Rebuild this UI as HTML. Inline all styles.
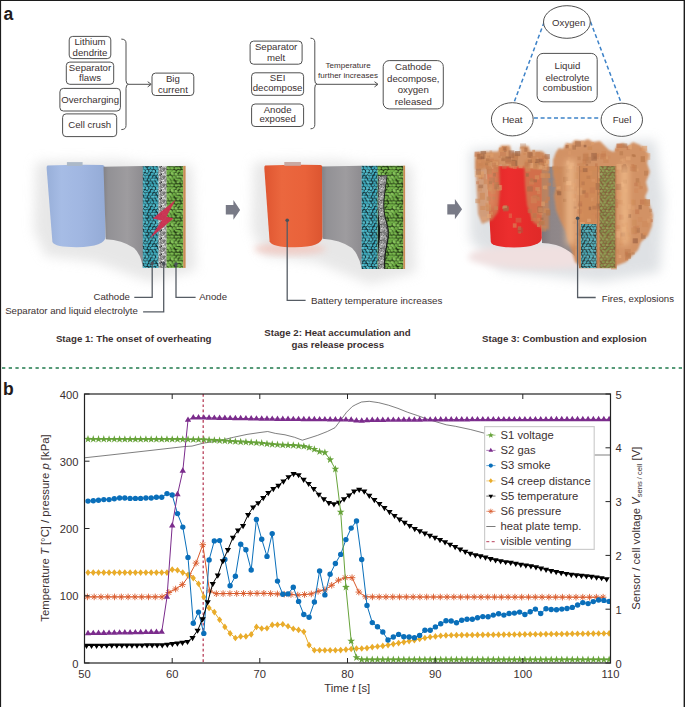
<!DOCTYPE html>
<html><head><meta charset="utf-8"><style>
html,body{margin:0;padding:0;background:#fff;}
body{width:685px;height:707px;overflow:hidden;position:relative;}
svg{position:absolute;left:0;top:0;}
text{font-family:"Liberation Sans",sans-serif;fill:#3b3030;}
.t{font-size:9.65px;}
.ts{font-size:8.05px;}
.st{font-size:9.7px;font-weight:bold;}
.pl{font-size:17.5px;font-weight:bold;fill:#231a1a;}
.ax{font-size:11.2px;}
.at{font-size:11.3px;}
.lg{font-size:11.25px;}
</style></head><body>
<svg width="685" height="707" viewBox="0 0 685 707">
<defs>
<clipPath id="plotclip"><rect x="84.5" y="394" width="526" height="269"/></clipPath>

<filter id="blur6" x="-30%" y="-30%" width="160%" height="160%"><feGaussianBlur stdDeviation="6"/></filter>
<filter id="blur4" x="-30%" y="-30%" width="160%" height="160%"><feGaussianBlur stdDeviation="4"/></filter>
<filter id="blur3" x="-30%" y="-30%" width="160%" height="160%"><feGaussianBlur stdDeviation="3"/></filter>
<filter id="blur2" x="-30%" y="-30%" width="160%" height="160%"><feGaussianBlur stdDeviation="2"/></filter>
<filter id="blur1" x="-20%" y="-20%" width="140%" height="140%"><feGaussianBlur stdDeviation="1"/></filter>
<filter id="blur07" x="-20%" y="-20%" width="140%" height="140%"><feGaussianBlur stdDeviation="0.7"/></filter>
<filter id="blur05"><feGaussianBlur stdDeviation="0.45"/></filter>
<linearGradient id="cylBlue" x1="0" x2="1" y1="0" y2="0">
 <stop offset="0" stop-color="#98afd9"/><stop offset="0.25" stop-color="#a6bce5"/>
 <stop offset="0.6" stop-color="#a0b6e1"/><stop offset="1" stop-color="#94abd6"/></linearGradient>
<linearGradient id="cylOr" x1="0" x2="1" y1="0" y2="0">
 <stop offset="0" stop-color="#df5530"/><stop offset="0.3" stop-color="#eb673e"/>
 <stop offset="0.7" stop-color="#e9623a"/><stop offset="1" stop-color="#dc5530"/></linearGradient>
<linearGradient id="cylRed" x1="0" x2="1" y1="0" y2="0">
 <stop offset="0" stop-color="#e02626"/><stop offset="0.4" stop-color="#ec2e2e"/>
 <stop offset="1" stop-color="#e02a28"/></linearGradient>
<linearGradient id="sheet" x1="0" x2="1" y1="0" y2="0">
 <stop offset="0" stop-color="#838286"/><stop offset="0.12" stop-color="#929195"/>
 <stop offset="0.6" stop-color="#9e9c9f"/><stop offset="1" stop-color="#8e8c90"/></linearGradient>
<linearGradient id="sheet2" x1="0" x2="1" y1="0" y2="0">
 <stop offset="0" stop-color="#7c7478"/><stop offset="0.3" stop-color="#8e8688"/>
 <stop offset="1" stop-color="#948c8e"/></linearGradient>

<pattern id="patC" patternUnits="userSpaceOnUse" width="14.0" height="17.1"><rect width="14.0" height="17.1" fill="#10282e"/><ellipse cx="-14.29" cy="-16.82" rx="1.51" ry="1.39" transform="rotate(26 -14.29 -16.82)" fill="#52bccc"/><ellipse cx="-14.29" cy="0.28" rx="1.51" ry="1.39" transform="rotate(26 -14.29 0.28)" fill="#52bccc"/><ellipse cx="-14.29" cy="17.38" rx="1.51" ry="1.39" transform="rotate(26 -14.29 17.38)" fill="#52bccc"/><ellipse cx="-0.29" cy="-16.82" rx="1.51" ry="1.39" transform="rotate(26 -0.29 -16.82)" fill="#52bccc"/><ellipse cx="-0.29" cy="0.28" rx="1.51" ry="1.39" transform="rotate(26 -0.29 0.28)" fill="#52bccc"/><ellipse cx="-0.29" cy="17.38" rx="1.51" ry="1.39" transform="rotate(26 -0.29 17.38)" fill="#52bccc"/><ellipse cx="13.71" cy="-16.82" rx="1.51" ry="1.39" transform="rotate(26 13.71 -16.82)" fill="#52bccc"/><ellipse cx="13.71" cy="0.28" rx="1.51" ry="1.39" transform="rotate(26 13.71 0.28)" fill="#52bccc"/><ellipse cx="13.71" cy="17.38" rx="1.51" ry="1.39" transform="rotate(26 13.71 17.38)" fill="#52bccc"/><ellipse cx="-10.52" cy="-17.20" rx="1.46" ry="1.42" transform="rotate(-29 -10.52 -17.20)" fill="#52bccc"/><ellipse cx="-10.52" cy="-0.10" rx="1.46" ry="1.42" transform="rotate(-29 -10.52 -0.10)" fill="#52bccc"/><ellipse cx="-10.52" cy="17.00" rx="1.46" ry="1.42" transform="rotate(-29 -10.52 17.00)" fill="#52bccc"/><ellipse cx="3.48" cy="-17.20" rx="1.46" ry="1.42" transform="rotate(-29 3.48 -17.20)" fill="#52bccc"/><ellipse cx="3.48" cy="-0.10" rx="1.46" ry="1.42" transform="rotate(-29 3.48 -0.10)" fill="#52bccc"/><ellipse cx="3.48" cy="17.00" rx="1.46" ry="1.42" transform="rotate(-29 3.48 17.00)" fill="#52bccc"/><ellipse cx="17.48" cy="-17.20" rx="1.46" ry="1.42" transform="rotate(-29 17.48 -17.20)" fill="#52bccc"/><ellipse cx="17.48" cy="-0.10" rx="1.46" ry="1.42" transform="rotate(-29 17.48 -0.10)" fill="#52bccc"/><ellipse cx="17.48" cy="17.00" rx="1.46" ry="1.42" transform="rotate(-29 17.48 17.00)" fill="#52bccc"/><ellipse cx="-7.05" cy="-16.89" rx="1.61" ry="1.40" transform="rotate(-50 -7.05 -16.89)" fill="#52bccc"/><ellipse cx="-7.05" cy="0.21" rx="1.61" ry="1.40" transform="rotate(-50 -7.05 0.21)" fill="#52bccc"/><ellipse cx="-7.05" cy="17.31" rx="1.61" ry="1.40" transform="rotate(-50 -7.05 17.31)" fill="#52bccc"/><ellipse cx="6.95" cy="-16.89" rx="1.61" ry="1.40" transform="rotate(-50 6.95 -16.89)" fill="#52bccc"/><ellipse cx="6.95" cy="0.21" rx="1.61" ry="1.40" transform="rotate(-50 6.95 0.21)" fill="#52bccc"/><ellipse cx="6.95" cy="17.31" rx="1.61" ry="1.40" transform="rotate(-50 6.95 17.31)" fill="#52bccc"/><ellipse cx="20.95" cy="-16.89" rx="1.61" ry="1.40" transform="rotate(-50 20.95 -16.89)" fill="#52bccc"/><ellipse cx="20.95" cy="0.21" rx="1.61" ry="1.40" transform="rotate(-50 20.95 0.21)" fill="#52bccc"/><ellipse cx="20.95" cy="17.31" rx="1.61" ry="1.40" transform="rotate(-50 20.95 17.31)" fill="#52bccc"/><ellipse cx="-3.43" cy="-17.42" rx="1.46" ry="1.29" transform="rotate(-18 -3.43 -17.42)" fill="#46b0c2"/><ellipse cx="-3.43" cy="-0.32" rx="1.46" ry="1.29" transform="rotate(-18 -3.43 -0.32)" fill="#46b0c2"/><ellipse cx="-3.43" cy="16.78" rx="1.46" ry="1.29" transform="rotate(-18 -3.43 16.78)" fill="#46b0c2"/><ellipse cx="10.57" cy="-17.42" rx="1.46" ry="1.29" transform="rotate(-18 10.57 -17.42)" fill="#46b0c2"/><ellipse cx="10.57" cy="-0.32" rx="1.46" ry="1.29" transform="rotate(-18 10.57 -0.32)" fill="#46b0c2"/><ellipse cx="10.57" cy="16.78" rx="1.46" ry="1.29" transform="rotate(-18 10.57 16.78)" fill="#46b0c2"/><ellipse cx="24.57" cy="-17.42" rx="1.46" ry="1.29" transform="rotate(-18 24.57 -17.42)" fill="#46b0c2"/><ellipse cx="24.57" cy="-0.32" rx="1.46" ry="1.29" transform="rotate(-18 24.57 -0.32)" fill="#46b0c2"/><ellipse cx="24.57" cy="16.78" rx="1.46" ry="1.29" transform="rotate(-18 24.57 16.78)" fill="#46b0c2"/><ellipse cx="-11.90" cy="-14.35" rx="1.90" ry="1.28" transform="rotate(-28 -11.90 -14.35)" fill="#52bccc"/><ellipse cx="-11.90" cy="2.75" rx="1.90" ry="1.28" transform="rotate(-28 -11.90 2.75)" fill="#52bccc"/><ellipse cx="-11.90" cy="19.85" rx="1.90" ry="1.28" transform="rotate(-28 -11.90 19.85)" fill="#52bccc"/><ellipse cx="2.10" cy="-14.35" rx="1.90" ry="1.28" transform="rotate(-28 2.10 -14.35)" fill="#52bccc"/><ellipse cx="2.10" cy="2.75" rx="1.90" ry="1.28" transform="rotate(-28 2.10 2.75)" fill="#52bccc"/><ellipse cx="2.10" cy="19.85" rx="1.90" ry="1.28" transform="rotate(-28 2.10 19.85)" fill="#52bccc"/><ellipse cx="16.10" cy="-14.35" rx="1.90" ry="1.28" transform="rotate(-28 16.10 -14.35)" fill="#52bccc"/><ellipse cx="16.10" cy="2.75" rx="1.90" ry="1.28" transform="rotate(-28 16.10 2.75)" fill="#52bccc"/><ellipse cx="16.10" cy="19.85" rx="1.90" ry="1.28" transform="rotate(-28 16.10 19.85)" fill="#52bccc"/><ellipse cx="-8.54" cy="-13.90" rx="1.59" ry="1.14" transform="rotate(5 -8.54 -13.90)" fill="#52bccc"/><ellipse cx="-8.54" cy="3.20" rx="1.59" ry="1.14" transform="rotate(5 -8.54 3.20)" fill="#52bccc"/><ellipse cx="-8.54" cy="20.30" rx="1.59" ry="1.14" transform="rotate(5 -8.54 20.30)" fill="#52bccc"/><ellipse cx="5.46" cy="-13.90" rx="1.59" ry="1.14" transform="rotate(5 5.46 -13.90)" fill="#52bccc"/><ellipse cx="5.46" cy="3.20" rx="1.59" ry="1.14" transform="rotate(5 5.46 3.20)" fill="#52bccc"/><ellipse cx="5.46" cy="20.30" rx="1.59" ry="1.14" transform="rotate(5 5.46 20.30)" fill="#52bccc"/><ellipse cx="19.46" cy="-13.90" rx="1.59" ry="1.14" transform="rotate(5 19.46 -13.90)" fill="#52bccc"/><ellipse cx="19.46" cy="3.20" rx="1.59" ry="1.14" transform="rotate(5 19.46 3.20)" fill="#52bccc"/><ellipse cx="19.46" cy="20.30" rx="1.59" ry="1.14" transform="rotate(5 19.46 20.30)" fill="#52bccc"/><ellipse cx="-5.28" cy="-14.42" rx="2.02" ry="1.09" transform="rotate(-48 -5.28 -14.42)" fill="#3eaabc"/><ellipse cx="-5.28" cy="2.68" rx="2.02" ry="1.09" transform="rotate(-48 -5.28 2.68)" fill="#3eaabc"/><ellipse cx="-5.28" cy="19.78" rx="2.02" ry="1.09" transform="rotate(-48 -5.28 19.78)" fill="#3eaabc"/><ellipse cx="8.72" cy="-14.42" rx="2.02" ry="1.09" transform="rotate(-48 8.72 -14.42)" fill="#3eaabc"/><ellipse cx="8.72" cy="2.68" rx="2.02" ry="1.09" transform="rotate(-48 8.72 2.68)" fill="#3eaabc"/><ellipse cx="8.72" cy="19.78" rx="2.02" ry="1.09" transform="rotate(-48 8.72 19.78)" fill="#3eaabc"/><ellipse cx="22.72" cy="-14.42" rx="2.02" ry="1.09" transform="rotate(-48 22.72 -14.42)" fill="#3eaabc"/><ellipse cx="22.72" cy="2.68" rx="2.02" ry="1.09" transform="rotate(-48 22.72 2.68)" fill="#3eaabc"/><ellipse cx="22.72" cy="19.78" rx="2.02" ry="1.09" transform="rotate(-48 22.72 19.78)" fill="#3eaabc"/><ellipse cx="-1.65" cy="-14.07" rx="1.65" ry="1.37" transform="rotate(-20 -1.65 -14.07)" fill="#3eaabc"/><ellipse cx="-1.65" cy="3.03" rx="1.65" ry="1.37" transform="rotate(-20 -1.65 3.03)" fill="#3eaabc"/><ellipse cx="-1.65" cy="20.13" rx="1.65" ry="1.37" transform="rotate(-20 -1.65 20.13)" fill="#3eaabc"/><ellipse cx="12.35" cy="-14.07" rx="1.65" ry="1.37" transform="rotate(-20 12.35 -14.07)" fill="#3eaabc"/><ellipse cx="12.35" cy="3.03" rx="1.65" ry="1.37" transform="rotate(-20 12.35 3.03)" fill="#3eaabc"/><ellipse cx="12.35" cy="20.13" rx="1.65" ry="1.37" transform="rotate(-20 12.35 20.13)" fill="#3eaabc"/><ellipse cx="26.35" cy="-14.07" rx="1.65" ry="1.37" transform="rotate(-20 26.35 -14.07)" fill="#3eaabc"/><ellipse cx="26.35" cy="3.03" rx="1.65" ry="1.37" transform="rotate(-20 26.35 3.03)" fill="#3eaabc"/><ellipse cx="26.35" cy="20.13" rx="1.65" ry="1.37" transform="rotate(-20 26.35 20.13)" fill="#3eaabc"/><ellipse cx="-13.83" cy="-11.05" rx="1.56" ry="1.17" transform="rotate(-8 -13.83 -11.05)" fill="#3eaabc"/><ellipse cx="-13.83" cy="6.05" rx="1.56" ry="1.17" transform="rotate(-8 -13.83 6.05)" fill="#3eaabc"/><ellipse cx="-13.83" cy="23.15" rx="1.56" ry="1.17" transform="rotate(-8 -13.83 23.15)" fill="#3eaabc"/><ellipse cx="0.17" cy="-11.05" rx="1.56" ry="1.17" transform="rotate(-8 0.17 -11.05)" fill="#3eaabc"/><ellipse cx="0.17" cy="6.05" rx="1.56" ry="1.17" transform="rotate(-8 0.17 6.05)" fill="#3eaabc"/><ellipse cx="0.17" cy="23.15" rx="1.56" ry="1.17" transform="rotate(-8 0.17 23.15)" fill="#3eaabc"/><ellipse cx="14.17" cy="-11.05" rx="1.56" ry="1.17" transform="rotate(-8 14.17 -11.05)" fill="#3eaabc"/><ellipse cx="14.17" cy="6.05" rx="1.56" ry="1.17" transform="rotate(-8 14.17 6.05)" fill="#3eaabc"/><ellipse cx="14.17" cy="23.15" rx="1.56" ry="1.17" transform="rotate(-8 14.17 23.15)" fill="#3eaabc"/><ellipse cx="-10.12" cy="-11.40" rx="1.81" ry="1.06" transform="rotate(44 -10.12 -11.40)" fill="#52bccc"/><ellipse cx="-10.12" cy="5.70" rx="1.81" ry="1.06" transform="rotate(44 -10.12 5.70)" fill="#52bccc"/><ellipse cx="-10.12" cy="22.80" rx="1.81" ry="1.06" transform="rotate(44 -10.12 22.80)" fill="#52bccc"/><ellipse cx="3.88" cy="-11.40" rx="1.81" ry="1.06" transform="rotate(44 3.88 -11.40)" fill="#52bccc"/><ellipse cx="3.88" cy="5.70" rx="1.81" ry="1.06" transform="rotate(44 3.88 5.70)" fill="#52bccc"/><ellipse cx="3.88" cy="22.80" rx="1.81" ry="1.06" transform="rotate(44 3.88 22.80)" fill="#52bccc"/><ellipse cx="17.88" cy="-11.40" rx="1.81" ry="1.06" transform="rotate(44 17.88 -11.40)" fill="#52bccc"/><ellipse cx="17.88" cy="5.70" rx="1.81" ry="1.06" transform="rotate(44 17.88 5.70)" fill="#52bccc"/><ellipse cx="17.88" cy="22.80" rx="1.81" ry="1.06" transform="rotate(44 17.88 22.80)" fill="#52bccc"/><ellipse cx="-7.21" cy="-11.16" rx="1.67" ry="1.44" transform="rotate(-9 -7.21 -11.16)" fill="#46b0c2"/><ellipse cx="-7.21" cy="5.94" rx="1.67" ry="1.44" transform="rotate(-9 -7.21 5.94)" fill="#46b0c2"/><ellipse cx="-7.21" cy="23.04" rx="1.67" ry="1.44" transform="rotate(-9 -7.21 23.04)" fill="#46b0c2"/><ellipse cx="6.79" cy="-11.16" rx="1.67" ry="1.44" transform="rotate(-9 6.79 -11.16)" fill="#46b0c2"/><ellipse cx="6.79" cy="5.94" rx="1.67" ry="1.44" transform="rotate(-9 6.79 5.94)" fill="#46b0c2"/><ellipse cx="6.79" cy="23.04" rx="1.67" ry="1.44" transform="rotate(-9 6.79 23.04)" fill="#46b0c2"/><ellipse cx="20.79" cy="-11.16" rx="1.67" ry="1.44" transform="rotate(-9 20.79 -11.16)" fill="#46b0c2"/><ellipse cx="20.79" cy="5.94" rx="1.67" ry="1.44" transform="rotate(-9 20.79 5.94)" fill="#46b0c2"/><ellipse cx="20.79" cy="23.04" rx="1.67" ry="1.44" transform="rotate(-9 20.79 23.04)" fill="#46b0c2"/><ellipse cx="-3.28" cy="-11.21" rx="1.76" ry="1.39" transform="rotate(-41 -3.28 -11.21)" fill="#3eaabc"/><ellipse cx="-3.28" cy="5.89" rx="1.76" ry="1.39" transform="rotate(-41 -3.28 5.89)" fill="#3eaabc"/><ellipse cx="-3.28" cy="22.99" rx="1.76" ry="1.39" transform="rotate(-41 -3.28 22.99)" fill="#3eaabc"/><ellipse cx="10.72" cy="-11.21" rx="1.76" ry="1.39" transform="rotate(-41 10.72 -11.21)" fill="#3eaabc"/><ellipse cx="10.72" cy="5.89" rx="1.76" ry="1.39" transform="rotate(-41 10.72 5.89)" fill="#3eaabc"/><ellipse cx="10.72" cy="22.99" rx="1.76" ry="1.39" transform="rotate(-41 10.72 22.99)" fill="#3eaabc"/><ellipse cx="24.72" cy="-11.21" rx="1.76" ry="1.39" transform="rotate(-41 24.72 -11.21)" fill="#3eaabc"/><ellipse cx="24.72" cy="5.89" rx="1.76" ry="1.39" transform="rotate(-41 24.72 5.89)" fill="#3eaabc"/><ellipse cx="24.72" cy="22.99" rx="1.76" ry="1.39" transform="rotate(-41 24.72 22.99)" fill="#3eaabc"/><ellipse cx="-12.23" cy="-8.64" rx="1.74" ry="1.18" transform="rotate(-1 -12.23 -8.64)" fill="#46b0c2"/><ellipse cx="-12.23" cy="8.46" rx="1.74" ry="1.18" transform="rotate(-1 -12.23 8.46)" fill="#46b0c2"/><ellipse cx="-12.23" cy="25.56" rx="1.74" ry="1.18" transform="rotate(-1 -12.23 25.56)" fill="#46b0c2"/><ellipse cx="1.77" cy="-8.64" rx="1.74" ry="1.18" transform="rotate(-1 1.77 -8.64)" fill="#46b0c2"/><ellipse cx="1.77" cy="8.46" rx="1.74" ry="1.18" transform="rotate(-1 1.77 8.46)" fill="#46b0c2"/><ellipse cx="1.77" cy="25.56" rx="1.74" ry="1.18" transform="rotate(-1 1.77 25.56)" fill="#46b0c2"/><ellipse cx="15.77" cy="-8.64" rx="1.74" ry="1.18" transform="rotate(-1 15.77 -8.64)" fill="#46b0c2"/><ellipse cx="15.77" cy="8.46" rx="1.74" ry="1.18" transform="rotate(-1 15.77 8.46)" fill="#46b0c2"/><ellipse cx="15.77" cy="25.56" rx="1.74" ry="1.18" transform="rotate(-1 15.77 25.56)" fill="#46b0c2"/><ellipse cx="-8.47" cy="-8.46" rx="1.55" ry="1.27" transform="rotate(8 -8.47 -8.46)" fill="#3eaabc"/><ellipse cx="-8.47" cy="8.64" rx="1.55" ry="1.27" transform="rotate(8 -8.47 8.64)" fill="#3eaabc"/><ellipse cx="-8.47" cy="25.74" rx="1.55" ry="1.27" transform="rotate(8 -8.47 25.74)" fill="#3eaabc"/><ellipse cx="5.53" cy="-8.46" rx="1.55" ry="1.27" transform="rotate(8 5.53 -8.46)" fill="#3eaabc"/><ellipse cx="5.53" cy="8.64" rx="1.55" ry="1.27" transform="rotate(8 5.53 8.64)" fill="#3eaabc"/><ellipse cx="5.53" cy="25.74" rx="1.55" ry="1.27" transform="rotate(8 5.53 25.74)" fill="#3eaabc"/><ellipse cx="19.53" cy="-8.46" rx="1.55" ry="1.27" transform="rotate(8 19.53 -8.46)" fill="#3eaabc"/><ellipse cx="19.53" cy="8.64" rx="1.55" ry="1.27" transform="rotate(8 19.53 8.64)" fill="#3eaabc"/><ellipse cx="19.53" cy="25.74" rx="1.55" ry="1.27" transform="rotate(8 19.53 25.74)" fill="#3eaabc"/><ellipse cx="-4.86" cy="-8.33" rx="1.59" ry="1.27" transform="rotate(4 -4.86 -8.33)" fill="#3eaabc"/><ellipse cx="-4.86" cy="8.77" rx="1.59" ry="1.27" transform="rotate(4 -4.86 8.77)" fill="#3eaabc"/><ellipse cx="-4.86" cy="25.87" rx="1.59" ry="1.27" transform="rotate(4 -4.86 25.87)" fill="#3eaabc"/><ellipse cx="9.14" cy="-8.33" rx="1.59" ry="1.27" transform="rotate(4 9.14 -8.33)" fill="#3eaabc"/><ellipse cx="9.14" cy="8.77" rx="1.59" ry="1.27" transform="rotate(4 9.14 8.77)" fill="#3eaabc"/><ellipse cx="9.14" cy="25.87" rx="1.59" ry="1.27" transform="rotate(4 9.14 25.87)" fill="#3eaabc"/><ellipse cx="23.14" cy="-8.33" rx="1.59" ry="1.27" transform="rotate(4 23.14 -8.33)" fill="#3eaabc"/><ellipse cx="23.14" cy="8.77" rx="1.59" ry="1.27" transform="rotate(4 23.14 8.77)" fill="#3eaabc"/><ellipse cx="23.14" cy="25.87" rx="1.59" ry="1.27" transform="rotate(4 23.14 25.87)" fill="#3eaabc"/><ellipse cx="-1.39" cy="-8.49" rx="1.86" ry="1.32" transform="rotate(-4 -1.39 -8.49)" fill="#52bccc"/><ellipse cx="-1.39" cy="8.61" rx="1.86" ry="1.32" transform="rotate(-4 -1.39 8.61)" fill="#52bccc"/><ellipse cx="-1.39" cy="25.71" rx="1.86" ry="1.32" transform="rotate(-4 -1.39 25.71)" fill="#52bccc"/><ellipse cx="12.61" cy="-8.49" rx="1.86" ry="1.32" transform="rotate(-4 12.61 -8.49)" fill="#52bccc"/><ellipse cx="12.61" cy="8.61" rx="1.86" ry="1.32" transform="rotate(-4 12.61 8.61)" fill="#52bccc"/><ellipse cx="12.61" cy="25.71" rx="1.86" ry="1.32" transform="rotate(-4 12.61 25.71)" fill="#52bccc"/><ellipse cx="26.61" cy="-8.49" rx="1.86" ry="1.32" transform="rotate(-4 26.61 -8.49)" fill="#52bccc"/><ellipse cx="26.61" cy="8.61" rx="1.86" ry="1.32" transform="rotate(-4 26.61 8.61)" fill="#52bccc"/><ellipse cx="26.61" cy="25.71" rx="1.86" ry="1.32" transform="rotate(-4 26.61 25.71)" fill="#52bccc"/><ellipse cx="-13.82" cy="-5.79" rx="1.76" ry="1.10" transform="rotate(36 -13.82 -5.79)" fill="#3eaabc"/><ellipse cx="-13.82" cy="11.31" rx="1.76" ry="1.10" transform="rotate(36 -13.82 11.31)" fill="#3eaabc"/><ellipse cx="-13.82" cy="28.41" rx="1.76" ry="1.10" transform="rotate(36 -13.82 28.41)" fill="#3eaabc"/><ellipse cx="0.18" cy="-5.79" rx="1.76" ry="1.10" transform="rotate(36 0.18 -5.79)" fill="#3eaabc"/><ellipse cx="0.18" cy="11.31" rx="1.76" ry="1.10" transform="rotate(36 0.18 11.31)" fill="#3eaabc"/><ellipse cx="0.18" cy="28.41" rx="1.76" ry="1.10" transform="rotate(36 0.18 28.41)" fill="#3eaabc"/><ellipse cx="14.18" cy="-5.79" rx="1.76" ry="1.10" transform="rotate(36 14.18 -5.79)" fill="#3eaabc"/><ellipse cx="14.18" cy="11.31" rx="1.76" ry="1.10" transform="rotate(36 14.18 11.31)" fill="#3eaabc"/><ellipse cx="14.18" cy="28.41" rx="1.76" ry="1.10" transform="rotate(36 14.18 28.41)" fill="#3eaabc"/><ellipse cx="-10.28" cy="-5.94" rx="1.99" ry="1.30" transform="rotate(45 -10.28 -5.94)" fill="#52bccc"/><ellipse cx="-10.28" cy="11.16" rx="1.99" ry="1.30" transform="rotate(45 -10.28 11.16)" fill="#52bccc"/><ellipse cx="-10.28" cy="28.26" rx="1.99" ry="1.30" transform="rotate(45 -10.28 28.26)" fill="#52bccc"/><ellipse cx="3.72" cy="-5.94" rx="1.99" ry="1.30" transform="rotate(45 3.72 -5.94)" fill="#52bccc"/><ellipse cx="3.72" cy="11.16" rx="1.99" ry="1.30" transform="rotate(45 3.72 11.16)" fill="#52bccc"/><ellipse cx="3.72" cy="28.26" rx="1.99" ry="1.30" transform="rotate(45 3.72 28.26)" fill="#52bccc"/><ellipse cx="17.72" cy="-5.94" rx="1.99" ry="1.30" transform="rotate(45 17.72 -5.94)" fill="#52bccc"/><ellipse cx="17.72" cy="11.16" rx="1.99" ry="1.30" transform="rotate(45 17.72 11.16)" fill="#52bccc"/><ellipse cx="17.72" cy="28.26" rx="1.99" ry="1.30" transform="rotate(45 17.72 28.26)" fill="#52bccc"/><ellipse cx="-7.24" cy="-5.70" rx="1.70" ry="1.04" transform="rotate(-2 -7.24 -5.70)" fill="#52bccc"/><ellipse cx="-7.24" cy="11.40" rx="1.70" ry="1.04" transform="rotate(-2 -7.24 11.40)" fill="#52bccc"/><ellipse cx="-7.24" cy="28.50" rx="1.70" ry="1.04" transform="rotate(-2 -7.24 28.50)" fill="#52bccc"/><ellipse cx="6.76" cy="-5.70" rx="1.70" ry="1.04" transform="rotate(-2 6.76 -5.70)" fill="#52bccc"/><ellipse cx="6.76" cy="11.40" rx="1.70" ry="1.04" transform="rotate(-2 6.76 11.40)" fill="#52bccc"/><ellipse cx="6.76" cy="28.50" rx="1.70" ry="1.04" transform="rotate(-2 6.76 28.50)" fill="#52bccc"/><ellipse cx="20.76" cy="-5.70" rx="1.70" ry="1.04" transform="rotate(-2 20.76 -5.70)" fill="#52bccc"/><ellipse cx="20.76" cy="11.40" rx="1.70" ry="1.04" transform="rotate(-2 20.76 11.40)" fill="#52bccc"/><ellipse cx="20.76" cy="28.50" rx="1.70" ry="1.04" transform="rotate(-2 20.76 28.50)" fill="#52bccc"/><ellipse cx="-3.47" cy="-5.47" rx="1.46" ry="1.14" transform="rotate(-17 -3.47 -5.47)" fill="#3eaabc"/><ellipse cx="-3.47" cy="11.63" rx="1.46" ry="1.14" transform="rotate(-17 -3.47 11.63)" fill="#3eaabc"/><ellipse cx="-3.47" cy="28.73" rx="1.46" ry="1.14" transform="rotate(-17 -3.47 28.73)" fill="#3eaabc"/><ellipse cx="10.53" cy="-5.47" rx="1.46" ry="1.14" transform="rotate(-17 10.53 -5.47)" fill="#3eaabc"/><ellipse cx="10.53" cy="11.63" rx="1.46" ry="1.14" transform="rotate(-17 10.53 11.63)" fill="#3eaabc"/><ellipse cx="10.53" cy="28.73" rx="1.46" ry="1.14" transform="rotate(-17 10.53 28.73)" fill="#3eaabc"/><ellipse cx="24.53" cy="-5.47" rx="1.46" ry="1.14" transform="rotate(-17 24.53 -5.47)" fill="#3eaabc"/><ellipse cx="24.53" cy="11.63" rx="1.46" ry="1.14" transform="rotate(-17 24.53 11.63)" fill="#3eaabc"/><ellipse cx="24.53" cy="28.73" rx="1.46" ry="1.14" transform="rotate(-17 24.53 28.73)" fill="#3eaabc"/><ellipse cx="-12.51" cy="-2.78" rx="1.94" ry="1.41" transform="rotate(36 -12.51 -2.78)" fill="#3eaabc"/><ellipse cx="-12.51" cy="14.32" rx="1.94" ry="1.41" transform="rotate(36 -12.51 14.32)" fill="#3eaabc"/><ellipse cx="-12.51" cy="31.42" rx="1.94" ry="1.41" transform="rotate(36 -12.51 31.42)" fill="#3eaabc"/><ellipse cx="1.49" cy="-2.78" rx="1.94" ry="1.41" transform="rotate(36 1.49 -2.78)" fill="#3eaabc"/><ellipse cx="1.49" cy="14.32" rx="1.94" ry="1.41" transform="rotate(36 1.49 14.32)" fill="#3eaabc"/><ellipse cx="1.49" cy="31.42" rx="1.94" ry="1.41" transform="rotate(36 1.49 31.42)" fill="#3eaabc"/><ellipse cx="15.49" cy="-2.78" rx="1.94" ry="1.41" transform="rotate(36 15.49 -2.78)" fill="#3eaabc"/><ellipse cx="15.49" cy="14.32" rx="1.94" ry="1.41" transform="rotate(36 15.49 14.32)" fill="#3eaabc"/><ellipse cx="15.49" cy="31.42" rx="1.94" ry="1.41" transform="rotate(36 15.49 31.42)" fill="#3eaabc"/><ellipse cx="-8.95" cy="-2.58" rx="1.99" ry="1.25" transform="rotate(17 -8.95 -2.58)" fill="#46b0c2"/><ellipse cx="-8.95" cy="14.52" rx="1.99" ry="1.25" transform="rotate(17 -8.95 14.52)" fill="#46b0c2"/><ellipse cx="-8.95" cy="31.62" rx="1.99" ry="1.25" transform="rotate(17 -8.95 31.62)" fill="#46b0c2"/><ellipse cx="5.05" cy="-2.58" rx="1.99" ry="1.25" transform="rotate(17 5.05 -2.58)" fill="#46b0c2"/><ellipse cx="5.05" cy="14.52" rx="1.99" ry="1.25" transform="rotate(17 5.05 14.52)" fill="#46b0c2"/><ellipse cx="5.05" cy="31.62" rx="1.99" ry="1.25" transform="rotate(17 5.05 31.62)" fill="#46b0c2"/><ellipse cx="19.05" cy="-2.58" rx="1.99" ry="1.25" transform="rotate(17 19.05 -2.58)" fill="#46b0c2"/><ellipse cx="19.05" cy="14.52" rx="1.99" ry="1.25" transform="rotate(17 19.05 14.52)" fill="#46b0c2"/><ellipse cx="19.05" cy="31.62" rx="1.99" ry="1.25" transform="rotate(17 19.05 31.62)" fill="#46b0c2"/><ellipse cx="-5.05" cy="-3.03" rx="1.56" ry="1.17" transform="rotate(-23 -5.05 -3.03)" fill="#3eaabc"/><ellipse cx="-5.05" cy="14.07" rx="1.56" ry="1.17" transform="rotate(-23 -5.05 14.07)" fill="#3eaabc"/><ellipse cx="-5.05" cy="31.17" rx="1.56" ry="1.17" transform="rotate(-23 -5.05 31.17)" fill="#3eaabc"/><ellipse cx="8.95" cy="-3.03" rx="1.56" ry="1.17" transform="rotate(-23 8.95 -3.03)" fill="#3eaabc"/><ellipse cx="8.95" cy="14.07" rx="1.56" ry="1.17" transform="rotate(-23 8.95 14.07)" fill="#3eaabc"/><ellipse cx="8.95" cy="31.17" rx="1.56" ry="1.17" transform="rotate(-23 8.95 31.17)" fill="#3eaabc"/><ellipse cx="22.95" cy="-3.03" rx="1.56" ry="1.17" transform="rotate(-23 22.95 -3.03)" fill="#3eaabc"/><ellipse cx="22.95" cy="14.07" rx="1.56" ry="1.17" transform="rotate(-23 22.95 14.07)" fill="#3eaabc"/><ellipse cx="22.95" cy="31.17" rx="1.56" ry="1.17" transform="rotate(-23 22.95 31.17)" fill="#3eaabc"/><ellipse cx="-2.02" cy="-3.05" rx="1.61" ry="1.36" transform="rotate(45 -2.02 -3.05)" fill="#3eaabc"/><ellipse cx="-2.02" cy="14.05" rx="1.61" ry="1.36" transform="rotate(45 -2.02 14.05)" fill="#3eaabc"/><ellipse cx="-2.02" cy="31.15" rx="1.61" ry="1.36" transform="rotate(45 -2.02 31.15)" fill="#3eaabc"/><ellipse cx="11.98" cy="-3.05" rx="1.61" ry="1.36" transform="rotate(45 11.98 -3.05)" fill="#3eaabc"/><ellipse cx="11.98" cy="14.05" rx="1.61" ry="1.36" transform="rotate(45 11.98 14.05)" fill="#3eaabc"/><ellipse cx="11.98" cy="31.15" rx="1.61" ry="1.36" transform="rotate(45 11.98 31.15)" fill="#3eaabc"/><ellipse cx="25.98" cy="-3.05" rx="1.61" ry="1.36" transform="rotate(45 25.98 -3.05)" fill="#3eaabc"/><ellipse cx="25.98" cy="14.05" rx="1.61" ry="1.36" transform="rotate(45 25.98 14.05)" fill="#3eaabc"/><ellipse cx="25.98" cy="31.15" rx="1.61" ry="1.36" transform="rotate(45 25.98 31.15)" fill="#3eaabc"/></pattern>
<pattern id="patA" patternUnits="userSpaceOnUse" width="14.8" height="17.1"><rect width="14.8" height="17.1" fill="#16280a"/><ellipse cx="-14.44" cy="-16.74" rx="1.81" ry="1.16" transform="rotate(-44 -14.44 -16.74)" fill="#7aba4e"/><ellipse cx="-14.44" cy="0.36" rx="1.81" ry="1.16" transform="rotate(-44 -14.44 0.36)" fill="#7aba4e"/><ellipse cx="-14.44" cy="17.46" rx="1.81" ry="1.16" transform="rotate(-44 -14.44 17.46)" fill="#7aba4e"/><ellipse cx="0.36" cy="-16.74" rx="1.81" ry="1.16" transform="rotate(-44 0.36 -16.74)" fill="#7aba4e"/><ellipse cx="0.36" cy="0.36" rx="1.81" ry="1.16" transform="rotate(-44 0.36 0.36)" fill="#7aba4e"/><ellipse cx="0.36" cy="17.46" rx="1.81" ry="1.16" transform="rotate(-44 0.36 17.46)" fill="#7aba4e"/><ellipse cx="15.16" cy="-16.74" rx="1.81" ry="1.16" transform="rotate(-44 15.16 -16.74)" fill="#7aba4e"/><ellipse cx="15.16" cy="0.36" rx="1.81" ry="1.16" transform="rotate(-44 15.16 0.36)" fill="#7aba4e"/><ellipse cx="15.16" cy="17.46" rx="1.81" ry="1.16" transform="rotate(-44 15.16 17.46)" fill="#7aba4e"/><ellipse cx="-10.85" cy="-16.82" rx="1.97" ry="1.35" transform="rotate(-25 -10.85 -16.82)" fill="#7aba4e"/><ellipse cx="-10.85" cy="0.28" rx="1.97" ry="1.35" transform="rotate(-25 -10.85 0.28)" fill="#7aba4e"/><ellipse cx="-10.85" cy="17.38" rx="1.97" ry="1.35" transform="rotate(-25 -10.85 17.38)" fill="#7aba4e"/><ellipse cx="3.95" cy="-16.82" rx="1.97" ry="1.35" transform="rotate(-25 3.95 -16.82)" fill="#7aba4e"/><ellipse cx="3.95" cy="0.28" rx="1.97" ry="1.35" transform="rotate(-25 3.95 0.28)" fill="#7aba4e"/><ellipse cx="3.95" cy="17.38" rx="1.97" ry="1.35" transform="rotate(-25 3.95 17.38)" fill="#7aba4e"/><ellipse cx="18.75" cy="-16.82" rx="1.97" ry="1.35" transform="rotate(-25 18.75 -16.82)" fill="#7aba4e"/><ellipse cx="18.75" cy="0.28" rx="1.97" ry="1.35" transform="rotate(-25 18.75 0.28)" fill="#7aba4e"/><ellipse cx="18.75" cy="17.38" rx="1.97" ry="1.35" transform="rotate(-25 18.75 17.38)" fill="#7aba4e"/><ellipse cx="-7.67" cy="-17.16" rx="2.15" ry="1.32" transform="rotate(-11 -7.67 -17.16)" fill="#70b046"/><ellipse cx="-7.67" cy="-0.06" rx="2.15" ry="1.32" transform="rotate(-11 -7.67 -0.06)" fill="#70b046"/><ellipse cx="-7.67" cy="17.04" rx="2.15" ry="1.32" transform="rotate(-11 -7.67 17.04)" fill="#70b046"/><ellipse cx="7.13" cy="-17.16" rx="2.15" ry="1.32" transform="rotate(-11 7.13 -17.16)" fill="#70b046"/><ellipse cx="7.13" cy="-0.06" rx="2.15" ry="1.32" transform="rotate(-11 7.13 -0.06)" fill="#70b046"/><ellipse cx="7.13" cy="17.04" rx="2.15" ry="1.32" transform="rotate(-11 7.13 17.04)" fill="#70b046"/><ellipse cx="21.93" cy="-17.16" rx="2.15" ry="1.32" transform="rotate(-11 21.93 -17.16)" fill="#70b046"/><ellipse cx="21.93" cy="-0.06" rx="2.15" ry="1.32" transform="rotate(-11 21.93 -0.06)" fill="#70b046"/><ellipse cx="21.93" cy="17.04" rx="2.15" ry="1.32" transform="rotate(-11 21.93 17.04)" fill="#70b046"/><ellipse cx="-3.80" cy="-16.75" rx="2.15" ry="1.25" transform="rotate(0 -3.80 -16.75)" fill="#7aba4e"/><ellipse cx="-3.80" cy="0.35" rx="2.15" ry="1.25" transform="rotate(0 -3.80 0.35)" fill="#7aba4e"/><ellipse cx="-3.80" cy="17.45" rx="2.15" ry="1.25" transform="rotate(0 -3.80 17.45)" fill="#7aba4e"/><ellipse cx="11.00" cy="-16.75" rx="2.15" ry="1.25" transform="rotate(0 11.00 -16.75)" fill="#7aba4e"/><ellipse cx="11.00" cy="0.35" rx="2.15" ry="1.25" transform="rotate(0 11.00 0.35)" fill="#7aba4e"/><ellipse cx="11.00" cy="17.45" rx="2.15" ry="1.25" transform="rotate(0 11.00 17.45)" fill="#7aba4e"/><ellipse cx="25.80" cy="-16.75" rx="2.15" ry="1.25" transform="rotate(0 25.80 -16.75)" fill="#7aba4e"/><ellipse cx="25.80" cy="0.35" rx="2.15" ry="1.25" transform="rotate(0 25.80 0.35)" fill="#7aba4e"/><ellipse cx="25.80" cy="17.45" rx="2.15" ry="1.25" transform="rotate(0 25.80 17.45)" fill="#7aba4e"/><ellipse cx="-12.60" cy="-13.92" rx="1.67" ry="1.16" transform="rotate(-8 -12.60 -13.92)" fill="#70b046"/><ellipse cx="-12.60" cy="3.18" rx="1.67" ry="1.16" transform="rotate(-8 -12.60 3.18)" fill="#70b046"/><ellipse cx="-12.60" cy="20.28" rx="1.67" ry="1.16" transform="rotate(-8 -12.60 20.28)" fill="#70b046"/><ellipse cx="2.20" cy="-13.92" rx="1.67" ry="1.16" transform="rotate(-8 2.20 -13.92)" fill="#70b046"/><ellipse cx="2.20" cy="3.18" rx="1.67" ry="1.16" transform="rotate(-8 2.20 3.18)" fill="#70b046"/><ellipse cx="2.20" cy="20.28" rx="1.67" ry="1.16" transform="rotate(-8 2.20 20.28)" fill="#70b046"/><ellipse cx="17.00" cy="-13.92" rx="1.67" ry="1.16" transform="rotate(-8 17.00 -13.92)" fill="#70b046"/><ellipse cx="17.00" cy="3.18" rx="1.67" ry="1.16" transform="rotate(-8 17.00 3.18)" fill="#70b046"/><ellipse cx="17.00" cy="20.28" rx="1.67" ry="1.16" transform="rotate(-8 17.00 20.28)" fill="#70b046"/><ellipse cx="-9.47" cy="-14.51" rx="1.91" ry="1.55" transform="rotate(-33 -9.47 -14.51)" fill="#70b046"/><ellipse cx="-9.47" cy="2.59" rx="1.91" ry="1.55" transform="rotate(-33 -9.47 2.59)" fill="#70b046"/><ellipse cx="-9.47" cy="19.69" rx="1.91" ry="1.55" transform="rotate(-33 -9.47 19.69)" fill="#70b046"/><ellipse cx="5.33" cy="-14.51" rx="1.91" ry="1.55" transform="rotate(-33 5.33 -14.51)" fill="#70b046"/><ellipse cx="5.33" cy="2.59" rx="1.91" ry="1.55" transform="rotate(-33 5.33 2.59)" fill="#70b046"/><ellipse cx="5.33" cy="19.69" rx="1.91" ry="1.55" transform="rotate(-33 5.33 19.69)" fill="#70b046"/><ellipse cx="20.13" cy="-14.51" rx="1.91" ry="1.55" transform="rotate(-33 20.13 -14.51)" fill="#70b046"/><ellipse cx="20.13" cy="2.59" rx="1.91" ry="1.55" transform="rotate(-33 20.13 2.59)" fill="#70b046"/><ellipse cx="20.13" cy="19.69" rx="1.91" ry="1.55" transform="rotate(-33 20.13 19.69)" fill="#70b046"/><ellipse cx="-5.41" cy="-14.50" rx="2.06" ry="1.51" transform="rotate(39 -5.41 -14.50)" fill="#86c45a"/><ellipse cx="-5.41" cy="2.60" rx="2.06" ry="1.51" transform="rotate(39 -5.41 2.60)" fill="#86c45a"/><ellipse cx="-5.41" cy="19.70" rx="2.06" ry="1.51" transform="rotate(39 -5.41 19.70)" fill="#86c45a"/><ellipse cx="9.39" cy="-14.50" rx="2.06" ry="1.51" transform="rotate(39 9.39 -14.50)" fill="#86c45a"/><ellipse cx="9.39" cy="2.60" rx="2.06" ry="1.51" transform="rotate(39 9.39 2.60)" fill="#86c45a"/><ellipse cx="9.39" cy="19.70" rx="2.06" ry="1.51" transform="rotate(39 9.39 19.70)" fill="#86c45a"/><ellipse cx="24.19" cy="-14.50" rx="2.06" ry="1.51" transform="rotate(39 24.19 -14.50)" fill="#86c45a"/><ellipse cx="24.19" cy="2.60" rx="2.06" ry="1.51" transform="rotate(39 24.19 2.60)" fill="#86c45a"/><ellipse cx="24.19" cy="19.70" rx="2.06" ry="1.51" transform="rotate(39 24.19 19.70)" fill="#86c45a"/><ellipse cx="-1.64" cy="-14.02" rx="1.67" ry="1.44" transform="rotate(-15 -1.64 -14.02)" fill="#86c45a"/><ellipse cx="-1.64" cy="3.08" rx="1.67" ry="1.44" transform="rotate(-15 -1.64 3.08)" fill="#86c45a"/><ellipse cx="-1.64" cy="20.18" rx="1.67" ry="1.44" transform="rotate(-15 -1.64 20.18)" fill="#86c45a"/><ellipse cx="13.16" cy="-14.02" rx="1.67" ry="1.44" transform="rotate(-15 13.16 -14.02)" fill="#86c45a"/><ellipse cx="13.16" cy="3.08" rx="1.67" ry="1.44" transform="rotate(-15 13.16 3.08)" fill="#86c45a"/><ellipse cx="13.16" cy="20.18" rx="1.67" ry="1.44" transform="rotate(-15 13.16 20.18)" fill="#86c45a"/><ellipse cx="27.96" cy="-14.02" rx="1.67" ry="1.44" transform="rotate(-15 27.96 -14.02)" fill="#86c45a"/><ellipse cx="27.96" cy="3.08" rx="1.67" ry="1.44" transform="rotate(-15 27.96 3.08)" fill="#86c45a"/><ellipse cx="27.96" cy="20.18" rx="1.67" ry="1.44" transform="rotate(-15 27.96 20.18)" fill="#86c45a"/><ellipse cx="-14.63" cy="-11.43" rx="1.75" ry="1.32" transform="rotate(3 -14.63 -11.43)" fill="#86c45a"/><ellipse cx="-14.63" cy="5.67" rx="1.75" ry="1.32" transform="rotate(3 -14.63 5.67)" fill="#86c45a"/><ellipse cx="-14.63" cy="22.77" rx="1.75" ry="1.32" transform="rotate(3 -14.63 22.77)" fill="#86c45a"/><ellipse cx="0.17" cy="-11.43" rx="1.75" ry="1.32" transform="rotate(3 0.17 -11.43)" fill="#86c45a"/><ellipse cx="0.17" cy="5.67" rx="1.75" ry="1.32" transform="rotate(3 0.17 5.67)" fill="#86c45a"/><ellipse cx="0.17" cy="22.77" rx="1.75" ry="1.32" transform="rotate(3 0.17 22.77)" fill="#86c45a"/><ellipse cx="14.97" cy="-11.43" rx="1.75" ry="1.32" transform="rotate(3 14.97 -11.43)" fill="#86c45a"/><ellipse cx="14.97" cy="5.67" rx="1.75" ry="1.32" transform="rotate(3 14.97 5.67)" fill="#86c45a"/><ellipse cx="14.97" cy="22.77" rx="1.75" ry="1.32" transform="rotate(3 14.97 22.77)" fill="#86c45a"/><ellipse cx="-11.09" cy="-11.16" rx="2.17" ry="1.30" transform="rotate(16 -11.09 -11.16)" fill="#86c45a"/><ellipse cx="-11.09" cy="5.94" rx="2.17" ry="1.30" transform="rotate(16 -11.09 5.94)" fill="#86c45a"/><ellipse cx="-11.09" cy="23.04" rx="2.17" ry="1.30" transform="rotate(16 -11.09 23.04)" fill="#86c45a"/><ellipse cx="3.71" cy="-11.16" rx="2.17" ry="1.30" transform="rotate(16 3.71 -11.16)" fill="#86c45a"/><ellipse cx="3.71" cy="5.94" rx="2.17" ry="1.30" transform="rotate(16 3.71 5.94)" fill="#86c45a"/><ellipse cx="3.71" cy="23.04" rx="2.17" ry="1.30" transform="rotate(16 3.71 23.04)" fill="#86c45a"/><ellipse cx="18.51" cy="-11.16" rx="2.17" ry="1.30" transform="rotate(16 18.51 -11.16)" fill="#86c45a"/><ellipse cx="18.51" cy="5.94" rx="2.17" ry="1.30" transform="rotate(16 18.51 5.94)" fill="#86c45a"/><ellipse cx="18.51" cy="23.04" rx="2.17" ry="1.30" transform="rotate(16 18.51 23.04)" fill="#86c45a"/><ellipse cx="-7.35" cy="-11.06" rx="2.01" ry="1.52" transform="rotate(22 -7.35 -11.06)" fill="#86c45a"/><ellipse cx="-7.35" cy="6.04" rx="2.01" ry="1.52" transform="rotate(22 -7.35 6.04)" fill="#86c45a"/><ellipse cx="-7.35" cy="23.14" rx="2.01" ry="1.52" transform="rotate(22 -7.35 23.14)" fill="#86c45a"/><ellipse cx="7.45" cy="-11.06" rx="2.01" ry="1.52" transform="rotate(22 7.45 -11.06)" fill="#86c45a"/><ellipse cx="7.45" cy="6.04" rx="2.01" ry="1.52" transform="rotate(22 7.45 6.04)" fill="#86c45a"/><ellipse cx="7.45" cy="23.14" rx="2.01" ry="1.52" transform="rotate(22 7.45 23.14)" fill="#86c45a"/><ellipse cx="22.25" cy="-11.06" rx="2.01" ry="1.52" transform="rotate(22 22.25 -11.06)" fill="#86c45a"/><ellipse cx="22.25" cy="6.04" rx="2.01" ry="1.52" transform="rotate(22 22.25 6.04)" fill="#86c45a"/><ellipse cx="22.25" cy="23.14" rx="2.01" ry="1.52" transform="rotate(22 22.25 23.14)" fill="#86c45a"/><ellipse cx="-3.45" cy="-11.13" rx="1.74" ry="1.51" transform="rotate(38 -3.45 -11.13)" fill="#70b046"/><ellipse cx="-3.45" cy="5.97" rx="1.74" ry="1.51" transform="rotate(38 -3.45 5.97)" fill="#70b046"/><ellipse cx="-3.45" cy="23.07" rx="1.74" ry="1.51" transform="rotate(38 -3.45 23.07)" fill="#70b046"/><ellipse cx="11.35" cy="-11.13" rx="1.74" ry="1.51" transform="rotate(38 11.35 -11.13)" fill="#70b046"/><ellipse cx="11.35" cy="5.97" rx="1.74" ry="1.51" transform="rotate(38 11.35 5.97)" fill="#70b046"/><ellipse cx="11.35" cy="23.07" rx="1.74" ry="1.51" transform="rotate(38 11.35 23.07)" fill="#70b046"/><ellipse cx="26.15" cy="-11.13" rx="1.74" ry="1.51" transform="rotate(38 26.15 -11.13)" fill="#70b046"/><ellipse cx="26.15" cy="5.97" rx="1.74" ry="1.51" transform="rotate(38 26.15 5.97)" fill="#70b046"/><ellipse cx="26.15" cy="23.07" rx="1.74" ry="1.51" transform="rotate(38 26.15 23.07)" fill="#70b046"/><ellipse cx="-13.10" cy="-8.18" rx="1.94" ry="1.32" transform="rotate(21 -13.10 -8.18)" fill="#70b046"/><ellipse cx="-13.10" cy="8.92" rx="1.94" ry="1.32" transform="rotate(21 -13.10 8.92)" fill="#70b046"/><ellipse cx="-13.10" cy="26.02" rx="1.94" ry="1.32" transform="rotate(21 -13.10 26.02)" fill="#70b046"/><ellipse cx="1.70" cy="-8.18" rx="1.94" ry="1.32" transform="rotate(21 1.70 -8.18)" fill="#70b046"/><ellipse cx="1.70" cy="8.92" rx="1.94" ry="1.32" transform="rotate(21 1.70 8.92)" fill="#70b046"/><ellipse cx="1.70" cy="26.02" rx="1.94" ry="1.32" transform="rotate(21 1.70 26.02)" fill="#70b046"/><ellipse cx="16.50" cy="-8.18" rx="1.94" ry="1.32" transform="rotate(21 16.50 -8.18)" fill="#70b046"/><ellipse cx="16.50" cy="8.92" rx="1.94" ry="1.32" transform="rotate(21 16.50 8.92)" fill="#70b046"/><ellipse cx="16.50" cy="26.02" rx="1.94" ry="1.32" transform="rotate(21 16.50 26.02)" fill="#70b046"/><ellipse cx="-9.16" cy="-8.62" rx="1.91" ry="1.52" transform="rotate(23 -9.16 -8.62)" fill="#86c45a"/><ellipse cx="-9.16" cy="8.48" rx="1.91" ry="1.52" transform="rotate(23 -9.16 8.48)" fill="#86c45a"/><ellipse cx="-9.16" cy="25.58" rx="1.91" ry="1.52" transform="rotate(23 -9.16 25.58)" fill="#86c45a"/><ellipse cx="5.64" cy="-8.62" rx="1.91" ry="1.52" transform="rotate(23 5.64 -8.62)" fill="#86c45a"/><ellipse cx="5.64" cy="8.48" rx="1.91" ry="1.52" transform="rotate(23 5.64 8.48)" fill="#86c45a"/><ellipse cx="5.64" cy="25.58" rx="1.91" ry="1.52" transform="rotate(23 5.64 25.58)" fill="#86c45a"/><ellipse cx="20.44" cy="-8.62" rx="1.91" ry="1.52" transform="rotate(23 20.44 -8.62)" fill="#86c45a"/><ellipse cx="20.44" cy="8.48" rx="1.91" ry="1.52" transform="rotate(23 20.44 8.48)" fill="#86c45a"/><ellipse cx="20.44" cy="25.58" rx="1.91" ry="1.52" transform="rotate(23 20.44 25.58)" fill="#86c45a"/><ellipse cx="-5.45" cy="-8.89" rx="1.57" ry="1.47" transform="rotate(32 -5.45 -8.89)" fill="#70b046"/><ellipse cx="-5.45" cy="8.21" rx="1.57" ry="1.47" transform="rotate(32 -5.45 8.21)" fill="#70b046"/><ellipse cx="-5.45" cy="25.31" rx="1.57" ry="1.47" transform="rotate(32 -5.45 25.31)" fill="#70b046"/><ellipse cx="9.35" cy="-8.89" rx="1.57" ry="1.47" transform="rotate(32 9.35 -8.89)" fill="#70b046"/><ellipse cx="9.35" cy="8.21" rx="1.57" ry="1.47" transform="rotate(32 9.35 8.21)" fill="#70b046"/><ellipse cx="9.35" cy="25.31" rx="1.57" ry="1.47" transform="rotate(32 9.35 25.31)" fill="#70b046"/><ellipse cx="24.15" cy="-8.89" rx="1.57" ry="1.47" transform="rotate(32 24.15 -8.89)" fill="#70b046"/><ellipse cx="24.15" cy="8.21" rx="1.57" ry="1.47" transform="rotate(32 24.15 8.21)" fill="#70b046"/><ellipse cx="24.15" cy="25.31" rx="1.57" ry="1.47" transform="rotate(32 24.15 25.31)" fill="#70b046"/><ellipse cx="-1.45" cy="-8.87" rx="1.75" ry="1.19" transform="rotate(7 -1.45 -8.87)" fill="#7aba4e"/><ellipse cx="-1.45" cy="8.23" rx="1.75" ry="1.19" transform="rotate(7 -1.45 8.23)" fill="#7aba4e"/><ellipse cx="-1.45" cy="25.33" rx="1.75" ry="1.19" transform="rotate(7 -1.45 25.33)" fill="#7aba4e"/><ellipse cx="13.35" cy="-8.87" rx="1.75" ry="1.19" transform="rotate(7 13.35 -8.87)" fill="#7aba4e"/><ellipse cx="13.35" cy="8.23" rx="1.75" ry="1.19" transform="rotate(7 13.35 8.23)" fill="#7aba4e"/><ellipse cx="13.35" cy="25.33" rx="1.75" ry="1.19" transform="rotate(7 13.35 25.33)" fill="#7aba4e"/><ellipse cx="28.15" cy="-8.87" rx="1.75" ry="1.19" transform="rotate(7 28.15 -8.87)" fill="#7aba4e"/><ellipse cx="28.15" cy="8.23" rx="1.75" ry="1.19" transform="rotate(7 28.15 8.23)" fill="#7aba4e"/><ellipse cx="28.15" cy="25.33" rx="1.75" ry="1.19" transform="rotate(7 28.15 25.33)" fill="#7aba4e"/><ellipse cx="-14.50" cy="-6.01" rx="1.73" ry="1.18" transform="rotate(2 -14.50 -6.01)" fill="#86c45a"/><ellipse cx="-14.50" cy="11.09" rx="1.73" ry="1.18" transform="rotate(2 -14.50 11.09)" fill="#86c45a"/><ellipse cx="-14.50" cy="28.19" rx="1.73" ry="1.18" transform="rotate(2 -14.50 28.19)" fill="#86c45a"/><ellipse cx="0.30" cy="-6.01" rx="1.73" ry="1.18" transform="rotate(2 0.30 -6.01)" fill="#86c45a"/><ellipse cx="0.30" cy="11.09" rx="1.73" ry="1.18" transform="rotate(2 0.30 11.09)" fill="#86c45a"/><ellipse cx="0.30" cy="28.19" rx="1.73" ry="1.18" transform="rotate(2 0.30 28.19)" fill="#86c45a"/><ellipse cx="15.10" cy="-6.01" rx="1.73" ry="1.18" transform="rotate(2 15.10 -6.01)" fill="#86c45a"/><ellipse cx="15.10" cy="11.09" rx="1.73" ry="1.18" transform="rotate(2 15.10 11.09)" fill="#86c45a"/><ellipse cx="15.10" cy="28.19" rx="1.73" ry="1.18" transform="rotate(2 15.10 28.19)" fill="#86c45a"/><ellipse cx="-10.80" cy="-5.76" rx="1.60" ry="1.25" transform="rotate(22 -10.80 -5.76)" fill="#7aba4e"/><ellipse cx="-10.80" cy="11.34" rx="1.60" ry="1.25" transform="rotate(22 -10.80 11.34)" fill="#7aba4e"/><ellipse cx="-10.80" cy="28.44" rx="1.60" ry="1.25" transform="rotate(22 -10.80 28.44)" fill="#7aba4e"/><ellipse cx="4.00" cy="-5.76" rx="1.60" ry="1.25" transform="rotate(22 4.00 -5.76)" fill="#7aba4e"/><ellipse cx="4.00" cy="11.34" rx="1.60" ry="1.25" transform="rotate(22 4.00 11.34)" fill="#7aba4e"/><ellipse cx="4.00" cy="28.44" rx="1.60" ry="1.25" transform="rotate(22 4.00 28.44)" fill="#7aba4e"/><ellipse cx="18.80" cy="-5.76" rx="1.60" ry="1.25" transform="rotate(22 18.80 -5.76)" fill="#7aba4e"/><ellipse cx="18.80" cy="11.34" rx="1.60" ry="1.25" transform="rotate(22 18.80 11.34)" fill="#7aba4e"/><ellipse cx="18.80" cy="28.44" rx="1.60" ry="1.25" transform="rotate(22 18.80 28.44)" fill="#7aba4e"/><ellipse cx="-7.60" cy="-6.08" rx="1.58" ry="1.42" transform="rotate(-38 -7.60 -6.08)" fill="#7aba4e"/><ellipse cx="-7.60" cy="11.02" rx="1.58" ry="1.42" transform="rotate(-38 -7.60 11.02)" fill="#7aba4e"/><ellipse cx="-7.60" cy="28.12" rx="1.58" ry="1.42" transform="rotate(-38 -7.60 28.12)" fill="#7aba4e"/><ellipse cx="7.20" cy="-6.08" rx="1.58" ry="1.42" transform="rotate(-38 7.20 -6.08)" fill="#7aba4e"/><ellipse cx="7.20" cy="11.02" rx="1.58" ry="1.42" transform="rotate(-38 7.20 11.02)" fill="#7aba4e"/><ellipse cx="7.20" cy="28.12" rx="1.58" ry="1.42" transform="rotate(-38 7.20 28.12)" fill="#7aba4e"/><ellipse cx="22.00" cy="-6.08" rx="1.58" ry="1.42" transform="rotate(-38 22.00 -6.08)" fill="#7aba4e"/><ellipse cx="22.00" cy="11.02" rx="1.58" ry="1.42" transform="rotate(-38 22.00 11.02)" fill="#7aba4e"/><ellipse cx="22.00" cy="28.12" rx="1.58" ry="1.42" transform="rotate(-38 22.00 28.12)" fill="#7aba4e"/><ellipse cx="-4.08" cy="-5.90" rx="2.06" ry="1.33" transform="rotate(31 -4.08 -5.90)" fill="#7aba4e"/><ellipse cx="-4.08" cy="11.20" rx="2.06" ry="1.33" transform="rotate(31 -4.08 11.20)" fill="#7aba4e"/><ellipse cx="-4.08" cy="28.30" rx="2.06" ry="1.33" transform="rotate(31 -4.08 28.30)" fill="#7aba4e"/><ellipse cx="10.72" cy="-5.90" rx="2.06" ry="1.33" transform="rotate(31 10.72 -5.90)" fill="#7aba4e"/><ellipse cx="10.72" cy="11.20" rx="2.06" ry="1.33" transform="rotate(31 10.72 11.20)" fill="#7aba4e"/><ellipse cx="10.72" cy="28.30" rx="2.06" ry="1.33" transform="rotate(31 10.72 28.30)" fill="#7aba4e"/><ellipse cx="25.52" cy="-5.90" rx="2.06" ry="1.33" transform="rotate(31 25.52 -5.90)" fill="#7aba4e"/><ellipse cx="25.52" cy="11.20" rx="2.06" ry="1.33" transform="rotate(31 25.52 11.20)" fill="#7aba4e"/><ellipse cx="25.52" cy="28.30" rx="2.06" ry="1.33" transform="rotate(31 25.52 28.30)" fill="#7aba4e"/><ellipse cx="-13.35" cy="-2.78" rx="1.66" ry="1.10" transform="rotate(29 -13.35 -2.78)" fill="#7aba4e"/><ellipse cx="-13.35" cy="14.32" rx="1.66" ry="1.10" transform="rotate(29 -13.35 14.32)" fill="#7aba4e"/><ellipse cx="-13.35" cy="31.42" rx="1.66" ry="1.10" transform="rotate(29 -13.35 31.42)" fill="#7aba4e"/><ellipse cx="1.45" cy="-2.78" rx="1.66" ry="1.10" transform="rotate(29 1.45 -2.78)" fill="#7aba4e"/><ellipse cx="1.45" cy="14.32" rx="1.66" ry="1.10" transform="rotate(29 1.45 14.32)" fill="#7aba4e"/><ellipse cx="1.45" cy="31.42" rx="1.66" ry="1.10" transform="rotate(29 1.45 31.42)" fill="#7aba4e"/><ellipse cx="16.25" cy="-2.78" rx="1.66" ry="1.10" transform="rotate(29 16.25 -2.78)" fill="#7aba4e"/><ellipse cx="16.25" cy="14.32" rx="1.66" ry="1.10" transform="rotate(29 16.25 14.32)" fill="#7aba4e"/><ellipse cx="16.25" cy="31.42" rx="1.66" ry="1.10" transform="rotate(29 16.25 31.42)" fill="#7aba4e"/><ellipse cx="-9.37" cy="-2.76" rx="1.76" ry="1.31" transform="rotate(24 -9.37 -2.76)" fill="#7aba4e"/><ellipse cx="-9.37" cy="14.34" rx="1.76" ry="1.31" transform="rotate(24 -9.37 14.34)" fill="#7aba4e"/><ellipse cx="-9.37" cy="31.44" rx="1.76" ry="1.31" transform="rotate(24 -9.37 31.44)" fill="#7aba4e"/><ellipse cx="5.43" cy="-2.76" rx="1.76" ry="1.31" transform="rotate(24 5.43 -2.76)" fill="#7aba4e"/><ellipse cx="5.43" cy="14.34" rx="1.76" ry="1.31" transform="rotate(24 5.43 14.34)" fill="#7aba4e"/><ellipse cx="5.43" cy="31.44" rx="1.76" ry="1.31" transform="rotate(24 5.43 31.44)" fill="#7aba4e"/><ellipse cx="20.23" cy="-2.76" rx="1.76" ry="1.31" transform="rotate(24 20.23 -2.76)" fill="#7aba4e"/><ellipse cx="20.23" cy="14.34" rx="1.76" ry="1.31" transform="rotate(24 20.23 14.34)" fill="#7aba4e"/><ellipse cx="20.23" cy="31.44" rx="1.76" ry="1.31" transform="rotate(24 20.23 31.44)" fill="#7aba4e"/><ellipse cx="-5.70" cy="-2.81" rx="2.18" ry="1.44" transform="rotate(11 -5.70 -2.81)" fill="#7aba4e"/><ellipse cx="-5.70" cy="14.29" rx="2.18" ry="1.44" transform="rotate(11 -5.70 14.29)" fill="#7aba4e"/><ellipse cx="-5.70" cy="31.39" rx="2.18" ry="1.44" transform="rotate(11 -5.70 31.39)" fill="#7aba4e"/><ellipse cx="9.10" cy="-2.81" rx="2.18" ry="1.44" transform="rotate(11 9.10 -2.81)" fill="#7aba4e"/><ellipse cx="9.10" cy="14.29" rx="2.18" ry="1.44" transform="rotate(11 9.10 14.29)" fill="#7aba4e"/><ellipse cx="9.10" cy="31.39" rx="2.18" ry="1.44" transform="rotate(11 9.10 31.39)" fill="#7aba4e"/><ellipse cx="23.90" cy="-2.81" rx="2.18" ry="1.44" transform="rotate(11 23.90 -2.81)" fill="#7aba4e"/><ellipse cx="23.90" cy="14.29" rx="2.18" ry="1.44" transform="rotate(11 23.90 14.29)" fill="#7aba4e"/><ellipse cx="23.90" cy="31.39" rx="2.18" ry="1.44" transform="rotate(11 23.90 31.39)" fill="#7aba4e"/><ellipse cx="-1.56" cy="-2.69" rx="1.62" ry="1.40" transform="rotate(-3 -1.56 -2.69)" fill="#7aba4e"/><ellipse cx="-1.56" cy="14.41" rx="1.62" ry="1.40" transform="rotate(-3 -1.56 14.41)" fill="#7aba4e"/><ellipse cx="-1.56" cy="31.51" rx="1.62" ry="1.40" transform="rotate(-3 -1.56 31.51)" fill="#7aba4e"/><ellipse cx="13.24" cy="-2.69" rx="1.62" ry="1.40" transform="rotate(-3 13.24 -2.69)" fill="#7aba4e"/><ellipse cx="13.24" cy="14.41" rx="1.62" ry="1.40" transform="rotate(-3 13.24 14.41)" fill="#7aba4e"/><ellipse cx="13.24" cy="31.51" rx="1.62" ry="1.40" transform="rotate(-3 13.24 31.51)" fill="#7aba4e"/><ellipse cx="28.04" cy="-2.69" rx="1.62" ry="1.40" transform="rotate(-3 28.04 -2.69)" fill="#7aba4e"/><ellipse cx="28.04" cy="14.41" rx="1.62" ry="1.40" transform="rotate(-3 28.04 14.41)" fill="#7aba4e"/><ellipse cx="28.04" cy="31.51" rx="1.62" ry="1.40" transform="rotate(-3 28.04 31.51)" fill="#7aba4e"/></pattern>
<pattern id="patC3" patternUnits="userSpaceOnUse" width="14.0" height="17.1"><rect width="14.0" height="17.1" fill="#1d3a40"/><ellipse cx="-14.21" cy="-17.42" rx="1.33" ry="0.93" transform="rotate(-10 -14.21 -17.42)" fill="#3b9fb0"/><ellipse cx="-14.21" cy="-0.32" rx="1.33" ry="0.93" transform="rotate(-10 -14.21 -0.32)" fill="#3b9fb0"/><ellipse cx="-14.21" cy="16.78" rx="1.33" ry="0.93" transform="rotate(-10 -14.21 16.78)" fill="#3b9fb0"/><ellipse cx="-0.21" cy="-17.42" rx="1.33" ry="0.93" transform="rotate(-10 -0.21 -17.42)" fill="#3b9fb0"/><ellipse cx="-0.21" cy="-0.32" rx="1.33" ry="0.93" transform="rotate(-10 -0.21 -0.32)" fill="#3b9fb0"/><ellipse cx="-0.21" cy="16.78" rx="1.33" ry="0.93" transform="rotate(-10 -0.21 16.78)" fill="#3b9fb0"/><ellipse cx="13.79" cy="-17.42" rx="1.33" ry="0.93" transform="rotate(-10 13.79 -17.42)" fill="#3b9fb0"/><ellipse cx="13.79" cy="-0.32" rx="1.33" ry="0.93" transform="rotate(-10 13.79 -0.32)" fill="#3b9fb0"/><ellipse cx="13.79" cy="16.78" rx="1.33" ry="0.93" transform="rotate(-10 13.79 16.78)" fill="#3b9fb0"/><ellipse cx="-10.46" cy="-17.27" rx="1.40" ry="1.14" transform="rotate(49 -10.46 -17.27)" fill="#3b9fb0"/><ellipse cx="-10.46" cy="-0.17" rx="1.40" ry="1.14" transform="rotate(49 -10.46 -0.17)" fill="#3b9fb0"/><ellipse cx="-10.46" cy="16.93" rx="1.40" ry="1.14" transform="rotate(49 -10.46 16.93)" fill="#3b9fb0"/><ellipse cx="3.54" cy="-17.27" rx="1.40" ry="1.14" transform="rotate(49 3.54 -17.27)" fill="#3b9fb0"/><ellipse cx="3.54" cy="-0.17" rx="1.40" ry="1.14" transform="rotate(49 3.54 -0.17)" fill="#3b9fb0"/><ellipse cx="3.54" cy="16.93" rx="1.40" ry="1.14" transform="rotate(49 3.54 16.93)" fill="#3b9fb0"/><ellipse cx="17.54" cy="-17.27" rx="1.40" ry="1.14" transform="rotate(49 17.54 -17.27)" fill="#3b9fb0"/><ellipse cx="17.54" cy="-0.17" rx="1.40" ry="1.14" transform="rotate(49 17.54 -0.17)" fill="#3b9fb0"/><ellipse cx="17.54" cy="16.93" rx="1.40" ry="1.14" transform="rotate(49 17.54 16.93)" fill="#3b9fb0"/><ellipse cx="-7.18" cy="-17.36" rx="1.81" ry="0.93" transform="rotate(-39 -7.18 -17.36)" fill="#3b9fb0"/><ellipse cx="-7.18" cy="-0.26" rx="1.81" ry="0.93" transform="rotate(-39 -7.18 -0.26)" fill="#3b9fb0"/><ellipse cx="-7.18" cy="16.84" rx="1.81" ry="0.93" transform="rotate(-39 -7.18 16.84)" fill="#3b9fb0"/><ellipse cx="6.82" cy="-17.36" rx="1.81" ry="0.93" transform="rotate(-39 6.82 -17.36)" fill="#3b9fb0"/><ellipse cx="6.82" cy="-0.26" rx="1.81" ry="0.93" transform="rotate(-39 6.82 -0.26)" fill="#3b9fb0"/><ellipse cx="6.82" cy="16.84" rx="1.81" ry="0.93" transform="rotate(-39 6.82 16.84)" fill="#3b9fb0"/><ellipse cx="20.82" cy="-17.36" rx="1.81" ry="0.93" transform="rotate(-39 20.82 -17.36)" fill="#3b9fb0"/><ellipse cx="20.82" cy="-0.26" rx="1.81" ry="0.93" transform="rotate(-39 20.82 -0.26)" fill="#3b9fb0"/><ellipse cx="20.82" cy="16.84" rx="1.81" ry="0.93" transform="rotate(-39 20.82 16.84)" fill="#3b9fb0"/><ellipse cx="-3.39" cy="-17.29" rx="1.45" ry="1.17" transform="rotate(-23 -3.39 -17.29)" fill="#3b9fb0"/><ellipse cx="-3.39" cy="-0.19" rx="1.45" ry="1.17" transform="rotate(-23 -3.39 -0.19)" fill="#3b9fb0"/><ellipse cx="-3.39" cy="16.91" rx="1.45" ry="1.17" transform="rotate(-23 -3.39 16.91)" fill="#3b9fb0"/><ellipse cx="10.61" cy="-17.29" rx="1.45" ry="1.17" transform="rotate(-23 10.61 -17.29)" fill="#3b9fb0"/><ellipse cx="10.61" cy="-0.19" rx="1.45" ry="1.17" transform="rotate(-23 10.61 -0.19)" fill="#3b9fb0"/><ellipse cx="10.61" cy="16.91" rx="1.45" ry="1.17" transform="rotate(-23 10.61 16.91)" fill="#3b9fb0"/><ellipse cx="24.61" cy="-17.29" rx="1.45" ry="1.17" transform="rotate(-23 24.61 -17.29)" fill="#3b9fb0"/><ellipse cx="24.61" cy="-0.19" rx="1.45" ry="1.17" transform="rotate(-23 24.61 -0.19)" fill="#3b9fb0"/><ellipse cx="24.61" cy="16.91" rx="1.45" ry="1.17" transform="rotate(-23 24.61 16.91)" fill="#3b9fb0"/><ellipse cx="-12.06" cy="-13.97" rx="1.75" ry="1.06" transform="rotate(38 -12.06 -13.97)" fill="#3b9fb0"/><ellipse cx="-12.06" cy="3.13" rx="1.75" ry="1.06" transform="rotate(38 -12.06 3.13)" fill="#3b9fb0"/><ellipse cx="-12.06" cy="20.23" rx="1.75" ry="1.06" transform="rotate(38 -12.06 20.23)" fill="#3b9fb0"/><ellipse cx="1.94" cy="-13.97" rx="1.75" ry="1.06" transform="rotate(38 1.94 -13.97)" fill="#3b9fb0"/><ellipse cx="1.94" cy="3.13" rx="1.75" ry="1.06" transform="rotate(38 1.94 3.13)" fill="#3b9fb0"/><ellipse cx="1.94" cy="20.23" rx="1.75" ry="1.06" transform="rotate(38 1.94 20.23)" fill="#3b9fb0"/><ellipse cx="15.94" cy="-13.97" rx="1.75" ry="1.06" transform="rotate(38 15.94 -13.97)" fill="#3b9fb0"/><ellipse cx="15.94" cy="3.13" rx="1.75" ry="1.06" transform="rotate(38 15.94 3.13)" fill="#3b9fb0"/><ellipse cx="15.94" cy="20.23" rx="1.75" ry="1.06" transform="rotate(38 15.94 20.23)" fill="#3b9fb0"/><ellipse cx="-8.84" cy="-14.45" rx="1.33" ry="1.30" transform="rotate(-25 -8.84 -14.45)" fill="#45a8b8"/><ellipse cx="-8.84" cy="2.65" rx="1.33" ry="1.30" transform="rotate(-25 -8.84 2.65)" fill="#45a8b8"/><ellipse cx="-8.84" cy="19.75" rx="1.33" ry="1.30" transform="rotate(-25 -8.84 19.75)" fill="#45a8b8"/><ellipse cx="5.16" cy="-14.45" rx="1.33" ry="1.30" transform="rotate(-25 5.16 -14.45)" fill="#45a8b8"/><ellipse cx="5.16" cy="2.65" rx="1.33" ry="1.30" transform="rotate(-25 5.16 2.65)" fill="#45a8b8"/><ellipse cx="5.16" cy="19.75" rx="1.33" ry="1.30" transform="rotate(-25 5.16 19.75)" fill="#45a8b8"/><ellipse cx="19.16" cy="-14.45" rx="1.33" ry="1.30" transform="rotate(-25 19.16 -14.45)" fill="#45a8b8"/><ellipse cx="19.16" cy="2.65" rx="1.33" ry="1.30" transform="rotate(-25 19.16 2.65)" fill="#45a8b8"/><ellipse cx="19.16" cy="19.75" rx="1.33" ry="1.30" transform="rotate(-25 19.16 19.75)" fill="#45a8b8"/><ellipse cx="-4.96" cy="-14.21" rx="1.60" ry="1.28" transform="rotate(-20 -4.96 -14.21)" fill="#45a8b8"/><ellipse cx="-4.96" cy="2.89" rx="1.60" ry="1.28" transform="rotate(-20 -4.96 2.89)" fill="#45a8b8"/><ellipse cx="-4.96" cy="19.99" rx="1.60" ry="1.28" transform="rotate(-20 -4.96 19.99)" fill="#45a8b8"/><ellipse cx="9.04" cy="-14.21" rx="1.60" ry="1.28" transform="rotate(-20 9.04 -14.21)" fill="#45a8b8"/><ellipse cx="9.04" cy="2.89" rx="1.60" ry="1.28" transform="rotate(-20 9.04 2.89)" fill="#45a8b8"/><ellipse cx="9.04" cy="19.99" rx="1.60" ry="1.28" transform="rotate(-20 9.04 19.99)" fill="#45a8b8"/><ellipse cx="23.04" cy="-14.21" rx="1.60" ry="1.28" transform="rotate(-20 23.04 -14.21)" fill="#45a8b8"/><ellipse cx="23.04" cy="2.89" rx="1.60" ry="1.28" transform="rotate(-20 23.04 2.89)" fill="#45a8b8"/><ellipse cx="23.04" cy="19.99" rx="1.60" ry="1.28" transform="rotate(-20 23.04 19.99)" fill="#45a8b8"/><ellipse cx="-1.47" cy="-14.24" rx="1.52" ry="0.98" transform="rotate(-9 -1.47 -14.24)" fill="#45a8b8"/><ellipse cx="-1.47" cy="2.86" rx="1.52" ry="0.98" transform="rotate(-9 -1.47 2.86)" fill="#45a8b8"/><ellipse cx="-1.47" cy="19.96" rx="1.52" ry="0.98" transform="rotate(-9 -1.47 19.96)" fill="#45a8b8"/><ellipse cx="12.53" cy="-14.24" rx="1.52" ry="0.98" transform="rotate(-9 12.53 -14.24)" fill="#45a8b8"/><ellipse cx="12.53" cy="2.86" rx="1.52" ry="0.98" transform="rotate(-9 12.53 2.86)" fill="#45a8b8"/><ellipse cx="12.53" cy="19.96" rx="1.52" ry="0.98" transform="rotate(-9 12.53 19.96)" fill="#45a8b8"/><ellipse cx="26.53" cy="-14.24" rx="1.52" ry="0.98" transform="rotate(-9 26.53 -14.24)" fill="#45a8b8"/><ellipse cx="26.53" cy="2.86" rx="1.52" ry="0.98" transform="rotate(-9 26.53 2.86)" fill="#45a8b8"/><ellipse cx="26.53" cy="19.96" rx="1.52" ry="0.98" transform="rotate(-9 26.53 19.96)" fill="#45a8b8"/><ellipse cx="-14.16" cy="-11.15" rx="1.54" ry="1.32" transform="rotate(-46 -14.16 -11.15)" fill="#3b9fb0"/><ellipse cx="-14.16" cy="5.95" rx="1.54" ry="1.32" transform="rotate(-46 -14.16 5.95)" fill="#3b9fb0"/><ellipse cx="-14.16" cy="23.05" rx="1.54" ry="1.32" transform="rotate(-46 -14.16 23.05)" fill="#3b9fb0"/><ellipse cx="-0.16" cy="-11.15" rx="1.54" ry="1.32" transform="rotate(-46 -0.16 -11.15)" fill="#3b9fb0"/><ellipse cx="-0.16" cy="5.95" rx="1.54" ry="1.32" transform="rotate(-46 -0.16 5.95)" fill="#3b9fb0"/><ellipse cx="-0.16" cy="23.05" rx="1.54" ry="1.32" transform="rotate(-46 -0.16 23.05)" fill="#3b9fb0"/><ellipse cx="13.84" cy="-11.15" rx="1.54" ry="1.32" transform="rotate(-46 13.84 -11.15)" fill="#3b9fb0"/><ellipse cx="13.84" cy="5.95" rx="1.54" ry="1.32" transform="rotate(-46 13.84 5.95)" fill="#3b9fb0"/><ellipse cx="13.84" cy="23.05" rx="1.54" ry="1.32" transform="rotate(-46 13.84 23.05)" fill="#3b9fb0"/><ellipse cx="-10.48" cy="-11.28" rx="1.84" ry="1.00" transform="rotate(20 -10.48 -11.28)" fill="#3b9fb0"/><ellipse cx="-10.48" cy="5.82" rx="1.84" ry="1.00" transform="rotate(20 -10.48 5.82)" fill="#3b9fb0"/><ellipse cx="-10.48" cy="22.92" rx="1.84" ry="1.00" transform="rotate(20 -10.48 22.92)" fill="#3b9fb0"/><ellipse cx="3.52" cy="-11.28" rx="1.84" ry="1.00" transform="rotate(20 3.52 -11.28)" fill="#3b9fb0"/><ellipse cx="3.52" cy="5.82" rx="1.84" ry="1.00" transform="rotate(20 3.52 5.82)" fill="#3b9fb0"/><ellipse cx="3.52" cy="22.92" rx="1.84" ry="1.00" transform="rotate(20 3.52 22.92)" fill="#3b9fb0"/><ellipse cx="17.52" cy="-11.28" rx="1.84" ry="1.00" transform="rotate(20 17.52 -11.28)" fill="#3b9fb0"/><ellipse cx="17.52" cy="5.82" rx="1.84" ry="1.00" transform="rotate(20 17.52 5.82)" fill="#3b9fb0"/><ellipse cx="17.52" cy="22.92" rx="1.84" ry="1.00" transform="rotate(20 17.52 22.92)" fill="#3b9fb0"/><ellipse cx="-7.07" cy="-11.64" rx="1.38" ry="1.10" transform="rotate(13 -7.07 -11.64)" fill="#45a8b8"/><ellipse cx="-7.07" cy="5.46" rx="1.38" ry="1.10" transform="rotate(13 -7.07 5.46)" fill="#45a8b8"/><ellipse cx="-7.07" cy="22.56" rx="1.38" ry="1.10" transform="rotate(13 -7.07 22.56)" fill="#45a8b8"/><ellipse cx="6.93" cy="-11.64" rx="1.38" ry="1.10" transform="rotate(13 6.93 -11.64)" fill="#45a8b8"/><ellipse cx="6.93" cy="5.46" rx="1.38" ry="1.10" transform="rotate(13 6.93 5.46)" fill="#45a8b8"/><ellipse cx="6.93" cy="22.56" rx="1.38" ry="1.10" transform="rotate(13 6.93 22.56)" fill="#45a8b8"/><ellipse cx="20.93" cy="-11.64" rx="1.38" ry="1.10" transform="rotate(13 20.93 -11.64)" fill="#45a8b8"/><ellipse cx="20.93" cy="5.46" rx="1.38" ry="1.10" transform="rotate(13 20.93 5.46)" fill="#45a8b8"/><ellipse cx="20.93" cy="22.56" rx="1.38" ry="1.10" transform="rotate(13 20.93 22.56)" fill="#45a8b8"/><ellipse cx="-3.43" cy="-11.29" rx="1.34" ry="0.94" transform="rotate(-30 -3.43 -11.29)" fill="#45a8b8"/><ellipse cx="-3.43" cy="5.81" rx="1.34" ry="0.94" transform="rotate(-30 -3.43 5.81)" fill="#45a8b8"/><ellipse cx="-3.43" cy="22.91" rx="1.34" ry="0.94" transform="rotate(-30 -3.43 22.91)" fill="#45a8b8"/><ellipse cx="10.57" cy="-11.29" rx="1.34" ry="0.94" transform="rotate(-30 10.57 -11.29)" fill="#45a8b8"/><ellipse cx="10.57" cy="5.81" rx="1.34" ry="0.94" transform="rotate(-30 10.57 5.81)" fill="#45a8b8"/><ellipse cx="10.57" cy="22.91" rx="1.34" ry="0.94" transform="rotate(-30 10.57 22.91)" fill="#45a8b8"/><ellipse cx="24.57" cy="-11.29" rx="1.34" ry="0.94" transform="rotate(-30 24.57 -11.29)" fill="#45a8b8"/><ellipse cx="24.57" cy="5.81" rx="1.34" ry="0.94" transform="rotate(-30 24.57 5.81)" fill="#45a8b8"/><ellipse cx="24.57" cy="22.91" rx="1.34" ry="0.94" transform="rotate(-30 24.57 22.91)" fill="#45a8b8"/><ellipse cx="-12.47" cy="-8.34" rx="1.35" ry="1.30" transform="rotate(12 -12.47 -8.34)" fill="#3b9fb0"/><ellipse cx="-12.47" cy="8.76" rx="1.35" ry="1.30" transform="rotate(12 -12.47 8.76)" fill="#3b9fb0"/><ellipse cx="-12.47" cy="25.86" rx="1.35" ry="1.30" transform="rotate(12 -12.47 25.86)" fill="#3b9fb0"/><ellipse cx="1.53" cy="-8.34" rx="1.35" ry="1.30" transform="rotate(12 1.53 -8.34)" fill="#3b9fb0"/><ellipse cx="1.53" cy="8.76" rx="1.35" ry="1.30" transform="rotate(12 1.53 8.76)" fill="#3b9fb0"/><ellipse cx="1.53" cy="25.86" rx="1.35" ry="1.30" transform="rotate(12 1.53 25.86)" fill="#3b9fb0"/><ellipse cx="15.53" cy="-8.34" rx="1.35" ry="1.30" transform="rotate(12 15.53 -8.34)" fill="#3b9fb0"/><ellipse cx="15.53" cy="8.76" rx="1.35" ry="1.30" transform="rotate(12 15.53 8.76)" fill="#3b9fb0"/><ellipse cx="15.53" cy="25.86" rx="1.35" ry="1.30" transform="rotate(12 15.53 25.86)" fill="#3b9fb0"/><ellipse cx="-8.92" cy="-8.93" rx="1.78" ry="1.30" transform="rotate(-14 -8.92 -8.93)" fill="#3b9fb0"/><ellipse cx="-8.92" cy="8.17" rx="1.78" ry="1.30" transform="rotate(-14 -8.92 8.17)" fill="#3b9fb0"/><ellipse cx="-8.92" cy="25.27" rx="1.78" ry="1.30" transform="rotate(-14 -8.92 25.27)" fill="#3b9fb0"/><ellipse cx="5.08" cy="-8.93" rx="1.78" ry="1.30" transform="rotate(-14 5.08 -8.93)" fill="#3b9fb0"/><ellipse cx="5.08" cy="8.17" rx="1.78" ry="1.30" transform="rotate(-14 5.08 8.17)" fill="#3b9fb0"/><ellipse cx="5.08" cy="25.27" rx="1.78" ry="1.30" transform="rotate(-14 5.08 25.27)" fill="#3b9fb0"/><ellipse cx="19.08" cy="-8.93" rx="1.78" ry="1.30" transform="rotate(-14 19.08 -8.93)" fill="#3b9fb0"/><ellipse cx="19.08" cy="8.17" rx="1.78" ry="1.30" transform="rotate(-14 19.08 8.17)" fill="#3b9fb0"/><ellipse cx="19.08" cy="25.27" rx="1.78" ry="1.30" transform="rotate(-14 19.08 25.27)" fill="#3b9fb0"/><ellipse cx="-5.06" cy="-8.18" rx="1.46" ry="0.98" transform="rotate(-48 -5.06 -8.18)" fill="#45a8b8"/><ellipse cx="-5.06" cy="8.92" rx="1.46" ry="0.98" transform="rotate(-48 -5.06 8.92)" fill="#45a8b8"/><ellipse cx="-5.06" cy="26.02" rx="1.46" ry="0.98" transform="rotate(-48 -5.06 26.02)" fill="#45a8b8"/><ellipse cx="8.94" cy="-8.18" rx="1.46" ry="0.98" transform="rotate(-48 8.94 -8.18)" fill="#45a8b8"/><ellipse cx="8.94" cy="8.92" rx="1.46" ry="0.98" transform="rotate(-48 8.94 8.92)" fill="#45a8b8"/><ellipse cx="8.94" cy="26.02" rx="1.46" ry="0.98" transform="rotate(-48 8.94 26.02)" fill="#45a8b8"/><ellipse cx="22.94" cy="-8.18" rx="1.46" ry="0.98" transform="rotate(-48 22.94 -8.18)" fill="#45a8b8"/><ellipse cx="22.94" cy="8.92" rx="1.46" ry="0.98" transform="rotate(-48 22.94 8.92)" fill="#45a8b8"/><ellipse cx="22.94" cy="26.02" rx="1.46" ry="0.98" transform="rotate(-48 22.94 26.02)" fill="#45a8b8"/><ellipse cx="-1.63" cy="-8.26" rx="1.44" ry="1.00" transform="rotate(37 -1.63 -8.26)" fill="#3b9fb0"/><ellipse cx="-1.63" cy="8.84" rx="1.44" ry="1.00" transform="rotate(37 -1.63 8.84)" fill="#3b9fb0"/><ellipse cx="-1.63" cy="25.94" rx="1.44" ry="1.00" transform="rotate(37 -1.63 25.94)" fill="#3b9fb0"/><ellipse cx="12.37" cy="-8.26" rx="1.44" ry="1.00" transform="rotate(37 12.37 -8.26)" fill="#3b9fb0"/><ellipse cx="12.37" cy="8.84" rx="1.44" ry="1.00" transform="rotate(37 12.37 8.84)" fill="#3b9fb0"/><ellipse cx="12.37" cy="25.94" rx="1.44" ry="1.00" transform="rotate(37 12.37 25.94)" fill="#3b9fb0"/><ellipse cx="26.37" cy="-8.26" rx="1.44" ry="1.00" transform="rotate(37 26.37 -8.26)" fill="#3b9fb0"/><ellipse cx="26.37" cy="8.84" rx="1.44" ry="1.00" transform="rotate(37 26.37 8.84)" fill="#3b9fb0"/><ellipse cx="26.37" cy="25.94" rx="1.44" ry="1.00" transform="rotate(37 26.37 25.94)" fill="#3b9fb0"/><ellipse cx="-14.04" cy="-5.99" rx="1.47" ry="0.92" transform="rotate(-12 -14.04 -5.99)" fill="#3b9fb0"/><ellipse cx="-14.04" cy="11.11" rx="1.47" ry="0.92" transform="rotate(-12 -14.04 11.11)" fill="#3b9fb0"/><ellipse cx="-14.04" cy="28.21" rx="1.47" ry="0.92" transform="rotate(-12 -14.04 28.21)" fill="#3b9fb0"/><ellipse cx="-0.04" cy="-5.99" rx="1.47" ry="0.92" transform="rotate(-12 -0.04 -5.99)" fill="#3b9fb0"/><ellipse cx="-0.04" cy="11.11" rx="1.47" ry="0.92" transform="rotate(-12 -0.04 11.11)" fill="#3b9fb0"/><ellipse cx="-0.04" cy="28.21" rx="1.47" ry="0.92" transform="rotate(-12 -0.04 28.21)" fill="#3b9fb0"/><ellipse cx="13.96" cy="-5.99" rx="1.47" ry="0.92" transform="rotate(-12 13.96 -5.99)" fill="#3b9fb0"/><ellipse cx="13.96" cy="11.11" rx="1.47" ry="0.92" transform="rotate(-12 13.96 11.11)" fill="#3b9fb0"/><ellipse cx="13.96" cy="28.21" rx="1.47" ry="0.92" transform="rotate(-12 13.96 28.21)" fill="#3b9fb0"/><ellipse cx="-10.86" cy="-5.96" rx="1.84" ry="1.15" transform="rotate(28 -10.86 -5.96)" fill="#45a8b8"/><ellipse cx="-10.86" cy="11.14" rx="1.84" ry="1.15" transform="rotate(28 -10.86 11.14)" fill="#45a8b8"/><ellipse cx="-10.86" cy="28.24" rx="1.84" ry="1.15" transform="rotate(28 -10.86 28.24)" fill="#45a8b8"/><ellipse cx="3.14" cy="-5.96" rx="1.84" ry="1.15" transform="rotate(28 3.14 -5.96)" fill="#45a8b8"/><ellipse cx="3.14" cy="11.14" rx="1.84" ry="1.15" transform="rotate(28 3.14 11.14)" fill="#45a8b8"/><ellipse cx="3.14" cy="28.24" rx="1.84" ry="1.15" transform="rotate(28 3.14 28.24)" fill="#45a8b8"/><ellipse cx="17.14" cy="-5.96" rx="1.84" ry="1.15" transform="rotate(28 17.14 -5.96)" fill="#45a8b8"/><ellipse cx="17.14" cy="11.14" rx="1.84" ry="1.15" transform="rotate(28 17.14 11.14)" fill="#45a8b8"/><ellipse cx="17.14" cy="28.24" rx="1.84" ry="1.15" transform="rotate(28 17.14 28.24)" fill="#45a8b8"/><ellipse cx="-7.05" cy="-5.93" rx="1.31" ry="0.94" transform="rotate(42 -7.05 -5.93)" fill="#3b9fb0"/><ellipse cx="-7.05" cy="11.17" rx="1.31" ry="0.94" transform="rotate(42 -7.05 11.17)" fill="#3b9fb0"/><ellipse cx="-7.05" cy="28.27" rx="1.31" ry="0.94" transform="rotate(42 -7.05 28.27)" fill="#3b9fb0"/><ellipse cx="6.95" cy="-5.93" rx="1.31" ry="0.94" transform="rotate(42 6.95 -5.93)" fill="#3b9fb0"/><ellipse cx="6.95" cy="11.17" rx="1.31" ry="0.94" transform="rotate(42 6.95 11.17)" fill="#3b9fb0"/><ellipse cx="6.95" cy="28.27" rx="1.31" ry="0.94" transform="rotate(42 6.95 28.27)" fill="#3b9fb0"/><ellipse cx="20.95" cy="-5.93" rx="1.31" ry="0.94" transform="rotate(42 20.95 -5.93)" fill="#3b9fb0"/><ellipse cx="20.95" cy="11.17" rx="1.31" ry="0.94" transform="rotate(42 20.95 11.17)" fill="#3b9fb0"/><ellipse cx="20.95" cy="28.27" rx="1.31" ry="0.94" transform="rotate(42 20.95 28.27)" fill="#3b9fb0"/><ellipse cx="-3.77" cy="-5.56" rx="1.59" ry="1.15" transform="rotate(-35 -3.77 -5.56)" fill="#3b9fb0"/><ellipse cx="-3.77" cy="11.54" rx="1.59" ry="1.15" transform="rotate(-35 -3.77 11.54)" fill="#3b9fb0"/><ellipse cx="-3.77" cy="28.64" rx="1.59" ry="1.15" transform="rotate(-35 -3.77 28.64)" fill="#3b9fb0"/><ellipse cx="10.23" cy="-5.56" rx="1.59" ry="1.15" transform="rotate(-35 10.23 -5.56)" fill="#3b9fb0"/><ellipse cx="10.23" cy="11.54" rx="1.59" ry="1.15" transform="rotate(-35 10.23 11.54)" fill="#3b9fb0"/><ellipse cx="10.23" cy="28.64" rx="1.59" ry="1.15" transform="rotate(-35 10.23 28.64)" fill="#3b9fb0"/><ellipse cx="24.23" cy="-5.56" rx="1.59" ry="1.15" transform="rotate(-35 24.23 -5.56)" fill="#3b9fb0"/><ellipse cx="24.23" cy="11.54" rx="1.59" ry="1.15" transform="rotate(-35 24.23 11.54)" fill="#3b9fb0"/><ellipse cx="24.23" cy="28.64" rx="1.59" ry="1.15" transform="rotate(-35 24.23 28.64)" fill="#3b9fb0"/><ellipse cx="-12.39" cy="-3.22" rx="1.71" ry="1.08" transform="rotate(33 -12.39 -3.22)" fill="#45a8b8"/><ellipse cx="-12.39" cy="13.88" rx="1.71" ry="1.08" transform="rotate(33 -12.39 13.88)" fill="#45a8b8"/><ellipse cx="-12.39" cy="30.98" rx="1.71" ry="1.08" transform="rotate(33 -12.39 30.98)" fill="#45a8b8"/><ellipse cx="1.61" cy="-3.22" rx="1.71" ry="1.08" transform="rotate(33 1.61 -3.22)" fill="#45a8b8"/><ellipse cx="1.61" cy="13.88" rx="1.71" ry="1.08" transform="rotate(33 1.61 13.88)" fill="#45a8b8"/><ellipse cx="1.61" cy="30.98" rx="1.71" ry="1.08" transform="rotate(33 1.61 30.98)" fill="#45a8b8"/><ellipse cx="15.61" cy="-3.22" rx="1.71" ry="1.08" transform="rotate(33 15.61 -3.22)" fill="#45a8b8"/><ellipse cx="15.61" cy="13.88" rx="1.71" ry="1.08" transform="rotate(33 15.61 13.88)" fill="#45a8b8"/><ellipse cx="15.61" cy="30.98" rx="1.71" ry="1.08" transform="rotate(33 15.61 30.98)" fill="#45a8b8"/><ellipse cx="-8.36" cy="-2.87" rx="1.56" ry="1.01" transform="rotate(-26 -8.36 -2.87)" fill="#45a8b8"/><ellipse cx="-8.36" cy="14.23" rx="1.56" ry="1.01" transform="rotate(-26 -8.36 14.23)" fill="#45a8b8"/><ellipse cx="-8.36" cy="31.33" rx="1.56" ry="1.01" transform="rotate(-26 -8.36 31.33)" fill="#45a8b8"/><ellipse cx="5.64" cy="-2.87" rx="1.56" ry="1.01" transform="rotate(-26 5.64 -2.87)" fill="#45a8b8"/><ellipse cx="5.64" cy="14.23" rx="1.56" ry="1.01" transform="rotate(-26 5.64 14.23)" fill="#45a8b8"/><ellipse cx="5.64" cy="31.33" rx="1.56" ry="1.01" transform="rotate(-26 5.64 31.33)" fill="#45a8b8"/><ellipse cx="19.64" cy="-2.87" rx="1.56" ry="1.01" transform="rotate(-26 19.64 -2.87)" fill="#45a8b8"/><ellipse cx="19.64" cy="14.23" rx="1.56" ry="1.01" transform="rotate(-26 19.64 14.23)" fill="#45a8b8"/><ellipse cx="19.64" cy="31.33" rx="1.56" ry="1.01" transform="rotate(-26 19.64 31.33)" fill="#45a8b8"/><ellipse cx="-5.30" cy="-2.73" rx="1.56" ry="0.93" transform="rotate(-7 -5.30 -2.73)" fill="#3b9fb0"/><ellipse cx="-5.30" cy="14.37" rx="1.56" ry="0.93" transform="rotate(-7 -5.30 14.37)" fill="#3b9fb0"/><ellipse cx="-5.30" cy="31.47" rx="1.56" ry="0.93" transform="rotate(-7 -5.30 31.47)" fill="#3b9fb0"/><ellipse cx="8.70" cy="-2.73" rx="1.56" ry="0.93" transform="rotate(-7 8.70 -2.73)" fill="#3b9fb0"/><ellipse cx="8.70" cy="14.37" rx="1.56" ry="0.93" transform="rotate(-7 8.70 14.37)" fill="#3b9fb0"/><ellipse cx="8.70" cy="31.47" rx="1.56" ry="0.93" transform="rotate(-7 8.70 31.47)" fill="#3b9fb0"/><ellipse cx="22.70" cy="-2.73" rx="1.56" ry="0.93" transform="rotate(-7 22.70 -2.73)" fill="#3b9fb0"/><ellipse cx="22.70" cy="14.37" rx="1.56" ry="0.93" transform="rotate(-7 22.70 14.37)" fill="#3b9fb0"/><ellipse cx="22.70" cy="31.47" rx="1.56" ry="0.93" transform="rotate(-7 22.70 31.47)" fill="#3b9fb0"/><ellipse cx="-1.95" cy="-3.06" rx="1.51" ry="1.03" transform="rotate(-29 -1.95 -3.06)" fill="#3b9fb0"/><ellipse cx="-1.95" cy="14.04" rx="1.51" ry="1.03" transform="rotate(-29 -1.95 14.04)" fill="#3b9fb0"/><ellipse cx="-1.95" cy="31.14" rx="1.51" ry="1.03" transform="rotate(-29 -1.95 31.14)" fill="#3b9fb0"/><ellipse cx="12.05" cy="-3.06" rx="1.51" ry="1.03" transform="rotate(-29 12.05 -3.06)" fill="#3b9fb0"/><ellipse cx="12.05" cy="14.04" rx="1.51" ry="1.03" transform="rotate(-29 12.05 14.04)" fill="#3b9fb0"/><ellipse cx="12.05" cy="31.14" rx="1.51" ry="1.03" transform="rotate(-29 12.05 31.14)" fill="#3b9fb0"/><ellipse cx="26.05" cy="-3.06" rx="1.51" ry="1.03" transform="rotate(-29 26.05 -3.06)" fill="#3b9fb0"/><ellipse cx="26.05" cy="14.04" rx="1.51" ry="1.03" transform="rotate(-29 26.05 14.04)" fill="#3b9fb0"/><ellipse cx="26.05" cy="31.14" rx="1.51" ry="1.03" transform="rotate(-29 26.05 31.14)" fill="#3b9fb0"/></pattern>
<pattern id="patA3" patternUnits="userSpaceOnUse" width="14.8" height="17.1"><rect width="14.8" height="17.1" fill="#6a5030"/><ellipse cx="-14.70" cy="-16.91" rx="1.75" ry="1.18" transform="rotate(30 -14.70 -16.91)" fill="#80a858"/><ellipse cx="-14.70" cy="0.19" rx="1.75" ry="1.18" transform="rotate(30 -14.70 0.19)" fill="#80a858"/><ellipse cx="-14.70" cy="17.29" rx="1.75" ry="1.18" transform="rotate(30 -14.70 17.29)" fill="#80a858"/><ellipse cx="0.10" cy="-16.91" rx="1.75" ry="1.18" transform="rotate(30 0.10 -16.91)" fill="#80a858"/><ellipse cx="0.10" cy="0.19" rx="1.75" ry="1.18" transform="rotate(30 0.10 0.19)" fill="#80a858"/><ellipse cx="0.10" cy="17.29" rx="1.75" ry="1.18" transform="rotate(30 0.10 17.29)" fill="#80a858"/><ellipse cx="14.90" cy="-16.91" rx="1.75" ry="1.18" transform="rotate(30 14.90 -16.91)" fill="#80a858"/><ellipse cx="14.90" cy="0.19" rx="1.75" ry="1.18" transform="rotate(30 14.90 0.19)" fill="#80a858"/><ellipse cx="14.90" cy="17.29" rx="1.75" ry="1.18" transform="rotate(30 14.90 17.29)" fill="#80a858"/><ellipse cx="-10.83" cy="-16.88" rx="1.90" ry="1.01" transform="rotate(-25 -10.83 -16.88)" fill="#6f9a4a"/><ellipse cx="-10.83" cy="0.22" rx="1.90" ry="1.01" transform="rotate(-25 -10.83 0.22)" fill="#6f9a4a"/><ellipse cx="-10.83" cy="17.32" rx="1.90" ry="1.01" transform="rotate(-25 -10.83 17.32)" fill="#6f9a4a"/><ellipse cx="3.97" cy="-16.88" rx="1.90" ry="1.01" transform="rotate(-25 3.97 -16.88)" fill="#6f9a4a"/><ellipse cx="3.97" cy="0.22" rx="1.90" ry="1.01" transform="rotate(-25 3.97 0.22)" fill="#6f9a4a"/><ellipse cx="3.97" cy="17.32" rx="1.90" ry="1.01" transform="rotate(-25 3.97 17.32)" fill="#6f9a4a"/><ellipse cx="18.77" cy="-16.88" rx="1.90" ry="1.01" transform="rotate(-25 18.77 -16.88)" fill="#6f9a4a"/><ellipse cx="18.77" cy="0.22" rx="1.90" ry="1.01" transform="rotate(-25 18.77 0.22)" fill="#6f9a4a"/><ellipse cx="18.77" cy="17.32" rx="1.90" ry="1.01" transform="rotate(-25 18.77 17.32)" fill="#6f9a4a"/><ellipse cx="-7.42" cy="-17.30" rx="1.51" ry="1.27" transform="rotate(4 -7.42 -17.30)" fill="#80a858"/><ellipse cx="-7.42" cy="-0.20" rx="1.51" ry="1.27" transform="rotate(4 -7.42 -0.20)" fill="#80a858"/><ellipse cx="-7.42" cy="16.90" rx="1.51" ry="1.27" transform="rotate(4 -7.42 16.90)" fill="#80a858"/><ellipse cx="7.38" cy="-17.30" rx="1.51" ry="1.27" transform="rotate(4 7.38 -17.30)" fill="#80a858"/><ellipse cx="7.38" cy="-0.20" rx="1.51" ry="1.27" transform="rotate(4 7.38 -0.20)" fill="#80a858"/><ellipse cx="7.38" cy="16.90" rx="1.51" ry="1.27" transform="rotate(4 7.38 16.90)" fill="#80a858"/><ellipse cx="22.18" cy="-17.30" rx="1.51" ry="1.27" transform="rotate(4 22.18 -17.30)" fill="#80a858"/><ellipse cx="22.18" cy="-0.20" rx="1.51" ry="1.27" transform="rotate(4 22.18 -0.20)" fill="#80a858"/><ellipse cx="22.18" cy="16.90" rx="1.51" ry="1.27" transform="rotate(4 22.18 16.90)" fill="#80a858"/><ellipse cx="-3.77" cy="-17.35" rx="1.45" ry="1.29" transform="rotate(37 -3.77 -17.35)" fill="#7aa552"/><ellipse cx="-3.77" cy="-0.25" rx="1.45" ry="1.29" transform="rotate(37 -3.77 -0.25)" fill="#7aa552"/><ellipse cx="-3.77" cy="16.85" rx="1.45" ry="1.29" transform="rotate(37 -3.77 16.85)" fill="#7aa552"/><ellipse cx="11.03" cy="-17.35" rx="1.45" ry="1.29" transform="rotate(37 11.03 -17.35)" fill="#7aa552"/><ellipse cx="11.03" cy="-0.25" rx="1.45" ry="1.29" transform="rotate(37 11.03 -0.25)" fill="#7aa552"/><ellipse cx="11.03" cy="16.85" rx="1.45" ry="1.29" transform="rotate(37 11.03 16.85)" fill="#7aa552"/><ellipse cx="25.83" cy="-17.35" rx="1.45" ry="1.29" transform="rotate(37 25.83 -17.35)" fill="#7aa552"/><ellipse cx="25.83" cy="-0.25" rx="1.45" ry="1.29" transform="rotate(37 25.83 -0.25)" fill="#7aa552"/><ellipse cx="25.83" cy="16.85" rx="1.45" ry="1.29" transform="rotate(37 25.83 16.85)" fill="#7aa552"/><ellipse cx="-13.24" cy="-14.16" rx="1.94" ry="0.96" transform="rotate(-37 -13.24 -14.16)" fill="#6f9a4a"/><ellipse cx="-13.24" cy="2.94" rx="1.94" ry="0.96" transform="rotate(-37 -13.24 2.94)" fill="#6f9a4a"/><ellipse cx="-13.24" cy="20.04" rx="1.94" ry="0.96" transform="rotate(-37 -13.24 20.04)" fill="#6f9a4a"/><ellipse cx="1.56" cy="-14.16" rx="1.94" ry="0.96" transform="rotate(-37 1.56 -14.16)" fill="#6f9a4a"/><ellipse cx="1.56" cy="2.94" rx="1.94" ry="0.96" transform="rotate(-37 1.56 2.94)" fill="#6f9a4a"/><ellipse cx="1.56" cy="20.04" rx="1.94" ry="0.96" transform="rotate(-37 1.56 20.04)" fill="#6f9a4a"/><ellipse cx="16.36" cy="-14.16" rx="1.94" ry="0.96" transform="rotate(-37 16.36 -14.16)" fill="#6f9a4a"/><ellipse cx="16.36" cy="2.94" rx="1.94" ry="0.96" transform="rotate(-37 16.36 2.94)" fill="#6f9a4a"/><ellipse cx="16.36" cy="20.04" rx="1.94" ry="0.96" transform="rotate(-37 16.36 20.04)" fill="#6f9a4a"/><ellipse cx="-9.03" cy="-13.88" rx="1.53" ry="1.36" transform="rotate(-33 -9.03 -13.88)" fill="#6f9a4a"/><ellipse cx="-9.03" cy="3.22" rx="1.53" ry="1.36" transform="rotate(-33 -9.03 3.22)" fill="#6f9a4a"/><ellipse cx="-9.03" cy="20.32" rx="1.53" ry="1.36" transform="rotate(-33 -9.03 20.32)" fill="#6f9a4a"/><ellipse cx="5.77" cy="-13.88" rx="1.53" ry="1.36" transform="rotate(-33 5.77 -13.88)" fill="#6f9a4a"/><ellipse cx="5.77" cy="3.22" rx="1.53" ry="1.36" transform="rotate(-33 5.77 3.22)" fill="#6f9a4a"/><ellipse cx="5.77" cy="20.32" rx="1.53" ry="1.36" transform="rotate(-33 5.77 20.32)" fill="#6f9a4a"/><ellipse cx="20.57" cy="-13.88" rx="1.53" ry="1.36" transform="rotate(-33 20.57 -13.88)" fill="#6f9a4a"/><ellipse cx="20.57" cy="3.22" rx="1.53" ry="1.36" transform="rotate(-33 20.57 3.22)" fill="#6f9a4a"/><ellipse cx="20.57" cy="20.32" rx="1.53" ry="1.36" transform="rotate(-33 20.57 20.32)" fill="#6f9a4a"/><ellipse cx="-5.52" cy="-14.11" rx="1.48" ry="1.37" transform="rotate(-30 -5.52 -14.11)" fill="#80a858"/><ellipse cx="-5.52" cy="2.99" rx="1.48" ry="1.37" transform="rotate(-30 -5.52 2.99)" fill="#80a858"/><ellipse cx="-5.52" cy="20.09" rx="1.48" ry="1.37" transform="rotate(-30 -5.52 20.09)" fill="#80a858"/><ellipse cx="9.28" cy="-14.11" rx="1.48" ry="1.37" transform="rotate(-30 9.28 -14.11)" fill="#80a858"/><ellipse cx="9.28" cy="2.99" rx="1.48" ry="1.37" transform="rotate(-30 9.28 2.99)" fill="#80a858"/><ellipse cx="9.28" cy="20.09" rx="1.48" ry="1.37" transform="rotate(-30 9.28 20.09)" fill="#80a858"/><ellipse cx="24.08" cy="-14.11" rx="1.48" ry="1.37" transform="rotate(-30 24.08 -14.11)" fill="#80a858"/><ellipse cx="24.08" cy="2.99" rx="1.48" ry="1.37" transform="rotate(-30 24.08 2.99)" fill="#80a858"/><ellipse cx="24.08" cy="20.09" rx="1.48" ry="1.37" transform="rotate(-30 24.08 20.09)" fill="#80a858"/><ellipse cx="-1.94" cy="-14.63" rx="1.52" ry="1.10" transform="rotate(-9 -1.94 -14.63)" fill="#6f9a4a"/><ellipse cx="-1.94" cy="2.47" rx="1.52" ry="1.10" transform="rotate(-9 -1.94 2.47)" fill="#6f9a4a"/><ellipse cx="-1.94" cy="19.57" rx="1.52" ry="1.10" transform="rotate(-9 -1.94 19.57)" fill="#6f9a4a"/><ellipse cx="12.86" cy="-14.63" rx="1.52" ry="1.10" transform="rotate(-9 12.86 -14.63)" fill="#6f9a4a"/><ellipse cx="12.86" cy="2.47" rx="1.52" ry="1.10" transform="rotate(-9 12.86 2.47)" fill="#6f9a4a"/><ellipse cx="12.86" cy="19.57" rx="1.52" ry="1.10" transform="rotate(-9 12.86 19.57)" fill="#6f9a4a"/><ellipse cx="27.66" cy="-14.63" rx="1.52" ry="1.10" transform="rotate(-9 27.66 -14.63)" fill="#6f9a4a"/><ellipse cx="27.66" cy="2.47" rx="1.52" ry="1.10" transform="rotate(-9 27.66 2.47)" fill="#6f9a4a"/><ellipse cx="27.66" cy="19.57" rx="1.52" ry="1.10" transform="rotate(-9 27.66 19.57)" fill="#6f9a4a"/><ellipse cx="-14.55" cy="-11.33" rx="1.56" ry="1.09" transform="rotate(10 -14.55 -11.33)" fill="#80a858"/><ellipse cx="-14.55" cy="5.77" rx="1.56" ry="1.09" transform="rotate(10 -14.55 5.77)" fill="#80a858"/><ellipse cx="-14.55" cy="22.87" rx="1.56" ry="1.09" transform="rotate(10 -14.55 22.87)" fill="#80a858"/><ellipse cx="0.25" cy="-11.33" rx="1.56" ry="1.09" transform="rotate(10 0.25 -11.33)" fill="#80a858"/><ellipse cx="0.25" cy="5.77" rx="1.56" ry="1.09" transform="rotate(10 0.25 5.77)" fill="#80a858"/><ellipse cx="0.25" cy="22.87" rx="1.56" ry="1.09" transform="rotate(10 0.25 22.87)" fill="#80a858"/><ellipse cx="15.05" cy="-11.33" rx="1.56" ry="1.09" transform="rotate(10 15.05 -11.33)" fill="#80a858"/><ellipse cx="15.05" cy="5.77" rx="1.56" ry="1.09" transform="rotate(10 15.05 5.77)" fill="#80a858"/><ellipse cx="15.05" cy="22.87" rx="1.56" ry="1.09" transform="rotate(10 15.05 22.87)" fill="#80a858"/><ellipse cx="-10.85" cy="-11.42" rx="1.64" ry="1.03" transform="rotate(-18 -10.85 -11.42)" fill="#7aa552"/><ellipse cx="-10.85" cy="5.68" rx="1.64" ry="1.03" transform="rotate(-18 -10.85 5.68)" fill="#7aa552"/><ellipse cx="-10.85" cy="22.78" rx="1.64" ry="1.03" transform="rotate(-18 -10.85 22.78)" fill="#7aa552"/><ellipse cx="3.95" cy="-11.42" rx="1.64" ry="1.03" transform="rotate(-18 3.95 -11.42)" fill="#7aa552"/><ellipse cx="3.95" cy="5.68" rx="1.64" ry="1.03" transform="rotate(-18 3.95 5.68)" fill="#7aa552"/><ellipse cx="3.95" cy="22.78" rx="1.64" ry="1.03" transform="rotate(-18 3.95 22.78)" fill="#7aa552"/><ellipse cx="18.75" cy="-11.42" rx="1.64" ry="1.03" transform="rotate(-18 18.75 -11.42)" fill="#7aa552"/><ellipse cx="18.75" cy="5.68" rx="1.64" ry="1.03" transform="rotate(-18 18.75 5.68)" fill="#7aa552"/><ellipse cx="18.75" cy="22.78" rx="1.64" ry="1.03" transform="rotate(-18 18.75 22.78)" fill="#7aa552"/><ellipse cx="-7.60" cy="-11.05" rx="1.86" ry="0.97" transform="rotate(45 -7.60 -11.05)" fill="#7aa552"/><ellipse cx="-7.60" cy="6.05" rx="1.86" ry="0.97" transform="rotate(45 -7.60 6.05)" fill="#7aa552"/><ellipse cx="-7.60" cy="23.15" rx="1.86" ry="0.97" transform="rotate(45 -7.60 23.15)" fill="#7aa552"/><ellipse cx="7.20" cy="-11.05" rx="1.86" ry="0.97" transform="rotate(45 7.20 -11.05)" fill="#7aa552"/><ellipse cx="7.20" cy="6.05" rx="1.86" ry="0.97" transform="rotate(45 7.20 6.05)" fill="#7aa552"/><ellipse cx="7.20" cy="23.15" rx="1.86" ry="0.97" transform="rotate(45 7.20 23.15)" fill="#7aa552"/><ellipse cx="22.00" cy="-11.05" rx="1.86" ry="0.97" transform="rotate(45 22.00 -11.05)" fill="#7aa552"/><ellipse cx="22.00" cy="6.05" rx="1.86" ry="0.97" transform="rotate(45 22.00 6.05)" fill="#7aa552"/><ellipse cx="22.00" cy="23.15" rx="1.86" ry="0.97" transform="rotate(45 22.00 23.15)" fill="#7aa552"/><ellipse cx="-3.47" cy="-11.51" rx="1.63" ry="1.26" transform="rotate(8 -3.47 -11.51)" fill="#6f9a4a"/><ellipse cx="-3.47" cy="5.59" rx="1.63" ry="1.26" transform="rotate(8 -3.47 5.59)" fill="#6f9a4a"/><ellipse cx="-3.47" cy="22.69" rx="1.63" ry="1.26" transform="rotate(8 -3.47 22.69)" fill="#6f9a4a"/><ellipse cx="11.33" cy="-11.51" rx="1.63" ry="1.26" transform="rotate(8 11.33 -11.51)" fill="#6f9a4a"/><ellipse cx="11.33" cy="5.59" rx="1.63" ry="1.26" transform="rotate(8 11.33 5.59)" fill="#6f9a4a"/><ellipse cx="11.33" cy="22.69" rx="1.63" ry="1.26" transform="rotate(8 11.33 22.69)" fill="#6f9a4a"/><ellipse cx="26.13" cy="-11.51" rx="1.63" ry="1.26" transform="rotate(8 26.13 -11.51)" fill="#6f9a4a"/><ellipse cx="26.13" cy="5.59" rx="1.63" ry="1.26" transform="rotate(8 26.13 5.59)" fill="#6f9a4a"/><ellipse cx="26.13" cy="22.69" rx="1.63" ry="1.26" transform="rotate(8 26.13 22.69)" fill="#6f9a4a"/><ellipse cx="-12.85" cy="-8.19" rx="1.91" ry="1.36" transform="rotate(-38 -12.85 -8.19)" fill="#6f9a4a"/><ellipse cx="-12.85" cy="8.91" rx="1.91" ry="1.36" transform="rotate(-38 -12.85 8.91)" fill="#6f9a4a"/><ellipse cx="-12.85" cy="26.01" rx="1.91" ry="1.36" transform="rotate(-38 -12.85 26.01)" fill="#6f9a4a"/><ellipse cx="1.95" cy="-8.19" rx="1.91" ry="1.36" transform="rotate(-38 1.95 -8.19)" fill="#6f9a4a"/><ellipse cx="1.95" cy="8.91" rx="1.91" ry="1.36" transform="rotate(-38 1.95 8.91)" fill="#6f9a4a"/><ellipse cx="1.95" cy="26.01" rx="1.91" ry="1.36" transform="rotate(-38 1.95 26.01)" fill="#6f9a4a"/><ellipse cx="16.75" cy="-8.19" rx="1.91" ry="1.36" transform="rotate(-38 16.75 -8.19)" fill="#6f9a4a"/><ellipse cx="16.75" cy="8.91" rx="1.91" ry="1.36" transform="rotate(-38 16.75 8.91)" fill="#6f9a4a"/><ellipse cx="16.75" cy="26.01" rx="1.91" ry="1.36" transform="rotate(-38 16.75 26.01)" fill="#6f9a4a"/><ellipse cx="-9.37" cy="-8.67" rx="1.42" ry="1.27" transform="rotate(2 -9.37 -8.67)" fill="#7aa552"/><ellipse cx="-9.37" cy="8.43" rx="1.42" ry="1.27" transform="rotate(2 -9.37 8.43)" fill="#7aa552"/><ellipse cx="-9.37" cy="25.53" rx="1.42" ry="1.27" transform="rotate(2 -9.37 25.53)" fill="#7aa552"/><ellipse cx="5.43" cy="-8.67" rx="1.42" ry="1.27" transform="rotate(2 5.43 -8.67)" fill="#7aa552"/><ellipse cx="5.43" cy="8.43" rx="1.42" ry="1.27" transform="rotate(2 5.43 8.43)" fill="#7aa552"/><ellipse cx="5.43" cy="25.53" rx="1.42" ry="1.27" transform="rotate(2 5.43 25.53)" fill="#7aa552"/><ellipse cx="20.23" cy="-8.67" rx="1.42" ry="1.27" transform="rotate(2 20.23 -8.67)" fill="#7aa552"/><ellipse cx="20.23" cy="8.43" rx="1.42" ry="1.27" transform="rotate(2 20.23 8.43)" fill="#7aa552"/><ellipse cx="20.23" cy="25.53" rx="1.42" ry="1.27" transform="rotate(2 20.23 25.53)" fill="#7aa552"/><ellipse cx="-5.31" cy="-8.26" rx="1.48" ry="1.18" transform="rotate(-46 -5.31 -8.26)" fill="#6f9a4a"/><ellipse cx="-5.31" cy="8.84" rx="1.48" ry="1.18" transform="rotate(-46 -5.31 8.84)" fill="#6f9a4a"/><ellipse cx="-5.31" cy="25.94" rx="1.48" ry="1.18" transform="rotate(-46 -5.31 25.94)" fill="#6f9a4a"/><ellipse cx="9.49" cy="-8.26" rx="1.48" ry="1.18" transform="rotate(-46 9.49 -8.26)" fill="#6f9a4a"/><ellipse cx="9.49" cy="8.84" rx="1.48" ry="1.18" transform="rotate(-46 9.49 8.84)" fill="#6f9a4a"/><ellipse cx="9.49" cy="25.94" rx="1.48" ry="1.18" transform="rotate(-46 9.49 25.94)" fill="#6f9a4a"/><ellipse cx="24.29" cy="-8.26" rx="1.48" ry="1.18" transform="rotate(-46 24.29 -8.26)" fill="#6f9a4a"/><ellipse cx="24.29" cy="8.84" rx="1.48" ry="1.18" transform="rotate(-46 24.29 8.84)" fill="#6f9a4a"/><ellipse cx="24.29" cy="25.94" rx="1.48" ry="1.18" transform="rotate(-46 24.29 25.94)" fill="#6f9a4a"/><ellipse cx="-1.96" cy="-8.83" rx="1.68" ry="1.09" transform="rotate(-22 -1.96 -8.83)" fill="#80a858"/><ellipse cx="-1.96" cy="8.27" rx="1.68" ry="1.09" transform="rotate(-22 -1.96 8.27)" fill="#80a858"/><ellipse cx="-1.96" cy="25.37" rx="1.68" ry="1.09" transform="rotate(-22 -1.96 25.37)" fill="#80a858"/><ellipse cx="12.84" cy="-8.83" rx="1.68" ry="1.09" transform="rotate(-22 12.84 -8.83)" fill="#80a858"/><ellipse cx="12.84" cy="8.27" rx="1.68" ry="1.09" transform="rotate(-22 12.84 8.27)" fill="#80a858"/><ellipse cx="12.84" cy="25.37" rx="1.68" ry="1.09" transform="rotate(-22 12.84 25.37)" fill="#80a858"/><ellipse cx="27.64" cy="-8.83" rx="1.68" ry="1.09" transform="rotate(-22 27.64 -8.83)" fill="#80a858"/><ellipse cx="27.64" cy="8.27" rx="1.68" ry="1.09" transform="rotate(-22 27.64 8.27)" fill="#80a858"/><ellipse cx="27.64" cy="25.37" rx="1.68" ry="1.09" transform="rotate(-22 27.64 25.37)" fill="#80a858"/><ellipse cx="-14.95" cy="-5.96" rx="1.79" ry="1.09" transform="rotate(-42 -14.95 -5.96)" fill="#6f9a4a"/><ellipse cx="-14.95" cy="11.14" rx="1.79" ry="1.09" transform="rotate(-42 -14.95 11.14)" fill="#6f9a4a"/><ellipse cx="-14.95" cy="28.24" rx="1.79" ry="1.09" transform="rotate(-42 -14.95 28.24)" fill="#6f9a4a"/><ellipse cx="-0.15" cy="-5.96" rx="1.79" ry="1.09" transform="rotate(-42 -0.15 -5.96)" fill="#6f9a4a"/><ellipse cx="-0.15" cy="11.14" rx="1.79" ry="1.09" transform="rotate(-42 -0.15 11.14)" fill="#6f9a4a"/><ellipse cx="-0.15" cy="28.24" rx="1.79" ry="1.09" transform="rotate(-42 -0.15 28.24)" fill="#6f9a4a"/><ellipse cx="14.65" cy="-5.96" rx="1.79" ry="1.09" transform="rotate(-42 14.65 -5.96)" fill="#6f9a4a"/><ellipse cx="14.65" cy="11.14" rx="1.79" ry="1.09" transform="rotate(-42 14.65 11.14)" fill="#6f9a4a"/><ellipse cx="14.65" cy="28.24" rx="1.79" ry="1.09" transform="rotate(-42 14.65 28.24)" fill="#6f9a4a"/><ellipse cx="-11.11" cy="-5.52" rx="1.68" ry="1.13" transform="rotate(-42 -11.11 -5.52)" fill="#80a858"/><ellipse cx="-11.11" cy="11.58" rx="1.68" ry="1.13" transform="rotate(-42 -11.11 11.58)" fill="#80a858"/><ellipse cx="-11.11" cy="28.68" rx="1.68" ry="1.13" transform="rotate(-42 -11.11 28.68)" fill="#80a858"/><ellipse cx="3.69" cy="-5.52" rx="1.68" ry="1.13" transform="rotate(-42 3.69 -5.52)" fill="#80a858"/><ellipse cx="3.69" cy="11.58" rx="1.68" ry="1.13" transform="rotate(-42 3.69 11.58)" fill="#80a858"/><ellipse cx="3.69" cy="28.68" rx="1.68" ry="1.13" transform="rotate(-42 3.69 28.68)" fill="#80a858"/><ellipse cx="18.49" cy="-5.52" rx="1.68" ry="1.13" transform="rotate(-42 18.49 -5.52)" fill="#80a858"/><ellipse cx="18.49" cy="11.58" rx="1.68" ry="1.13" transform="rotate(-42 18.49 11.58)" fill="#80a858"/><ellipse cx="18.49" cy="28.68" rx="1.68" ry="1.13" transform="rotate(-42 18.49 28.68)" fill="#80a858"/><ellipse cx="-7.61" cy="-5.62" rx="1.75" ry="1.02" transform="rotate(33 -7.61 -5.62)" fill="#7aa552"/><ellipse cx="-7.61" cy="11.48" rx="1.75" ry="1.02" transform="rotate(33 -7.61 11.48)" fill="#7aa552"/><ellipse cx="-7.61" cy="28.58" rx="1.75" ry="1.02" transform="rotate(33 -7.61 28.58)" fill="#7aa552"/><ellipse cx="7.19" cy="-5.62" rx="1.75" ry="1.02" transform="rotate(33 7.19 -5.62)" fill="#7aa552"/><ellipse cx="7.19" cy="11.48" rx="1.75" ry="1.02" transform="rotate(33 7.19 11.48)" fill="#7aa552"/><ellipse cx="7.19" cy="28.58" rx="1.75" ry="1.02" transform="rotate(33 7.19 28.58)" fill="#7aa552"/><ellipse cx="21.99" cy="-5.62" rx="1.75" ry="1.02" transform="rotate(33 21.99 -5.62)" fill="#7aa552"/><ellipse cx="21.99" cy="11.48" rx="1.75" ry="1.02" transform="rotate(33 21.99 11.48)" fill="#7aa552"/><ellipse cx="21.99" cy="28.58" rx="1.75" ry="1.02" transform="rotate(33 21.99 28.58)" fill="#7aa552"/><ellipse cx="-3.32" cy="-5.59" rx="1.86" ry="1.01" transform="rotate(30 -3.32 -5.59)" fill="#7aa552"/><ellipse cx="-3.32" cy="11.51" rx="1.86" ry="1.01" transform="rotate(30 -3.32 11.51)" fill="#7aa552"/><ellipse cx="-3.32" cy="28.61" rx="1.86" ry="1.01" transform="rotate(30 -3.32 28.61)" fill="#7aa552"/><ellipse cx="11.48" cy="-5.59" rx="1.86" ry="1.01" transform="rotate(30 11.48 -5.59)" fill="#7aa552"/><ellipse cx="11.48" cy="11.51" rx="1.86" ry="1.01" transform="rotate(30 11.48 11.51)" fill="#7aa552"/><ellipse cx="11.48" cy="28.61" rx="1.86" ry="1.01" transform="rotate(30 11.48 28.61)" fill="#7aa552"/><ellipse cx="26.28" cy="-5.59" rx="1.86" ry="1.01" transform="rotate(30 26.28 -5.59)" fill="#7aa552"/><ellipse cx="26.28" cy="11.51" rx="1.86" ry="1.01" transform="rotate(30 26.28 11.51)" fill="#7aa552"/><ellipse cx="26.28" cy="28.61" rx="1.86" ry="1.01" transform="rotate(30 26.28 28.61)" fill="#7aa552"/><ellipse cx="-12.76" cy="-2.49" rx="1.42" ry="1.14" transform="rotate(13 -12.76 -2.49)" fill="#7aa552"/><ellipse cx="-12.76" cy="14.61" rx="1.42" ry="1.14" transform="rotate(13 -12.76 14.61)" fill="#7aa552"/><ellipse cx="-12.76" cy="31.71" rx="1.42" ry="1.14" transform="rotate(13 -12.76 31.71)" fill="#7aa552"/><ellipse cx="2.04" cy="-2.49" rx="1.42" ry="1.14" transform="rotate(13 2.04 -2.49)" fill="#7aa552"/><ellipse cx="2.04" cy="14.61" rx="1.42" ry="1.14" transform="rotate(13 2.04 14.61)" fill="#7aa552"/><ellipse cx="2.04" cy="31.71" rx="1.42" ry="1.14" transform="rotate(13 2.04 31.71)" fill="#7aa552"/><ellipse cx="16.84" cy="-2.49" rx="1.42" ry="1.14" transform="rotate(13 16.84 -2.49)" fill="#7aa552"/><ellipse cx="16.84" cy="14.61" rx="1.42" ry="1.14" transform="rotate(13 16.84 14.61)" fill="#7aa552"/><ellipse cx="16.84" cy="31.71" rx="1.42" ry="1.14" transform="rotate(13 16.84 31.71)" fill="#7aa552"/><ellipse cx="-9.53" cy="-2.57" rx="1.91" ry="1.22" transform="rotate(-21 -9.53 -2.57)" fill="#7aa552"/><ellipse cx="-9.53" cy="14.53" rx="1.91" ry="1.22" transform="rotate(-21 -9.53 14.53)" fill="#7aa552"/><ellipse cx="-9.53" cy="31.63" rx="1.91" ry="1.22" transform="rotate(-21 -9.53 31.63)" fill="#7aa552"/><ellipse cx="5.27" cy="-2.57" rx="1.91" ry="1.22" transform="rotate(-21 5.27 -2.57)" fill="#7aa552"/><ellipse cx="5.27" cy="14.53" rx="1.91" ry="1.22" transform="rotate(-21 5.27 14.53)" fill="#7aa552"/><ellipse cx="5.27" cy="31.63" rx="1.91" ry="1.22" transform="rotate(-21 5.27 31.63)" fill="#7aa552"/><ellipse cx="20.07" cy="-2.57" rx="1.91" ry="1.22" transform="rotate(-21 20.07 -2.57)" fill="#7aa552"/><ellipse cx="20.07" cy="14.53" rx="1.91" ry="1.22" transform="rotate(-21 20.07 14.53)" fill="#7aa552"/><ellipse cx="20.07" cy="31.63" rx="1.91" ry="1.22" transform="rotate(-21 20.07 31.63)" fill="#7aa552"/><ellipse cx="-5.81" cy="-2.83" rx="1.79" ry="1.16" transform="rotate(46 -5.81 -2.83)" fill="#80a858"/><ellipse cx="-5.81" cy="14.27" rx="1.79" ry="1.16" transform="rotate(46 -5.81 14.27)" fill="#80a858"/><ellipse cx="-5.81" cy="31.37" rx="1.79" ry="1.16" transform="rotate(46 -5.81 31.37)" fill="#80a858"/><ellipse cx="8.99" cy="-2.83" rx="1.79" ry="1.16" transform="rotate(46 8.99 -2.83)" fill="#80a858"/><ellipse cx="8.99" cy="14.27" rx="1.79" ry="1.16" transform="rotate(46 8.99 14.27)" fill="#80a858"/><ellipse cx="8.99" cy="31.37" rx="1.79" ry="1.16" transform="rotate(46 8.99 31.37)" fill="#80a858"/><ellipse cx="23.79" cy="-2.83" rx="1.79" ry="1.16" transform="rotate(46 23.79 -2.83)" fill="#80a858"/><ellipse cx="23.79" cy="14.27" rx="1.79" ry="1.16" transform="rotate(46 23.79 14.27)" fill="#80a858"/><ellipse cx="23.79" cy="31.37" rx="1.79" ry="1.16" transform="rotate(46 23.79 31.37)" fill="#80a858"/><ellipse cx="-2.02" cy="-2.93" rx="1.85" ry="1.18" transform="rotate(-35 -2.02 -2.93)" fill="#7aa552"/><ellipse cx="-2.02" cy="14.17" rx="1.85" ry="1.18" transform="rotate(-35 -2.02 14.17)" fill="#7aa552"/><ellipse cx="-2.02" cy="31.27" rx="1.85" ry="1.18" transform="rotate(-35 -2.02 31.27)" fill="#7aa552"/><ellipse cx="12.78" cy="-2.93" rx="1.85" ry="1.18" transform="rotate(-35 12.78 -2.93)" fill="#7aa552"/><ellipse cx="12.78" cy="14.17" rx="1.85" ry="1.18" transform="rotate(-35 12.78 14.17)" fill="#7aa552"/><ellipse cx="12.78" cy="31.27" rx="1.85" ry="1.18" transform="rotate(-35 12.78 31.27)" fill="#7aa552"/><ellipse cx="27.58" cy="-2.93" rx="1.85" ry="1.18" transform="rotate(-35 27.58 -2.93)" fill="#7aa552"/><ellipse cx="27.58" cy="14.17" rx="1.85" ry="1.18" transform="rotate(-35 27.58 14.17)" fill="#7aa552"/><ellipse cx="27.58" cy="31.27" rx="1.85" ry="1.18" transform="rotate(-35 27.58 31.27)" fill="#7aa552"/></pattern>
<pattern id="patS" patternUnits="userSpaceOnUse" width="8" height="8"><rect width="8" height="8" fill="#7a7a7a"/><rect x="1.90" y="4.35" width="1.23" height="0.88" fill="#f4f4f4"/><rect x="4.65" y="4.84" width="0.71" height="0.69" fill="#a8a8a8"/><rect x="7.97" y="3.76" width="0.88" height="1.01" fill="#303030"/><rect x="1.20" y="5.08" width="0.81" height="0.51" fill="#303030"/><rect x="6.22" y="1.28" width="0.53" height="1.12" fill="#303030"/><rect x="6.59" y="2.16" width="1.08" height="1.20" fill="#303030"/><rect x="5.71" y="7.37" width="1.08" height="0.96" fill="#a8a8a8"/><rect x="7.71" y="1.07" width="0.58" height="0.61" fill="#f4f4f4"/><rect x="1.74" y="7.72" width="1.12" height="1.18" fill="#a8a8a8"/><rect x="3.37" y="6.67" width="0.78" height="0.97" fill="#303030"/><rect x="4.67" y="7.23" width="1.19" height="1.29" fill="#e4e4e4"/><rect x="5.37" y="1.30" width="1.27" height="1.22" fill="#f4f4f4"/><rect x="4.55" y="5.71" width="1.01" height="1.29" fill="#cccccc"/><rect x="2.14" y="1.00" width="1.18" height="1.29" fill="#a8a8a8"/><rect x="0.71" y="6.40" width="1.22" height="0.52" fill="#a8a8a8"/><rect x="3.42" y="3.32" width="0.54" height="0.99" fill="#e4e4e4"/><rect x="0.36" y="5.75" width="0.94" height="1.24" fill="#f4f4f4"/><rect x="2.23" y="1.89" width="0.75" height="0.56" fill="#e4e4e4"/><rect x="4.80" y="0.25" width="1.28" height="0.73" fill="#cccccc"/><rect x="2.11" y="5.52" width="0.75" height="1.27" fill="#f4f4f4"/><rect x="7.17" y="3.02" width="1.20" height="0.81" fill="#a8a8a8"/><rect x="6.93" y="5.45" width="1.00" height="1.25" fill="#e4e4e4"/><rect x="4.06" y="3.45" width="1.25" height="0.85" fill="#cccccc"/><rect x="2.07" y="2.42" width="0.51" height="0.83" fill="#f4f4f4"/><rect x="4.64" y="0.16" width="0.97" height="0.61" fill="#303030"/><rect x="5.07" y="2.66" width="1.04" height="0.78" fill="#f4f4f4"/><rect x="5.66" y="5.90" width="0.97" height="1.26" fill="#e4e4e4"/><rect x="0.17" y="2.95" width="0.74" height="0.98" fill="#a8a8a8"/><rect x="1.42" y="1.48" width="1.18" height="0.71" fill="#f4f4f4"/><rect x="6.30" y="0.84" width="1.28" height="1.05" fill="#e4e4e4"/><rect x="1.05" y="4.00" width="0.69" height="0.65" fill="#f4f4f4"/><rect x="3.48" y="5.58" width="0.98" height="1.26" fill="#e4e4e4"/><rect x="5.40" y="1.80" width="0.56" height="1.09" fill="#cccccc"/><rect x="1.74" y="4.55" width="0.68" height="0.60" fill="#f4f4f4"/><rect x="4.24" y="1.53" width="0.65" height="0.72" fill="#303030"/><rect x="6.46" y="5.14" width="0.78" height="0.60" fill="#303030"/><rect x="2.34" y="6.35" width="0.87" height="1.01" fill="#f4f4f4"/><rect x="2.32" y="4.55" width="1.24" height="0.62" fill="#e4e4e4"/><rect x="0.04" y="7.55" width="1.29" height="0.85" fill="#303030"/><rect x="7.60" y="7.42" width="0.53" height="0.87" fill="#cccccc"/><rect x="6.03" y="5.98" width="0.94" height="1.21" fill="#f4f4f4"/><rect x="6.89" y="6.86" width="0.60" height="0.70" fill="#f4f4f4"/><rect x="0.28" y="6.42" width="1.24" height="1.22" fill="#303030"/><rect x="7.20" y="4.62" width="0.88" height="0.60" fill="#e4e4e4"/><rect x="4.03" y="1.91" width="0.92" height="0.83" fill="#e4e4e4"/><rect x="7.51" y="4.90" width="0.60" height="1.28" fill="#f4f4f4"/><rect x="4.33" y="6.49" width="0.78" height="0.66" fill="#e4e4e4"/><rect x="4.28" y="6.53" width="0.69" height="0.72" fill="#cccccc"/><rect x="7.12" y="1.03" width="0.89" height="0.96" fill="#e4e4e4"/><rect x="3.20" y="6.05" width="0.71" height="0.92" fill="#cccccc"/><rect x="3.38" y="3.78" width="1.19" height="1.12" fill="#e4e4e4"/><rect x="0.37" y="0.40" width="1.28" height="1.18" fill="#a8a8a8"/><rect x="0.69" y="4.02" width="0.63" height="0.56" fill="#f4f4f4"/><rect x="3.09" y="3.12" width="0.79" height="0.65" fill="#f4f4f4"/><rect x="2.63" y="0.99" width="0.50" height="1.08" fill="#303030"/><rect x="6.36" y="4.53" width="0.80" height="0.98" fill="#e4e4e4"/><rect x="6.26" y="3.04" width="1.00" height="0.85" fill="#e4e4e4"/><rect x="2.98" y="3.97" width="0.84" height="1.06" fill="#f4f4f4"/><rect x="3.69" y="1.96" width="0.72" height="0.97" fill="#303030"/><rect x="6.43" y="1.80" width="1.20" height="1.25" fill="#cccccc"/><rect x="2.99" y="7.18" width="0.60" height="1.05" fill="#f4f4f4"/><rect x="7.51" y="5.85" width="1.13" height="1.03" fill="#303030"/><rect x="5.87" y="4.51" width="1.15" height="1.07" fill="#e4e4e4"/><rect x="3.79" y="1.89" width="0.54" height="0.57" fill="#a8a8a8"/><rect x="0.79" y="7.04" width="1.16" height="0.77" fill="#cccccc"/><rect x="6.82" y="0.20" width="1.04" height="1.17" fill="#e4e4e4"/><rect x="7.62" y="4.63" width="0.53" height="1.11" fill="#e4e4e4"/><rect x="4.09" y="5.72" width="0.94" height="0.58" fill="#e4e4e4"/><rect x="4.43" y="4.40" width="0.64" height="0.56" fill="#303030"/><rect x="7.99" y="5.17" width="0.99" height="1.10" fill="#a8a8a8"/><rect x="3.15" y="2.94" width="1.25" height="0.95" fill="#a8a8a8"/><rect x="7.73" y="3.00" width="1.28" height="0.83" fill="#cccccc"/><rect x="5.98" y="1.28" width="1.10" height="1.04" fill="#303030"/><rect x="4.14" y="3.87" width="1.22" height="0.62" fill="#a8a8a8"/><rect x="0.77" y="5.99" width="1.26" height="0.97" fill="#303030"/><rect x="6.86" y="1.09" width="0.62" height="0.91" fill="#cccccc"/><rect x="7.48" y="6.81" width="1.26" height="0.74" fill="#303030"/><rect x="5.64" y="3.31" width="0.97" height="0.71" fill="#303030"/><rect x="1.74" y="0.18" width="1.14" height="0.66" fill="#a8a8a8"/><rect x="4.56" y="1.91" width="1.12" height="0.61" fill="#a8a8a8"/></pattern>
<pattern id="patS2" patternUnits="userSpaceOnUse" width="8" height="8"><rect width="8" height="8" fill="#787878"/><rect x="6.35" y="6.58" width="1.11" height="0.53" fill="#8c8c8c"/><rect x="1.16" y="4.69" width="0.76" height="0.52" fill="#dedede"/><rect x="3.91" y="1.58" width="1.23" height="0.93" fill="#8c8c8c"/><rect x="0.75" y="4.51" width="1.03" height="0.99" fill="#dedede"/><rect x="0.70" y="3.40" width="0.79" height="0.83" fill="#cccccc"/><rect x="2.00" y="5.60" width="1.06" height="1.14" fill="#b4b4b4"/><rect x="0.78" y="0.37" width="1.16" height="1.23" fill="#b4b4b4"/><rect x="3.89" y="6.66" width="0.91" height="1.02" fill="#b4b4b4"/><rect x="5.58" y="6.44" width="1.01" height="0.70" fill="#cccccc"/><rect x="3.44" y="2.86" width="0.57" height="1.20" fill="#cccccc"/><rect x="4.20" y="0.93" width="0.75" height="0.66" fill="#dedede"/><rect x="3.87" y="1.10" width="1.17" height="1.20" fill="#b4b4b4"/><rect x="4.18" y="1.51" width="0.51" height="0.77" fill="#b4b4b4"/><rect x="7.24" y="4.96" width="0.80" height="0.92" fill="#dedede"/><rect x="2.31" y="5.43" width="0.54" height="0.84" fill="#8c8c8c"/><rect x="5.97" y="3.18" width="0.70" height="1.28" fill="#8c8c8c"/><rect x="7.14" y="5.36" width="0.86" height="1.17" fill="#8c8c8c"/><rect x="6.37" y="4.13" width="0.74" height="1.15" fill="#8c8c8c"/><rect x="7.53" y="1.54" width="0.86" height="1.08" fill="#dedede"/><rect x="7.72" y="0.15" width="0.60" height="0.97" fill="#303030"/><rect x="2.89" y="2.05" width="0.76" height="0.91" fill="#8c8c8c"/><rect x="7.85" y="7.42" width="0.99" height="0.71" fill="#8c8c8c"/><rect x="3.80" y="3.83" width="1.08" height="0.90" fill="#b4b4b4"/><rect x="5.08" y="3.74" width="1.03" height="1.28" fill="#dedede"/><rect x="7.38" y="3.01" width="0.71" height="1.02" fill="#303030"/><rect x="7.80" y="5.83" width="1.25" height="0.73" fill="#b4b4b4"/><rect x="0.05" y="3.59" width="0.65" height="0.99" fill="#cccccc"/><rect x="4.56" y="5.46" width="0.79" height="1.25" fill="#dedede"/><rect x="6.83" y="0.50" width="0.62" height="0.72" fill="#b4b4b4"/><rect x="0.12" y="6.45" width="0.89" height="0.88" fill="#303030"/><rect x="0.80" y="2.90" width="1.04" height="0.69" fill="#b4b4b4"/><rect x="2.55" y="0.30" width="1.07" height="0.54" fill="#cccccc"/><rect x="3.82" y="5.79" width="1.00" height="1.06" fill="#cccccc"/><rect x="1.02" y="6.66" width="0.63" height="1.00" fill="#cccccc"/><rect x="2.12" y="6.71" width="0.90" height="0.52" fill="#8c8c8c"/><rect x="5.10" y="6.55" width="1.23" height="0.85" fill="#b4b4b4"/><rect x="6.23" y="3.58" width="0.88" height="0.96" fill="#dedede"/><rect x="6.65" y="2.33" width="0.73" height="1.25" fill="#dedede"/><rect x="0.67" y="6.86" width="0.72" height="0.88" fill="#dedede"/><rect x="3.55" y="2.97" width="0.70" height="0.98" fill="#cccccc"/><rect x="1.91" y="5.96" width="0.77" height="0.53" fill="#b4b4b4"/><rect x="7.62" y="5.92" width="1.06" height="0.77" fill="#b4b4b4"/><rect x="0.62" y="5.85" width="0.82" height="0.61" fill="#cccccc"/><rect x="5.94" y="5.12" width="0.56" height="0.92" fill="#b4b4b4"/><rect x="0.24" y="4.20" width="0.65" height="1.09" fill="#b4b4b4"/><rect x="4.06" y="6.80" width="1.26" height="1.06" fill="#b4b4b4"/><rect x="5.72" y="1.01" width="1.11" height="1.29" fill="#b4b4b4"/><rect x="4.49" y="0.04" width="0.81" height="1.11" fill="#303030"/><rect x="6.84" y="4.21" width="0.82" height="1.30" fill="#cccccc"/><rect x="4.41" y="5.30" width="1.02" height="1.14" fill="#b4b4b4"/><rect x="2.98" y="5.33" width="0.63" height="1.00" fill="#b4b4b4"/><rect x="3.08" y="0.49" width="0.88" height="0.55" fill="#cccccc"/><rect x="5.21" y="4.32" width="0.98" height="0.55" fill="#dedede"/><rect x="1.80" y="3.25" width="1.05" height="1.26" fill="#303030"/><rect x="0.74" y="0.62" width="1.19" height="0.63" fill="#303030"/></pattern>
</defs>
<rect x="0" y="0" width="685" height="707" fill="#fff"/>
<text x="3.6" y="19.6" class="pl">a</text>
<text x="3.0" y="394.6" class="pl">b</text>
<rect x="69.2" y="36.4" width="41.6" height="22.2" rx="3.5" ry="3.5" fill="#fff" stroke="#505050" stroke-width="1.0"/>
<text x="90.0" y="45.3" text-anchor="middle" class="t">Lithium</text>
<text x="90.0" y="55.9" text-anchor="middle" class="t">dendrite</text>
<rect x="66.3" y="62.1" width="47.4" height="22.2" rx="3.5" ry="3.5" fill="#fff" stroke="#505050" stroke-width="1.0"/>
<text x="90.0" y="70.9" text-anchor="middle" class="t">Separator</text>
<text x="90.0" y="81.4" text-anchor="middle" class="t">flaws</text>
<rect x="59.9" y="88.4" width="60.5" height="22.6" rx="3.5" ry="3.5" fill="#fff" stroke="#505050" stroke-width="1.0"/>
<text x="90.2" y="102.8" text-anchor="middle" class="t">Overcharging</text>
<rect x="62.6" y="113.9" width="54.1" height="22.7" rx="3.5" ry="3.5" fill="#fff" stroke="#505050" stroke-width="1.0"/>
<text x="89.7" y="127.9" text-anchor="middle" class="t">Cell crush</text>
<path d="M121.3,39.1 Q126,39.1 126,43.1 L126,80.3 Q126,84.3 128.6,84.3 Q126,84.3 126,88.3 L126,125.6 Q126,129.6 121.3,129.6" fill="none" stroke="#505050" stroke-width="1"/>
<line x1="128.6" y1="84.3" x2="150.7" y2="84.3" stroke="#505050" stroke-width="1"/><path d="M147.7,81.7 L151.2,84.3 L147.7,86.89999999999999" fill="none" stroke="#505050" stroke-width="1"/>
<rect x="152.0" y="73.1" width="41.8" height="22.4" rx="3.5" ry="3.5" fill="#fff" stroke="#505050" stroke-width="1.0"/>
<text x="172.9" y="81.7" text-anchor="middle" class="t">Big</text>
<text x="172.9" y="92.9" text-anchor="middle" class="t">current</text>
<rect x="250.1" y="41.1" width="52.0" height="23.1" rx="3.5" ry="3.5" fill="#fff" stroke="#505050" stroke-width="1.0"/>
<text x="276.1" y="50.0" text-anchor="middle" class="t">Separator</text>
<text x="276.1" y="61.3" text-anchor="middle" class="t">melt</text>
<rect x="251.6" y="72.8" width="52.0" height="22.5" rx="3.5" ry="3.5" fill="#fff" stroke="#505050" stroke-width="1.0"/>
<text x="277.6" y="81.2" text-anchor="middle" class="t">SEI</text>
<text x="277.6" y="91.4" text-anchor="middle" class="t">decompose</text>
<rect x="251.6" y="104.0" width="52.0" height="22.5" rx="3.5" ry="3.5" fill="#fff" stroke="#505050" stroke-width="1.0"/>
<text x="277.6" y="112.6" text-anchor="middle" class="t">Anode</text>
<text x="277.6" y="121.7" text-anchor="middle" class="t">exposed</text>
<path d="M310.5,38.2 Q314.8,38.2 314.8,42.2 L314.8,80.0 Q314.8,84.0 317,84.0 Q314.8,84.0 314.8,88.0 L314.8,124.80000000000001 Q314.8,128.8 310.5,128.8" fill="none" stroke="#505050" stroke-width="1"/>
<text x="348.1" y="68.0" text-anchor="middle" class="ts">Temperature</text>
<text x="348.0" y="77.6" text-anchor="middle" class="ts">further increases</text>
<line x1="317" y1="84.3" x2="377.5" y2="84.3" stroke="#505050" stroke-width="1"/><path d="M374.5,81.7 L378,84.3 L374.5,86.89999999999999" fill="none" stroke="#505050" stroke-width="1"/>
<rect x="383.2" y="60.6" width="60.1" height="48.3" rx="6" ry="6" fill="#fff" stroke="#505050" stroke-width="1.0"/>
<text x="413.3" y="70.4" text-anchor="middle" class="t">Cathode</text>
<text x="413.3" y="81.9" text-anchor="middle" class="t">decompose,</text>
<text x="413.3" y="93.3" text-anchor="middle" class="t">oxygen</text>
<text x="413.3" y="104.8" text-anchor="middle" class="t">released</text>
<g stroke="#3d82c8" stroke-width="1.5" stroke-dasharray="4,2.7" fill="none"><line x1="544.1" y1="22.3" x2="514.3" y2="101.8"/><line x1="590.5" y1="21.8" x2="621" y2="102.3"/><line x1="533.9" y1="117.9" x2="600.9" y2="117.9"/></g>
<ellipse cx="566.9" cy="22" rx="23.4" ry="16.3" fill="#fff" stroke="#505050" stroke-width="1"/>
<ellipse cx="512.3" cy="119.3" rx="20.9" ry="16.6" fill="#fff" stroke="#505050" stroke-width="1"/>
<ellipse cx="621.8" cy="119.8" rx="20.7" ry="16.6" fill="#fff" stroke="#505050" stroke-width="1"/>
<text x="568.7" y="25.6" text-anchor="middle" class="t">Oxygen</text>
<text x="512.3" y="123.4" text-anchor="middle" class="t">Heat</text>
<text x="622.0" y="123.4" text-anchor="middle" class="t">Fuel</text>
<rect x="537.1" y="53.4" width="60.1" height="48.4" rx="6" ry="6" fill="#fff" stroke="#505050" stroke-width="1.0"/>
<text x="567.4" y="69.0" text-anchor="middle" class="t">Liquid</text>
<text x="567.4" y="80.7" text-anchor="middle" class="t">electrolyte</text>
<text x="567.4" y="91.3" text-anchor="middle" class="t">combustion</text>
<path d="M225.8,205.1 L233.4,205.1 L233.4,199.9 L240.1,209.9 L233.4,219.8 L233.4,214.6 L225.8,214.6Z" fill="#787a86"/>
<path d="M447.3,204.2 L454.9,204.2 L454.9,199 L462.1,209.3 L454.9,219.2 L454.9,214.5 L447.3,214.5Z" fill="#787a86"/>
<g filter="url(#blur6)" opacity="0.55"><path d="M36,162 L118,160 L150,165 L192,165 L196,270 L150,282 L96,262 L46,256 L34,230Z" fill="#d4d4d4"/></g>
<path d="M47.5,165.6 Q75,164.2 102.5,164.9 Q104.6,165.3 104.8,167.5 L105.6,236.5 Q105.4,246.6 77,247.2 Q55,247.3 52.4,242 L46.6,168 Q46.6,165.8 47.5,165.6 Z" fill="url(#cylBlue)"/>
<rect x="66.9" y="162.1" width="15.7" height="3.8" fill="#acb9c8"/>
<path d="M103.5,166.8 L143,165.9 L143,268.5 Q141,254 134,248 Q122,239.8 105.8,239.2 Z" fill="url(#sheet)"/>
<rect x="142.8" y="166.1" width="15.9" height="101.8" fill="url(#patC)"/>
<rect x="158.6" y="166.1" width="7.9" height="101.8" fill="url(#patS)"/>
<rect x="166.5" y="166.1" width="16.8" height="101.8" fill="url(#patA)"/>
<rect x="183.2" y="165.9" width="2.4" height="102" fill="#c98d55"/>
<path d="M175.6,199.8 L152.8,218.4 L161.8,220.4 L149.6,238.8 L173.4,218.6 L166.6,216.4 Z" fill="#cc2f50" opacity="0.95"/>
<g filter="url(#blur6)" opacity="0.55"><path d="M254,162 L336,160 L370,165 L412,165 L416,272 L370,284 L316,262 L264,256 L252,230Z" fill="#d4d4d4"/></g>
<ellipse cx="290" cy="249" rx="36" ry="6" fill="#f2c8c0" opacity="0.8" filter="url(#blur3)"/>
<path d="M265.2,165.6 Q293,164.2 320.5,164.9 Q322.4,165.3 322.5,167.5 L322.6,236.5 Q322.4,247 295,247.3 Q272,247.4 269.6,241.5 L264.3,168 Q264.3,165.8 265.2,165.6 Z" fill="url(#cylOr)"/>
<rect x="284.3" y="162" width="16.6" height="3.8" fill="#c9a9a2"/>
<path d="M322,166.6 L361.8,165.8 L361.8,268.8 Q359,255 352,248 Q340,239.8 322.6,238.8 Z" fill="url(#sheet)"/>
<rect x="361.6" y="165.8" width="16.2" height="103.2" fill="url(#patC)"/>
<rect x="377.6" y="165.8" width="25.9" height="103.2" fill="url(#patA)"/>
<path d="M378,175.5 L387.5,175 Q385.5,190 384.5,200 Q383.5,212 387,222 Q390.5,232 387.5,245 Q384.5,258 385.5,269 L378,269 Z" fill="#1c201c"/>
<path d="M378.2,176 L386.8,175.5 Q384.5,190 383.5,200 Q382.5,212 385.8,222 Q389.2,232 386.2,245 Q383.2,258 384.2,269 L378,269 Q377.6,256 379.2,244 Q381,232 379.4,222 Q377.6,210 378.2,198 Q378.8,186 378.2,176Z" fill="url(#patS2)"/>
<rect x="403.3" y="165.6" width="1.8" height="103.4" fill="#c98d55"/>
<g filter="url(#blur6)" opacity="0.75"><path d="M470,150 L655,140 L664,200 L660,272 L600,282 L500,270 L470,240Z" fill="#d4d8dc"/></g>
<ellipse cx="540" cy="257" rx="72" ry="12" fill="#f0e0e0" filter="url(#blur3)"/>
<path d="M541,167 L575,166 L575,256 Q566,248 556,245 Q548,243 542,243 Z" fill="url(#sheet2)"/>
<path d="M487.6,166.2 Q514,165 540.5,165.6 Q541.5,166 541.6,167.8 L541.8,238 Q541.6,247 514,247.4 Q493,247.4 490.8,242 L486.8,168 Q486.8,166.4 487.6,166.2 Z" fill="url(#cylRed)"/>
<rect x="579" y="166" width="37.4" height="102.3" fill="#c98e62"/>
<g filter="url(#blur1)">
<path d="M475,153 L484,151.5 L498,151.5 L501,145.5 L510,145.5 L511.5,153 L520,153 L521,146 L528.5,146 L530,151 L542,151 L549,157 L549,170 L524,168 L499,166 L475,170Z" fill="#d08a58" opacity="0.9"/>
<path d="M475,160 L499,160 L500,190 L498,212 L492,220 L482,224 L478,214Z" fill="#cc8656" opacity="0.75"/>
<path d="M524,160 L549,160 L549,230 L541,228 L533,222 L527,205 L525,185Z" fill="#cc8656" opacity="0.75"/>
<path d="M553,160 L556,152 L559,148 L563,149 L566,143 L571,144 L575,140 L583,141 L588,139 L593,142 L600,141 L604,145 L609,150 L614,152 L617,145 L623,143 L628,146 L633,142 L640,145 L645,149 L649,155 L647,163 L650,172 L646,182 L648,190 L645,197 L650,206 L653,215 L652,226 L648,236 L641,242 L638,250 L632,256 L626,262 L616,266 L580,266 L575,262 L572,252 L568,240 L565,230 L560,220 L556,210 L554,196 L556,186 L553,175Z" fill="#d08a58" opacity="0.9"/>
</g>
<g filter="url(#blur07)">
<rect x="505.4" y="156.6" width="5.7" height="5.9" fill="#9c6444" opacity="0.73"/>
<rect x="485.7" y="164.3" width="4.2" height="4.7" fill="#c88052" opacity="0.39"/>
<rect x="534.8" y="161.9" width="2.6" height="3.7" fill="#a86a46" opacity="0.64"/>
<rect x="519.7" y="146.7" width="2.6" height="2.7" fill="#d58f5c" opacity="0.37"/>
<rect x="539.0" y="158.0" width="5.2" height="4.8" fill="#c47a50" opacity="0.73"/>
<rect x="511.4" y="159.6" width="4.2" height="4.9" fill="#a86a46" opacity="0.64"/>
<rect x="501.8" y="156.3" width="5.8" height="4.4" fill="#b8784c" opacity="0.49"/>
<rect x="489.5" y="150.4" width="2.7" height="3.4" fill="#cc8a58" opacity="0.40"/>
<rect x="474.6" y="151.7" width="5.0" height="5.0" fill="#c47a50" opacity="0.63"/>
<rect x="532.3" y="149.8" width="2.8" height="2.6" fill="#cc8a58" opacity="0.69"/>
<rect x="515.0" y="154.7" width="3.2" height="3.8" fill="#c88052" opacity="0.54"/>
<rect x="500.0" y="151.8" width="6.0" height="4.2" fill="#c47a50" opacity="0.49"/>
<rect x="520.1" y="143.4" width="6.0" height="5.1" fill="#b8784c" opacity="0.35"/>
<rect x="518.7" y="165.2" width="3.9" height="2.9" fill="#dc9c6a" opacity="0.61"/>
<rect x="490.1" y="158.7" width="3.8" height="3.9" fill="#c47a50" opacity="0.57"/>
<rect x="542.2" y="165.1" width="3.4" height="2.8" fill="#9c6444" opacity="0.44"/>
<rect x="544.8" y="166.3" width="4.6" height="4.6" fill="#cf8858" opacity="0.40"/>
<rect x="528.7" y="152.7" width="4.0" height="5.3" fill="#a86a46" opacity="0.48"/>
<rect x="485.3" y="162.7" width="2.7" height="2.4" fill="#9c6444" opacity="0.64"/>
<rect x="503.8" y="149.3" width="2.7" height="2.4" fill="#9c6444" opacity="0.61"/>
<rect x="480.5" y="151.0" width="5.6" height="7.8" fill="#9c6444" opacity="0.61"/>
<rect x="508.8" y="162.5" width="3.6" height="5.1" fill="#cf8858" opacity="0.55"/>
<rect x="544.6" y="163.0" width="3.0" height="4.1" fill="#e2a676" opacity="0.51"/>
<rect x="538.3" y="152.8" width="5.3" height="6.9" fill="#c47a50" opacity="0.36"/>
<rect x="523.4" y="153.0" width="2.5" height="1.9" fill="#cf8858" opacity="0.64"/>
<rect x="527.3" y="152.0" width="5.1" height="5.6" fill="#a86a46" opacity="0.56"/>
<rect x="513.1" y="156.1" width="4.3" height="3.9" fill="#cf8858" opacity="0.57"/>
<rect x="488.8" y="161.3" width="4.2" height="4.8" fill="#a86a46" opacity="0.47"/>
<rect x="524.3" y="147.7" width="3.1" height="4.1" fill="#a86a46" opacity="0.57"/>
<rect x="490.1" y="153.3" width="3.4" height="3.9" fill="#dc9c6a" opacity="0.75"/>
<rect x="501.2" y="158.3" width="3.6" height="2.9" fill="#a86a46" opacity="0.51"/>
<rect x="535.6" y="152.2" width="4.3" height="5.1" fill="#c47a50" opacity="0.55"/>
<rect x="526.5" y="158.0" width="3.6" height="4.5" fill="#d58f5c" opacity="0.64"/>
<rect x="502.0" y="146.3" width="5.2" height="4.6" fill="#c88052" opacity="0.71"/>
<rect x="479.1" y="156.4" width="4.7" height="4.5" fill="#cf8858" opacity="0.66"/>
<rect x="487.0" y="155.5" width="3.1" height="2.2" fill="#a86a46" opacity="0.59"/>
<rect x="530.8" y="156.0" width="5.8" height="6.1" fill="#c88052" opacity="0.53"/>
<rect x="505.5" y="158.5" width="5.7" height="5.5" fill="#c47a50" opacity="0.64"/>
<rect x="510.4" y="165.0" width="3.7" height="3.4" fill="#dc9c6a" opacity="0.39"/>
<rect x="537.7" y="163.4" width="5.7" height="4.5" fill="#dc9c6a" opacity="0.75"/>
<rect x="513.1" y="164.2" width="3.6" height="4.8" fill="#d58f5c" opacity="0.51"/>
<rect x="477.2" y="153.9" width="4.4" height="5.5" fill="#a86a46" opacity="0.76"/>
<rect x="511.7" y="160.2" width="5.7" height="5.9" fill="#9c6444" opacity="0.76"/>
<rect x="511.4" y="160.8" width="4.0" height="5.3" fill="#c47a50" opacity="0.78"/>
<rect x="527.7" y="159.5" width="4.3" height="5.6" fill="#9c6444" opacity="0.47"/>
<rect x="539.1" y="159.1" width="3.6" height="2.8" fill="#9c6444" opacity="0.59"/>
<rect x="512.5" y="155.5" width="4.6" height="3.3" fill="#d58f5c" opacity="0.58"/>
<rect x="502.0" y="164.1" width="4.5" height="4.7" fill="#c88052" opacity="0.38"/>
<rect x="512.1" y="152.4" width="5.8" height="7.9" fill="#b8784c" opacity="0.46"/>
<rect x="508.6" y="150.4" width="5.7" height="7.7" fill="#a86a46" opacity="0.59"/>
<rect x="480.2" y="154.2" width="2.6" height="2.3" fill="#d58f5c" opacity="0.37"/>
<rect x="493.5" y="162.4" width="3.4" height="3.5" fill="#a86a46" opacity="0.68"/>
<rect x="480.9" y="156.4" width="3.4" height="2.8" fill="#9c6444" opacity="0.75"/>
<rect x="535.2" y="158.9" width="4.4" height="5.7" fill="#9c6444" opacity="0.64"/>
<rect x="488.5" y="161.9" width="5.3" height="7.1" fill="#e2a676" opacity="0.62"/>
<rect x="479.1" y="167.4" width="3.0" height="2.3" fill="#cc8a58" opacity="0.39"/>
<rect x="535.3" y="152.9" width="5.3" height="4.1" fill="#cc8a58" opacity="0.63"/>
<rect x="514.8" y="151.0" width="5.4" height="5.1" fill="#9c6444" opacity="0.64"/>
<rect x="535.9" y="164.3" width="4.2" height="3.0" fill="#9c6444" opacity="0.63"/>
<rect x="542.0" y="155.6" width="3.2" height="2.5" fill="#c88052" opacity="0.73"/>
<rect x="544.6" y="154.1" width="5.2" height="4.8" fill="#a86a46" opacity="0.54"/>
<rect x="498.8" y="147.6" width="3.8" height="4.4" fill="#d58f5c" opacity="0.73"/>
<rect x="484.6" y="153.9" width="5.1" height="5.0" fill="#dc9c6a" opacity="0.62"/>
<rect x="478.6" y="164.3" width="3.6" height="2.8" fill="#cc8a58" opacity="0.61"/>
<rect x="486.0" y="158.3" width="3.7" height="4.6" fill="#b8784c" opacity="0.76"/>
<rect x="528.4" y="163.0" width="5.4" height="5.3" fill="#e2a676" opacity="0.75"/>
<rect x="524.6" y="162.8" width="5.2" height="5.1" fill="#c88052" opacity="0.38"/>
<rect x="498.4" y="155.6" width="2.5" height="2.4" fill="#c47a50" opacity="0.37"/>
<rect x="503.3" y="147.3" width="2.8" height="2.9" fill="#a86a46" opacity="0.64"/>
<rect x="524.7" y="162.2" width="5.9" height="4.2" fill="#c47a50" opacity="0.40"/>
<rect x="477.7" y="186.0" width="4.3" height="5.3" fill="#cc8a58" opacity="0.35"/>
<rect x="478.7" y="174.9" width="3.7" height="4.0" fill="#cc8a58" opacity="0.79"/>
<rect x="490.1" y="211.7" width="2.8" height="3.1" fill="#d58f5c" opacity="0.52"/>
<rect x="486.7" y="196.6" width="4.0" height="4.2" fill="#b8784c" opacity="0.59"/>
<rect x="488.6" y="181.1" width="3.5" height="4.1" fill="#9c6444" opacity="0.77"/>
<rect x="490.9" y="207.5" width="2.6" height="3.2" fill="#c47a50" opacity="0.37"/>
<rect x="481.7" y="216.5" width="5.1" height="3.8" fill="#e2a676" opacity="0.38"/>
<rect x="497.2" y="185.1" width="4.2" height="5.8" fill="#dc9c6a" opacity="0.37"/>
<rect x="491.5" y="159.4" width="4.0" height="3.1" fill="#d58f5c" opacity="0.51"/>
<rect x="476.0" y="181.2" width="3.0" height="3.0" fill="#c47a50" opacity="0.47"/>
<rect x="487.3" y="183.9" width="5.2" height="5.6" fill="#c88052" opacity="0.78"/>
<rect x="492.8" y="172.8" width="2.9" height="3.8" fill="#9c6444" opacity="0.63"/>
<rect x="481.0" y="174.0" width="4.9" height="5.4" fill="#c47a50" opacity="0.44"/>
<rect x="478.2" y="171.4" width="5.8" height="6.1" fill="#dc9c6a" opacity="0.75"/>
<rect x="478.5" y="184.6" width="4.7" height="3.6" fill="#9c6444" opacity="0.48"/>
<rect x="474.7" y="171.0" width="5.9" height="6.2" fill="#e2a676" opacity="0.44"/>
<rect x="480.2" y="205.9" width="5.4" height="4.1" fill="#cf8858" opacity="0.55"/>
<rect x="492.7" y="185.7" width="5.1" height="5.0" fill="#c88052" opacity="0.52"/>
<rect x="479.9" y="192.8" width="5.1" height="6.9" fill="#cc8a58" opacity="0.64"/>
<rect x="488.0" y="187.6" width="3.6" height="3.9" fill="#cc8a58" opacity="0.60"/>
<rect x="485.3" y="202.8" width="3.5" height="4.4" fill="#cf8858" opacity="0.49"/>
<rect x="490.6" y="189.1" width="5.2" height="4.8" fill="#c88052" opacity="0.45"/>
<rect x="489.2" y="177.4" width="5.7" height="5.3" fill="#a86a46" opacity="0.61"/>
<rect x="496.8" y="185.1" width="5.3" height="4.9" fill="#e2a676" opacity="0.45"/>
<rect x="485.3" y="161.0" width="5.4" height="3.9" fill="#cc8a58" opacity="0.61"/>
<rect x="494.2" y="206.3" width="3.8" height="3.7" fill="#c88052" opacity="0.73"/>
<rect x="486.7" y="167.4" width="5.2" height="6.8" fill="#b8784c" opacity="0.72"/>
<rect x="477.9" y="160.4" width="3.1" height="2.8" fill="#d58f5c" opacity="0.64"/>
<rect x="494.1" y="160.1" width="4.4" height="5.5" fill="#cf8858" opacity="0.50"/>
<rect x="479.1" y="163.4" width="3.6" height="2.6" fill="#c88052" opacity="0.39"/>
<rect x="494.2" y="184.2" width="5.0" height="5.2" fill="#9c6444" opacity="0.50"/>
<rect x="483.7" y="179.2" width="5.3" height="5.0" fill="#c88052" opacity="0.57"/>
<rect x="486.1" y="204.5" width="5.0" height="6.7" fill="#cc8a58" opacity="0.69"/>
<rect x="475.3" y="198.7" width="4.9" height="4.5" fill="#cc8a58" opacity="0.54"/>
<rect x="494.1" y="168.8" width="2.7" height="2.8" fill="#c47a50" opacity="0.57"/>
<rect x="494.6" y="177.7" width="3.2" height="3.0" fill="#c47a50" opacity="0.46"/>
<rect x="492.2" y="196.8" width="3.3" height="2.7" fill="#b8784c" opacity="0.53"/>
<rect x="486.9" y="213.9" width="4.2" height="4.1" fill="#e2a676" opacity="0.65"/>
<rect x="492.6" y="161.5" width="5.5" height="5.4" fill="#dc9c6a" opacity="0.78"/>
<rect x="494.1" y="182.0" width="4.3" height="4.6" fill="#b8784c" opacity="0.70"/>
<rect x="497.6" y="186.9" width="3.4" height="3.3" fill="#c88052" opacity="0.54"/>
<rect x="492.5" y="165.0" width="5.7" height="7.2" fill="#c88052" opacity="0.64"/>
<rect x="485.9" y="165.6" width="5.2" height="3.6" fill="#c88052" opacity="0.72"/>
<rect x="491.7" y="162.5" width="4.2" height="4.3" fill="#c47a50" opacity="0.59"/>
<rect x="476.0" y="168.7" width="4.9" height="6.1" fill="#a86a46" opacity="0.44"/>
<rect x="536.2" y="195.4" width="3.1" height="3.9" fill="#b8784c" opacity="0.49"/>
<rect x="530.8" y="196.2" width="6.0" height="7.0" fill="#cf8858" opacity="0.51"/>
<rect x="540.0" y="163.9" width="3.9" height="4.0" fill="#cf8858" opacity="0.64"/>
<rect x="540.4" y="173.3" width="4.5" height="4.6" fill="#d58f5c" opacity="0.74"/>
<rect x="543.7" y="208.4" width="5.7" height="4.6" fill="#cc8a58" opacity="0.77"/>
<rect x="541.2" y="226.0" width="5.1" height="5.6" fill="#cf8858" opacity="0.47"/>
<rect x="536.5" y="209.7" width="3.7" height="4.7" fill="#cf8858" opacity="0.40"/>
<rect x="537.7" y="165.4" width="4.7" height="3.9" fill="#dc9c6a" opacity="0.53"/>
<rect x="544.9" y="200.5" width="2.8" height="2.4" fill="#c88052" opacity="0.79"/>
<rect x="532.7" y="213.2" width="3.7" height="4.7" fill="#9c6444" opacity="0.41"/>
<rect x="525.5" y="166.5" width="4.9" height="5.1" fill="#cc8a58" opacity="0.63"/>
<rect x="541.3" y="201.6" width="3.6" height="4.5" fill="#dc9c6a" opacity="0.65"/>
<rect x="529.2" y="180.9" width="4.8" height="3.7" fill="#cc8a58" opacity="0.44"/>
<rect x="530.2" y="178.3" width="2.9" height="3.4" fill="#b8784c" opacity="0.69"/>
<rect x="546.3" y="196.7" width="3.7" height="3.9" fill="#c88052" opacity="0.61"/>
<rect x="542.4" y="166.0" width="4.2" height="4.1" fill="#e2a676" opacity="0.50"/>
<rect x="546.9" y="182.7" width="4.1" height="3.2" fill="#c88052" opacity="0.46"/>
<rect x="537.1" y="197.1" width="2.7" height="3.6" fill="#c88052" opacity="0.76"/>
<rect x="536.8" y="164.4" width="5.4" height="4.9" fill="#e2a676" opacity="0.46"/>
<rect x="537.1" y="217.9" width="3.1" height="3.4" fill="#cf8858" opacity="0.55"/>
<rect x="530.8" y="213.0" width="5.8" height="8.1" fill="#c88052" opacity="0.49"/>
<rect x="539.5" y="210.7" width="3.8" height="4.3" fill="#d58f5c" opacity="0.42"/>
<rect x="531.8" y="158.3" width="4.3" height="3.4" fill="#cc8a58" opacity="0.43"/>
<rect x="534.8" y="175.3" width="4.5" height="4.2" fill="#d58f5c" opacity="0.67"/>
<rect x="542.7" y="185.7" width="4.2" height="3.3" fill="#e2a676" opacity="0.54"/>
<rect x="537.5" y="206.4" width="5.2" height="6.3" fill="#a86a46" opacity="0.75"/>
<rect x="540.6" y="217.6" width="2.9" height="2.3" fill="#9c6444" opacity="0.50"/>
<rect x="535.8" y="187.8" width="2.6" height="3.5" fill="#b8784c" opacity="0.68"/>
<rect x="545.8" y="209.9" width="4.6" height="5.6" fill="#b8784c" opacity="0.75"/>
<rect x="544.7" y="173.4" width="5.5" height="4.7" fill="#cc8a58" opacity="0.79"/>
<rect x="533.0" y="163.0" width="5.7" height="6.1" fill="#cc8a58" opacity="0.77"/>
<rect x="541.3" y="220.6" width="3.8" height="4.1" fill="#c47a50" opacity="0.71"/>
<rect x="537.0" y="223.4" width="2.8" height="3.6" fill="#cf8858" opacity="0.75"/>
<rect x="536.9" y="189.8" width="3.5" height="4.3" fill="#d58f5c" opacity="0.50"/>
<rect x="543.8" y="185.5" width="3.7" height="4.2" fill="#d58f5c" opacity="0.49"/>
<rect x="533.4" y="179.4" width="3.6" height="2.9" fill="#a86a46" opacity="0.75"/>
<rect x="540.3" y="160.6" width="3.6" height="4.7" fill="#a86a46" opacity="0.36"/>
<rect x="538.2" y="207.4" width="4.5" height="4.8" fill="#dc9c6a" opacity="0.44"/>
<rect x="546.1" y="160.3" width="2.9" height="3.5" fill="#e2a676" opacity="0.78"/>
<rect x="527.2" y="186.3" width="5.6" height="5.2" fill="#a86a46" opacity="0.54"/>
<rect x="527.7" y="209.2" width="4.3" height="3.9" fill="#b8784c" opacity="0.52"/>
<rect x="538.9" y="221.2" width="4.6" height="3.9" fill="#b8784c" opacity="0.75"/>
<rect x="525.8" y="173.2" width="3.0" height="3.5" fill="#a86a46" opacity="0.79"/>
<rect x="532.6" y="194.9" width="4.4" height="3.2" fill="#c47a50" opacity="0.61"/>
<rect x="535.3" y="187.1" width="4.5" height="3.7" fill="#dc9c6a" opacity="0.46"/>
<rect x="512.8" y="223.3" width="3.8" height="4.4" fill="#d58f5c" opacity="0.58"/>
<rect x="515.6" y="217.8" width="5.8" height="4.8" fill="#c88052" opacity="0.40"/>
<rect x="517.8" y="226.3" width="3.4" height="3.7" fill="#c47a50" opacity="0.62"/>
<rect x="502.9" y="206.3" width="5.9" height="4.3" fill="#a86a46" opacity="0.74"/>
<rect x="502.1" y="206.2" width="2.6" height="2.7" fill="#cc8a58" opacity="0.58"/>
<rect x="518.4" y="231.5" width="2.6" height="2.0" fill="#c88052" opacity="0.61"/>
<rect x="503.3" y="205.5" width="3.6" height="2.6" fill="#e2a676" opacity="0.72"/>
<rect x="517.6" y="227.5" width="5.2" height="5.4" fill="#9c6444" opacity="0.43"/>
<rect x="503.2" y="205.3" width="4.9" height="6.3" fill="#a86a46" opacity="0.38"/>
<rect x="508.7" y="213.5" width="3.3" height="4.5" fill="#d58f5c" opacity="0.41"/>
<rect x="628.1" y="214.2" width="3.0" height="3.6" fill="#9c6444" opacity="0.69"/>
<rect x="552.3" y="165.7" width="5.6" height="4.5" fill="#cc8a58" opacity="0.60"/>
<rect x="597.1" y="256.6" width="5.9" height="6.9" fill="#c47a50" opacity="0.45"/>
<rect x="575.7" y="207.6" width="3.3" height="3.4" fill="#dc9c6a" opacity="0.51"/>
<rect x="583.7" y="263.2" width="4.6" height="3.4" fill="#cc8a58" opacity="0.61"/>
<rect x="607.2" y="253.7" width="5.6" height="7.5" fill="#c88052" opacity="0.56"/>
<rect x="589.9" y="245.5" width="3.8" height="4.8" fill="#dc9c6a" opacity="0.54"/>
<rect x="574.0" y="238.3" width="5.3" height="5.5" fill="#cc8a58" opacity="0.45"/>
<rect x="597.6" y="175.4" width="4.1" height="5.7" fill="#c88052" opacity="0.74"/>
<rect x="570.9" y="185.8" width="2.8" height="3.3" fill="#e2a676" opacity="0.78"/>
<rect x="613.0" y="202.4" width="5.1" height="5.4" fill="#c47a50" opacity="0.77"/>
<rect x="623.5" y="170.3" width="3.8" height="3.0" fill="#e2a676" opacity="0.41"/>
<rect x="574.6" y="245.5" width="2.9" height="4.1" fill="#cc8a58" opacity="0.55"/>
<rect x="638.2" y="185.3" width="3.4" height="4.5" fill="#d58f5c" opacity="0.49"/>
<rect x="612.6" y="199.4" width="3.2" height="3.3" fill="#c88052" opacity="0.36"/>
<rect x="581.3" y="190.3" width="4.4" height="3.5" fill="#9c6444" opacity="0.47"/>
<rect x="624.9" y="222.8" width="3.0" height="2.5" fill="#b8784c" opacity="0.59"/>
<rect x="595.6" y="152.8" width="4.3" height="4.1" fill="#cf8858" opacity="0.48"/>
<rect x="585.6" y="163.9" width="2.6" height="1.9" fill="#a86a46" opacity="0.60"/>
<rect x="579.1" y="222.0" width="5.7" height="4.9" fill="#e2a676" opacity="0.65"/>
<rect x="574.0" y="218.5" width="2.8" height="2.8" fill="#cc8a58" opacity="0.57"/>
<rect x="600.2" y="257.2" width="3.5" height="4.2" fill="#dc9c6a" opacity="0.42"/>
<rect x="591.3" y="197.7" width="3.1" height="3.6" fill="#dc9c6a" opacity="0.58"/>
<rect x="625.6" y="253.2" width="5.3" height="5.5" fill="#b8784c" opacity="0.67"/>
<rect x="607.2" y="227.4" width="2.6" height="2.5" fill="#e2a676" opacity="0.76"/>
<rect x="644.0" y="170.7" width="3.8" height="4.9" fill="#b8784c" opacity="0.56"/>
<rect x="583.6" y="168.9" width="2.6" height="2.4" fill="#e2a676" opacity="0.60"/>
<rect x="576.7" y="222.9" width="3.2" height="3.2" fill="#c47a50" opacity="0.50"/>
<rect x="623.2" y="164.0" width="2.8" height="2.0" fill="#9c6444" opacity="0.53"/>
<rect x="591.5" y="170.5" width="5.4" height="7.1" fill="#cc8a58" opacity="0.78"/>
<rect x="588.6" y="239.9" width="4.9" height="4.4" fill="#a86a46" opacity="0.51"/>
<rect x="568.6" y="164.5" width="4.9" height="4.2" fill="#d58f5c" opacity="0.77"/>
<rect x="605.3" y="245.6" width="5.2" height="3.9" fill="#9c6444" opacity="0.75"/>
<rect x="621.2" y="239.6" width="3.4" height="2.6" fill="#d58f5c" opacity="0.49"/>
<rect x="623.0" y="225.6" width="4.9" height="6.7" fill="#c88052" opacity="0.42"/>
<rect x="613.4" y="199.0" width="4.5" height="4.3" fill="#b8784c" opacity="0.52"/>
<rect x="618.1" y="199.9" width="4.8" height="4.5" fill="#c88052" opacity="0.76"/>
<rect x="624.7" y="249.0" width="6.0" height="7.6" fill="#b8784c" opacity="0.40"/>
<rect x="595.9" y="236.1" width="4.2" height="3.4" fill="#cc8a58" opacity="0.74"/>
<rect x="554.4" y="168.1" width="4.3" height="5.4" fill="#cc8a58" opacity="0.46"/>
<rect x="614.6" y="182.7" width="4.9" height="4.1" fill="#dc9c6a" opacity="0.73"/>
<rect x="635.2" y="209.4" width="4.0" height="4.7" fill="#c47a50" opacity="0.68"/>
<rect x="577.4" y="156.5" width="3.2" height="3.6" fill="#b8784c" opacity="0.45"/>
<rect x="608.9" y="257.3" width="5.9" height="4.7" fill="#b8784c" opacity="0.54"/>
<rect x="613.8" y="186.1" width="5.8" height="8.0" fill="#d58f5c" opacity="0.42"/>
<rect x="569.0" y="181.5" width="4.4" height="5.5" fill="#cc8a58" opacity="0.50"/>
<rect x="599.4" y="184.1" width="3.6" height="4.5" fill="#b8784c" opacity="0.45"/>
<rect x="624.6" y="189.0" width="3.0" height="3.3" fill="#dc9c6a" opacity="0.60"/>
<rect x="632.7" y="154.7" width="3.1" height="2.4" fill="#b8784c" opacity="0.75"/>
<rect x="593.2" y="154.1" width="5.6" height="5.0" fill="#c47a50" opacity="0.41"/>
<rect x="614.4" y="171.2" width="3.3" height="3.4" fill="#e2a676" opacity="0.60"/>
<rect x="607.9" y="155.6" width="2.5" height="3.1" fill="#cf8858" opacity="0.35"/>
<rect x="583.3" y="152.7" width="5.3" height="7.3" fill="#cc8a58" opacity="0.57"/>
<rect x="592.2" y="240.8" width="3.9" height="2.9" fill="#9c6444" opacity="0.63"/>
<rect x="635.4" y="168.5" width="3.2" height="2.9" fill="#dc9c6a" opacity="0.80"/>
<rect x="594.6" y="243.7" width="5.0" height="4.1" fill="#d58f5c" opacity="0.78"/>
<rect x="605.3" y="223.7" width="3.4" height="2.5" fill="#9c6444" opacity="0.49"/>
<rect x="632.7" y="238.3" width="5.1" height="5.0" fill="#9c6444" opacity="0.72"/>
<rect x="591.1" y="227.7" width="3.4" height="4.5" fill="#d58f5c" opacity="0.35"/>
<rect x="563.1" y="176.9" width="5.0" height="5.3" fill="#b8784c" opacity="0.71"/>
<rect x="587.1" y="218.7" width="3.7" height="3.3" fill="#e2a676" opacity="0.62"/>
<rect x="577.0" y="163.4" width="3.1" height="2.3" fill="#c88052" opacity="0.60"/>
<rect x="620.3" y="158.8" width="2.9" height="2.3" fill="#e2a676" opacity="0.43"/>
<rect x="566.9" y="143.4" width="4.6" height="5.0" fill="#e2a676" opacity="0.54"/>
<rect x="591.9" y="227.9" width="3.1" height="2.8" fill="#cc8a58" opacity="0.78"/>
<rect x="582.6" y="159.2" width="3.8" height="5.2" fill="#c88052" opacity="0.68"/>
<rect x="618.6" y="255.0" width="2.7" height="3.0" fill="#e2a676" opacity="0.75"/>
<rect x="637.9" y="217.2" width="4.3" height="4.7" fill="#cf8858" opacity="0.40"/>
<rect x="625.8" y="232.5" width="4.0" height="4.1" fill="#cc8a58" opacity="0.58"/>
<rect x="588.7" y="206.6" width="2.6" height="3.6" fill="#9c6444" opacity="0.63"/>
<rect x="595.2" y="212.4" width="4.6" height="6.2" fill="#c88052" opacity="0.59"/>
<rect x="582.8" y="168.2" width="4.7" height="3.9" fill="#a86a46" opacity="0.80"/>
<rect x="591.3" y="249.2" width="2.9" height="4.1" fill="#a86a46" opacity="0.40"/>
<rect x="631.7" y="154.2" width="2.9" height="2.2" fill="#b8784c" opacity="0.80"/>
<rect x="622.3" y="167.2" width="5.3" height="5.4" fill="#9c6444" opacity="0.36"/>
<rect x="592.5" y="198.1" width="5.9" height="5.1" fill="#cf8858" opacity="0.60"/>
<rect x="631.2" y="199.6" width="3.3" height="4.2" fill="#d58f5c" opacity="0.70"/>
<rect x="605.5" y="253.0" width="5.3" height="4.3" fill="#e2a676" opacity="0.43"/>
<rect x="582.8" y="255.8" width="5.8" height="5.0" fill="#b8784c" opacity="0.40"/>
<rect x="567.2" y="185.2" width="5.5" height="6.2" fill="#a86a46" opacity="0.38"/>
<rect x="613.9" y="249.3" width="5.0" height="4.2" fill="#cc8a58" opacity="0.52"/>
<rect x="633.2" y="226.0" width="5.5" height="7.4" fill="#c47a50" opacity="0.44"/>
<rect x="571.2" y="235.8" width="3.1" height="3.4" fill="#d58f5c" opacity="0.41"/>
<rect x="612.8" y="182.2" width="3.2" height="4.4" fill="#dc9c6a" opacity="0.68"/>
<rect x="586.5" y="175.7" width="3.9" height="3.2" fill="#b8784c" opacity="0.54"/>
<rect x="634.2" y="188.5" width="4.1" height="4.3" fill="#cf8858" opacity="0.51"/>
<rect x="621.9" y="165.5" width="4.5" height="4.1" fill="#b8784c" opacity="0.78"/>
<rect x="572.9" y="198.0" width="3.2" height="3.2" fill="#dc9c6a" opacity="0.55"/>
<rect x="555.9" y="190.2" width="3.5" height="3.5" fill="#b8784c" opacity="0.48"/>
<rect x="621.6" y="223.4" width="3.4" height="3.3" fill="#c88052" opacity="0.62"/>
<rect x="639.4" y="186.1" width="3.5" height="2.7" fill="#c47a50" opacity="0.40"/>
<rect x="617.8" y="194.7" width="3.2" height="4.1" fill="#d58f5c" opacity="0.52"/>
<rect x="624.3" y="222.8" width="3.7" height="4.9" fill="#d58f5c" opacity="0.65"/>
<rect x="565.6" y="145.0" width="3.1" height="3.3" fill="#a86a46" opacity="0.65"/>
<rect x="611.0" y="261.2" width="5.9" height="8.3" fill="#cc8a58" opacity="0.55"/>
<rect x="573.5" y="206.5" width="2.9" height="2.1" fill="#a86a46" opacity="0.65"/>
<rect x="602.7" y="211.4" width="4.2" height="5.4" fill="#9c6444" opacity="0.53"/>
<rect x="626.6" y="146.4" width="3.1" height="3.6" fill="#c47a50" opacity="0.70"/>
<rect x="642.3" y="221.0" width="5.9" height="6.1" fill="#cf8858" opacity="0.54"/>
<rect x="565.3" y="183.7" width="3.8" height="4.9" fill="#d58f5c" opacity="0.40"/>
<rect x="591.0" y="207.5" width="5.9" height="7.3" fill="#cf8858" opacity="0.49"/>
<rect x="601.5" y="151.1" width="4.5" height="3.5" fill="#cf8858" opacity="0.58"/>
<rect x="581.4" y="181.5" width="3.4" height="3.7" fill="#a86a46" opacity="0.37"/>
<rect x="571.4" y="193.9" width="4.5" height="4.5" fill="#cf8858" opacity="0.71"/>
<rect x="601.2" y="153.6" width="4.5" height="3.7" fill="#c47a50" opacity="0.63"/>
<rect x="625.9" y="228.8" width="3.0" height="3.3" fill="#d58f5c" opacity="0.53"/>
<rect x="600.1" y="254.3" width="4.4" height="5.4" fill="#d58f5c" opacity="0.53"/>
<rect x="580.0" y="162.9" width="4.4" height="5.1" fill="#cc8a58" opacity="0.50"/>
<rect x="599.1" y="219.9" width="5.6" height="7.6" fill="#c47a50" opacity="0.79"/>
<rect x="613.8" y="169.7" width="4.6" height="3.9" fill="#cf8858" opacity="0.54"/>
<rect x="598.6" y="182.0" width="4.0" height="4.1" fill="#d58f5c" opacity="0.49"/>
<rect x="604.3" y="156.5" width="3.8" height="3.6" fill="#dc9c6a" opacity="0.65"/>
<rect x="586.2" y="259.4" width="4.3" height="4.6" fill="#d58f5c" opacity="0.52"/>
<rect x="620.8" y="182.1" width="3.4" height="4.6" fill="#e2a676" opacity="0.73"/>
<rect x="571.5" y="235.6" width="2.7" height="2.2" fill="#cf8858" opacity="0.58"/>
<rect x="558.9" y="168.3" width="3.4" height="4.3" fill="#cc8a58" opacity="0.64"/>
<rect x="587.6" y="146.5" width="4.5" height="3.5" fill="#cc8a58" opacity="0.79"/>
<rect x="635.7" y="178.2" width="3.6" height="4.6" fill="#b8784c" opacity="0.64"/>
<rect x="606.0" y="256.1" width="4.7" height="3.4" fill="#dc9c6a" opacity="0.61"/>
<rect x="591.5" y="223.1" width="5.9" height="8.0" fill="#cf8858" opacity="0.43"/>
<rect x="619.4" y="239.9" width="4.1" height="5.4" fill="#cf8858" opacity="0.73"/>
<rect x="635.0" y="227.8" width="5.0" height="4.9" fill="#9c6444" opacity="0.40"/>
<rect x="639.4" y="147.9" width="3.6" height="2.9" fill="#cf8858" opacity="0.42"/>
<rect x="576.7" y="187.6" width="5.6" height="7.6" fill="#dc9c6a" opacity="0.65"/>
<rect x="645.1" y="199.2" width="4.9" height="4.8" fill="#a86a46" opacity="0.40"/>
<rect x="625.9" y="156.5" width="4.6" height="3.8" fill="#e2a676" opacity="0.72"/>
<rect x="616.1" y="183.7" width="5.3" height="6.3" fill="#a86a46" opacity="0.61"/>
<rect x="636.3" y="181.7" width="4.5" height="4.7" fill="#cc8a58" opacity="0.50"/>
<rect x="621.8" y="165.9" width="3.4" height="4.1" fill="#c47a50" opacity="0.37"/>
<rect x="575.9" y="167.2" width="3.2" height="4.3" fill="#cf8858" opacity="0.60"/>
<rect x="596.7" y="199.1" width="3.3" height="4.1" fill="#cf8858" opacity="0.66"/>
<rect x="600.1" y="153.7" width="6.0" height="5.7" fill="#c88052" opacity="0.60"/>
<rect x="582.7" y="153.9" width="5.8" height="7.2" fill="#b8784c" opacity="0.39"/>
<rect x="630.9" y="164.0" width="3.2" height="3.4" fill="#c47a50" opacity="0.50"/>
<rect x="566.4" y="160.4" width="3.1" height="4.3" fill="#e2a676" opacity="0.66"/>
<rect x="586.4" y="259.1" width="5.0" height="4.5" fill="#b8784c" opacity="0.40"/>
<rect x="585.4" y="156.8" width="5.6" height="6.6" fill="#b8784c" opacity="0.46"/>
<rect x="563.0" y="198.8" width="3.5" height="3.1" fill="#b8784c" opacity="0.77"/>
<rect x="564.1" y="185.4" width="5.4" height="5.8" fill="#c88052" opacity="0.62"/>
<rect x="605.4" y="231.0" width="4.4" height="5.1" fill="#c47a50" opacity="0.70"/>
<rect x="575.1" y="141.2" width="5.8" height="5.5" fill="#9c6444" opacity="0.46"/>
<rect x="595.6" y="183.0" width="5.1" height="6.9" fill="#9c6444" opacity="0.47"/>
<rect x="625.2" y="251.6" width="2.8" height="3.0" fill="#c47a50" opacity="0.77"/>
<rect x="616.5" y="143.6" width="5.7" height="4.4" fill="#c47a50" opacity="0.78"/>
<rect x="569.4" y="183.3" width="3.7" height="3.0" fill="#cf8858" opacity="0.41"/>
<rect x="591.2" y="152.9" width="5.7" height="7.8" fill="#9c6444" opacity="0.59"/>
<rect x="595.0" y="224.6" width="2.8" height="3.3" fill="#c47a50" opacity="0.57"/>
<rect x="569.6" y="227.4" width="4.0" height="4.1" fill="#cf8858" opacity="0.66"/>
<rect x="641.6" y="145.8" width="5.6" height="5.0" fill="#dc9c6a" opacity="0.67"/>
<rect x="610.1" y="224.5" width="4.6" height="5.2" fill="#c88052" opacity="0.39"/>
<rect x="603.7" y="261.4" width="2.6" height="2.0" fill="#b8784c" opacity="0.78"/>
<rect x="635.1" y="225.0" width="4.3" height="4.8" fill="#cf8858" opacity="0.35"/>
<rect x="591.5" y="179.1" width="3.7" height="2.6" fill="#dc9c6a" opacity="0.47"/>
<rect x="610.1" y="204.1" width="3.7" height="4.3" fill="#a86a46" opacity="0.64"/>
<rect x="569.8" y="162.7" width="4.1" height="3.5" fill="#e2a676" opacity="0.43"/>
<rect x="619.2" y="214.6" width="4.6" height="5.1" fill="#c47a50" opacity="0.74"/>
<rect x="568.4" y="165.6" width="3.6" height="3.3" fill="#dc9c6a" opacity="0.65"/>
<rect x="631.8" y="206.4" width="2.8" height="3.4" fill="#dc9c6a" opacity="0.55"/>
<rect x="564.0" y="223.4" width="2.7" height="2.1" fill="#cc8a58" opacity="0.80"/>
<rect x="592.9" y="223.2" width="3.3" height="4.6" fill="#dc9c6a" opacity="0.52"/>
<rect x="578.3" y="212.2" width="5.1" height="5.3" fill="#d58f5c" opacity="0.37"/>
<rect x="593.8" y="156.4" width="2.7" height="2.2" fill="#a86a46" opacity="0.78"/>
<rect x="645.3" y="153.1" width="5.0" height="6.8" fill="#dc9c6a" opacity="0.46"/>
<rect x="621.2" y="165.3" width="5.5" height="7.2" fill="#a86a46" opacity="0.52"/>
<rect x="625.1" y="256.5" width="3.0" height="3.9" fill="#c88052" opacity="0.68"/>
<rect x="619.5" y="151.3" width="3.6" height="4.0" fill="#b8784c" opacity="0.59"/>
<rect x="604.6" y="208.8" width="5.2" height="5.5" fill="#cf8858" opacity="0.39"/>
<rect x="572.4" y="145.3" width="3.6" height="4.4" fill="#9c6444" opacity="0.43"/>
<rect x="649.9" y="219.2" width="2.9" height="3.0" fill="#c47a50" opacity="0.56"/>
<rect x="611.7" y="245.8" width="4.1" height="3.4" fill="#a86a46" opacity="0.79"/>
<rect x="591.1" y="142.3" width="3.1" height="2.5" fill="#dc9c6a" opacity="0.78"/>
<rect x="649.6" y="215.8" width="2.7" height="2.0" fill="#e2a676" opacity="0.36"/>
<rect x="580.9" y="140.7" width="3.4" height="3.9" fill="#e2a676" opacity="0.66"/>
<rect x="575.5" y="232.8" width="3.1" height="2.5" fill="#c47a50" opacity="0.61"/>
<rect x="592.3" y="205.7" width="4.1" height="3.8" fill="#a86a46" opacity="0.46"/>
<rect x="640.6" y="156.2" width="4.3" height="5.9" fill="#b8784c" opacity="0.69"/>
<rect x="606.2" y="187.4" width="5.0" height="4.6" fill="#cf8858" opacity="0.64"/>
<rect x="631.8" y="219.8" width="4.9" height="5.7" fill="#cc8a58" opacity="0.47"/>
<rect x="608.7" y="217.7" width="4.1" height="3.1" fill="#a86a46" opacity="0.64"/>
<rect x="556.1" y="154.4" width="2.6" height="2.8" fill="#d58f5c" opacity="0.39"/>
<rect x="631.5" y="165.0" width="5.4" height="6.8" fill="#b8784c" opacity="0.44"/>
<rect x="615.0" y="148.5" width="3.7" height="2.8" fill="#cf8858" opacity="0.57"/>
<rect x="598.4" y="172.3" width="5.4" height="5.7" fill="#e2a676" opacity="0.77"/>
<rect x="616.2" y="225.3" width="4.1" height="3.7" fill="#c88052" opacity="0.66"/>
<rect x="631.3" y="227.6" width="5.3" height="6.7" fill="#c88052" opacity="0.40"/>
<rect x="599.1" y="229.3" width="2.7" height="3.4" fill="#9c6444" opacity="0.65"/>
<rect x="597.5" y="218.9" width="4.9" height="4.8" fill="#cf8858" opacity="0.79"/>
<rect x="565.9" y="169.3" width="3.5" height="3.4" fill="#b8784c" opacity="0.43"/>
<rect x="620.2" y="233.3" width="5.9" height="6.8" fill="#c88052" opacity="0.69"/>
<rect x="618.6" y="192.2" width="3.9" height="3.8" fill="#d58f5c" opacity="0.61"/>
<rect x="647.0" y="218.6" width="4.2" height="4.1" fill="#e2a676" opacity="0.37"/>
<rect x="639.9" y="199.5" width="5.9" height="5.1" fill="#c47a50" opacity="0.70"/>
<rect x="621.4" y="202.8" width="3.6" height="3.2" fill="#c88052" opacity="0.36"/>
<rect x="577.3" y="236.7" width="2.9" height="2.7" fill="#d58f5c" opacity="0.76"/>
<rect x="578.9" y="259.4" width="4.7" height="6.4" fill="#d58f5c" opacity="0.50"/>
<rect x="577.9" y="203.4" width="4.2" height="3.0" fill="#9c6444" opacity="0.37"/>
<rect x="627.9" y="204.2" width="3.5" height="4.7" fill="#e2a676" opacity="0.46"/>
<rect x="583.7" y="144.8" width="2.7" height="2.5" fill="#9c6444" opacity="0.74"/>
<rect x="638.5" y="205.0" width="3.3" height="4.4" fill="#a86a46" opacity="0.76"/>
<rect x="557.1" y="191.2" width="4.2" height="4.1" fill="#9c6444" opacity="0.71"/>
<rect x="644.3" y="199.6" width="5.8" height="6.5" fill="#cc8a58" opacity="0.80"/>
<rect x="603.3" y="159.2" width="5.2" height="3.8" fill="#c88052" opacity="0.43"/>
<rect x="610.1" y="257.8" width="3.4" height="4.3" fill="#d58f5c" opacity="0.67"/>
<rect x="597.1" y="192.2" width="2.9" height="3.0" fill="#b8784c" opacity="0.75"/>
<rect x="577.0" y="226.0" width="4.0" height="3.2" fill="#cc8a58" opacity="0.57"/>
<rect x="629.9" y="166.4" width="5.4" height="4.6" fill="#c47a50" opacity="0.53"/>
<rect x="558.4" y="209.2" width="3.4" height="3.7" fill="#cc8a58" opacity="0.36"/>
<rect x="556.5" y="186.2" width="4.1" height="3.2" fill="#dc9c6a" opacity="0.73"/>
<rect x="599.8" y="212.2" width="3.6" height="5.0" fill="#cf8858" opacity="0.50"/>
<rect x="623.4" y="210.0" width="5.1" height="6.7" fill="#dc9c6a" opacity="0.47"/>
<rect x="631.3" y="227.7" width="4.1" height="3.9" fill="#cc8a58" opacity="0.44"/>
<rect x="595.0" y="163.4" width="2.6" height="3.4" fill="#c47a50" opacity="0.70"/>
<rect x="595.5" y="196.2" width="5.6" height="5.7" fill="#cc8a58" opacity="0.66"/>
<rect x="600.6" y="239.0" width="5.8" height="7.6" fill="#cf8858" opacity="0.68"/>
<rect x="578.9" y="228.9" width="5.8" height="6.8" fill="#a86a46" opacity="0.55"/>
<rect x="616.4" y="164.0" width="5.2" height="5.6" fill="#e2a676" opacity="0.60"/>
<rect x="589.8" y="245.2" width="3.7" height="3.7" fill="#cf8858" opacity="0.63"/>
<rect x="571.0" y="186.2" width="6.0" height="5.0" fill="#cc8a58" opacity="0.38"/>
<rect x="608.9" y="241.9" width="5.4" height="5.3" fill="#c47a50" opacity="0.79"/>
<rect x="623.2" y="179.6" width="3.8" height="3.9" fill="#b8784c" opacity="0.67"/>
<rect x="606.4" y="205.3" width="6.0" height="4.7" fill="#c47a50" opacity="0.50"/>
<rect x="577.4" y="209.1" width="4.3" height="4.6" fill="#c88052" opacity="0.77"/>
<rect x="631.4" y="199.7" width="4.2" height="5.6" fill="#cc8a58" opacity="0.65"/>
<rect x="597.1" y="208.0" width="4.0" height="2.9" fill="#b8784c" opacity="0.51"/>
<rect x="628.2" y="145.1" width="3.6" height="4.2" fill="#e2a676" opacity="0.72"/>
<rect x="588.7" y="171.0" width="3.8" height="4.0" fill="#d58f5c" opacity="0.59"/>
<rect x="589.7" y="187.4" width="5.3" height="6.0" fill="#c47a50" opacity="0.46"/>
<rect x="568.1" y="151.0" width="2.8" height="3.5" fill="#dc9c6a" opacity="0.47"/>
<rect x="600.6" y="226.8" width="2.6" height="3.3" fill="#e2a676" opacity="0.45"/>
<rect x="622.3" y="226.8" width="3.7" height="4.8" fill="#dc9c6a" opacity="0.73"/>
<rect x="578.4" y="201.3" width="3.8" height="4.1" fill="#c47a50" opacity="0.63"/>
<rect x="584.5" y="192.6" width="4.0" height="5.1" fill="#c47a50" opacity="0.65"/>
<rect x="566.3" y="181.0" width="5.0" height="4.2" fill="#e2a676" opacity="0.74"/>
<rect x="572.9" y="183.1" width="3.3" height="4.0" fill="#d58f5c" opacity="0.73"/>
<rect x="626.1" y="235.0" width="4.9" height="6.6" fill="#d58f5c" opacity="0.39"/>
<rect x="552.6" y="180.3" width="5.9" height="6.7" fill="#cc8a58" opacity="0.38"/>
<rect x="621.8" y="158.4" width="3.5" height="4.0" fill="#e2a676" opacity="0.37"/>
<rect x="630.8" y="164.7" width="2.6" height="2.2" fill="#d58f5c" opacity="0.46"/>
<rect x="580.1" y="169.9" width="2.6" height="2.3" fill="#c47a50" opacity="0.43"/>
<rect x="567.6" y="156.9" width="2.8" height="3.3" fill="#dc9c6a" opacity="0.49"/>
<rect x="640.9" y="233.4" width="4.7" height="5.4" fill="#9c6444" opacity="0.46"/>
<rect x="634.2" y="182.7" width="3.4" height="3.5" fill="#c47a50" opacity="0.59"/>
<rect x="631.4" y="252.3" width="3.3" height="2.3" fill="#b8784c" opacity="0.53"/>
<rect x="596.6" y="203.5" width="3.8" height="5.1" fill="#9c6444" opacity="0.66"/>
<rect x="620.9" y="232.5" width="4.1" height="4.0" fill="#9c6444" opacity="0.45"/>
<rect x="608.6" y="220.0" width="5.6" height="4.6" fill="#cf8858" opacity="0.46"/>
<rect x="601.8" y="174.8" width="5.5" height="5.9" fill="#cf8858" opacity="0.59"/>
<rect x="631.5" y="228.1" width="5.1" height="5.2" fill="#cc8a58" opacity="0.62"/>
<rect x="622.2" y="143.4" width="5.1" height="4.4" fill="#a86a46" opacity="0.45"/>
<rect x="595.6" y="206.4" width="3.7" height="4.1" fill="#c47a50" opacity="0.36"/>
<rect x="572.3" y="221.4" width="3.3" height="2.4" fill="#b8784c" opacity="0.50"/>
<rect x="649.2" y="208.8" width="2.9" height="3.3" fill="#b8784c" opacity="0.43"/>
<rect x="632.3" y="164.8" width="3.1" height="2.9" fill="#c88052" opacity="0.71"/>
<rect x="614.2" y="231.2" width="5.6" height="6.5" fill="#e2a676" opacity="0.71"/>
<rect x="642.9" y="232.4" width="3.6" height="2.8" fill="#d58f5c" opacity="0.77"/>
<rect x="589.1" y="243.2" width="3.4" height="4.1" fill="#c88052" opacity="0.54"/>
<rect x="610.9" y="170.8" width="3.2" height="2.4" fill="#b8784c" opacity="0.43"/>
<rect x="572.9" y="172.3" width="5.5" height="6.5" fill="#cc8a58" opacity="0.77"/>
<rect x="592.2" y="212.6" width="2.9" height="2.6" fill="#cf8858" opacity="0.36"/>
<rect x="583.0" y="154.1" width="4.6" height="6.1" fill="#c88052" opacity="0.44"/>
</g>
<g filter="url(#blur3)" opacity="0.75"><rect x="566" y="160" width="9" height="85" fill="#f4c294"/><rect x="620" y="165" width="9" height="80" fill="#f2be8c"/><rect x="488" y="168" width="6" height="40" fill="#eeb484" opacity="0.6"/></g>
<rect x="580.9" y="224" width="15.6" height="44" fill="url(#patC)" opacity="0.9"/>
<rect x="599.6" y="166" width="15.8" height="102" fill="url(#patA3)" opacity="0.75"/>
<g stroke="#b07850" stroke-width="1" opacity="0.75" fill="none"><line x1="579.6" y1="166" x2="579.6" y2="268"/><line x1="597.6" y1="166" x2="597.6" y2="268"/><line x1="615.8" y1="166" x2="615.8" y2="268"/></g>
<polyline points="152.2,263.4 152.2,297.4 134.3,297.4" fill="none" stroke="#565c64" stroke-width="1.3"/><circle cx="152.2" cy="263.4" r="1.8" fill="#4a5058"/>
<polyline points="163.7,263.4 163.7,311.9 143.1,311.9" fill="none" stroke="#565c64" stroke-width="1.3"/><circle cx="163.7" cy="263.4" r="1.8" fill="#4a5058"/>
<polyline points="176,264.1 176,297.4 195.6,297.4" fill="none" stroke="#565c64" stroke-width="1.3"/><circle cx="176" cy="264.1" r="1.8" fill="#4a5058"/>
<polyline points="287.2,220.2 287.2,300.4 305.6,300.4" fill="none" stroke="#565c64" stroke-width="1.3"/><circle cx="287.2" cy="220.2" r="1.8" fill="#4a5058"/>
<polyline points="577.6,218.2 577.6,297.5 595.7,297.5" fill="none" stroke="#565c64" stroke-width="1.3"/><circle cx="577.6" cy="218.2" r="1.8" fill="#4a5058"/>
<text x="129.9" y="299.7" text-anchor="end" class="t">Cathode</text>
<text x="137.9" y="313.7" text-anchor="end" class="t">Separator and liquid electrolyte</text>
<text x="199.2" y="299.7" text-anchor="start" class="t">Anode</text>
<text x="311" y="304.1" class="t" style="font-size:9.82px">Battery temperature increases</text>
<text x="601.8" y="301.9" text-anchor="start" class="t">Fires, explosions</text>
<text x="133.7" y="342.0" text-anchor="middle" class="st">Stage 1: The onset of overheating</text>
<text x="337.5" y="336.1" text-anchor="middle" class="st">Stage 2: Heat accumulation and</text>
<text x="337.8" y="347.8" text-anchor="middle" class="st">gas release process</text>
<text x="564.4" y="342.2" text-anchor="middle" class="st">Stage 3: Combustion and explosion</text>
<line x1="2" y1="367.9" x2="685" y2="367.9" stroke="#1f7a4c" stroke-width="1.5" stroke-dasharray="3.3,3.4"/>
<g clip-path="url(#plotclip)">
<polyline points="84.5,457.8 110.0,455.0 150.0,450.5 185.0,446.5 192.0,446.1 203.0,443.2 218.0,441.0 233.5,437.3 247.0,434.4 260.0,432.5 267.7,431.5 275.4,433.4 285.0,434.8 294.6,437.3 302.3,440.2 310.0,437.8 317.7,435.3 327.3,431.5 335.0,427.7 340.8,420.0 346.5,412.3 352.3,406.5 355.8,404.6 361.5,402.0 369.2,401.3 378.8,402.7 388.5,405.2 398.0,408.4 407.7,412.3 417.3,415.5 427.0,419.0 436.5,421.9 446.2,424.8 455.4,426.3 470.8,429.6 485.2,433.4 540.0,444.0 594.3,455.0 610.5,455.0" fill="none" stroke="#484848" stroke-width="0.7"/>
<line x1="203.2" y1="394" x2="203.2" y2="663" stroke="#b8405a" stroke-width="1.3" stroke-dasharray="2.7,2.5"/>
<polyline points="87.4,596.9 94.2,596.9 101.0,596.9 107.8,596.9 114.5,596.9 121.3,596.9 128.1,596.9 134.9,596.9 141.7,596.9 148.5,596.9 155.3,596.9 162.0,596.9 168.8,592.5 175.6,589.0 182.4,584.6 189.2,575.7 196.0,563.1 202.8,544.7 209.5,590.9 216.3,593.7 223.1,593.6 229.9,593.5 236.7,593.5 243.5,593.5 250.3,593.4 257.0,593.4 263.8,593.3 270.6,593.6 277.4,593.9 284.2,594.2 291.0,594.5 297.8,595.1 304.6,594.5 311.3,593.9 318.1,591.3 324.9,589.8 331.7,585.3 338.5,580.2 345.3,577.7 352.1,577.7 358.8,592.1 365.6,596.8 372.4,596.9 379.2,596.9 386.0,596.9 392.8,596.9 399.6,596.9 406.3,596.9 413.1,597.0 419.9,597.0 426.7,597.0 433.5,597.0 440.3,597.0 447.1,597.0 453.8,597.0 460.6,597.0 467.4,597.0 474.2,597.0 481.0,597.0 487.8,597.0 494.6,597.1 501.3,597.1 508.1,597.1 514.9,597.1 521.7,597.1 528.5,597.1 535.3,597.1 542.1,597.1 548.8,597.1 555.6,597.1 562.4,597.1 569.2,597.1 576.0,597.2 582.8,597.2 589.6,597.2 596.4,597.2 603.1,597.2" fill="none" stroke="#d9592a" stroke-width="1"/>
<path d="M84.10,596.90H90.70M87.40,593.60V600.20M85.02,594.52L89.78,599.28M85.02,599.28L89.78,594.52M90.89,596.90H97.49M94.19,593.60V600.20M91.81,594.52L96.56,599.28M91.81,599.28L96.56,594.52M97.67,596.90H104.27M100.97,593.60V600.20M98.60,594.52L103.35,599.28M98.60,599.28L103.35,594.52M104.46,596.90H111.06M107.76,593.60V600.20M105.38,594.52L110.13,599.28M105.38,599.28L110.13,594.52M111.24,596.90H117.84M114.54,593.60V600.20M112.17,594.52L116.92,599.28M112.17,599.28L116.92,594.52M118.03,596.90H124.63M121.33,593.60V600.20M118.95,594.52L123.71,599.28M118.95,599.28L123.71,594.52M124.82,596.90H131.42M128.12,593.60V600.20M125.74,594.52L130.49,599.28M125.74,599.28L130.49,594.52M131.60,596.90H138.20M134.90,593.60V600.20M132.53,594.52L137.28,599.28M132.53,599.28L137.28,594.52M138.39,596.90H144.99M141.69,593.60V600.20M139.31,594.52L144.06,599.28M139.31,599.28L144.06,594.52M145.17,596.90H151.77M148.47,593.60V600.20M146.10,594.52L150.85,599.28M146.10,599.28L150.85,594.52M151.96,596.90H158.56M155.26,593.60V600.20M152.88,594.52L157.64,599.28M152.88,599.28L157.64,594.52M158.75,596.90H165.35M162.05,593.60V600.20M159.67,594.52L164.42,599.28M159.67,599.28L164.42,594.52M165.53,592.50H172.13M168.83,589.20V595.80M166.46,590.12L171.21,594.88M166.46,594.88L171.21,590.12M172.32,589.00H178.92M175.62,585.70V592.30M173.24,586.62L177.99,591.38M173.24,591.38L177.99,586.62M179.10,584.60H185.70M182.40,581.30V587.90M180.03,582.22L184.78,586.98M180.03,586.98L184.78,582.22M185.89,575.70H192.49M189.19,572.40V579.00M186.81,573.32L191.57,578.08M186.81,578.08L191.57,573.32M192.68,563.10H199.28M195.98,559.80V566.40M193.60,560.72L198.35,565.48M193.60,565.48L198.35,560.72M199.46,544.70H206.06M202.76,541.40V548.00M200.39,542.32L205.14,547.08M200.39,547.08L205.14,542.32M206.25,590.90H212.85M209.55,587.60V594.20M207.17,588.52L211.92,593.28M207.17,593.28L211.92,588.52M213.03,593.70H219.63M216.33,590.40V597.00M213.96,591.32L218.71,596.08M213.96,596.08L218.71,591.32M219.82,593.60H226.42M223.12,590.30V596.90M220.74,591.22L225.50,595.98M220.74,595.98L225.50,591.22M226.61,593.55H233.21M229.91,590.25V596.85M227.53,591.17L232.28,595.93M227.53,595.93L232.28,591.17M233.39,593.50H239.99M236.69,590.20V596.80M234.32,591.12L239.07,595.88M234.32,595.88L239.07,591.12M240.18,593.45H246.78M243.48,590.15V596.75M241.10,591.07L245.85,595.83M241.10,595.83L245.85,591.07M246.96,593.40H253.56M250.26,590.10V596.70M247.89,591.02L252.64,595.78M247.89,595.78L252.64,591.02M253.75,593.35H260.35M257.05,590.05V596.65M254.67,590.97L259.43,595.73M254.67,595.73L259.43,590.97M260.54,593.30H267.14M263.84,590.00V596.60M261.46,590.93L266.21,595.68M261.46,595.68L266.21,590.93M267.32,593.59H273.92M270.62,590.29V596.89M268.25,591.21L273.00,595.96M268.25,595.96L273.00,591.21M274.11,593.88H280.71M277.41,590.58V597.18M275.03,591.51L279.78,596.26M275.03,596.26L279.78,591.51M280.89,594.18H287.49M284.19,590.88V597.48M281.82,591.81L286.57,596.56M281.82,596.56L286.57,591.81M287.68,594.48H294.28M290.98,591.18V597.78M288.60,592.11L293.36,596.86M288.60,596.86L293.36,592.11M294.47,595.08H301.07M297.77,591.78V598.38M295.39,592.70L300.14,597.45M295.39,597.45L300.14,592.70M301.25,594.53H307.85M304.55,591.23V597.83M302.18,592.15L306.93,596.91M302.18,596.91L306.93,592.15M308.04,593.92H314.64M311.34,590.62V597.22M308.96,591.55L313.71,596.30M308.96,596.30L313.71,591.55M314.82,591.33H321.42M318.12,588.03V594.63M315.75,588.95L320.50,593.71M315.75,593.71L320.50,588.95M321.61,589.82H328.21M324.91,586.52V593.12M322.53,587.44L327.29,592.20M322.53,592.20L327.29,587.44M328.40,585.27H335.00M331.70,581.97V588.57M329.32,582.89L334.07,587.65M329.32,587.65L334.07,582.89M335.18,580.19H341.78M338.48,576.89V583.49M336.11,577.81L340.86,582.56M336.11,582.56L340.86,577.81M341.97,577.75H348.57M345.27,574.45V581.05M342.89,575.37L347.64,580.12M342.89,580.12L347.64,575.37M348.75,577.70H355.35M352.05,574.40V581.00M349.68,575.32L354.43,580.08M349.68,580.08L354.43,575.32M355.54,592.05H362.14M358.84,588.75V595.35M356.46,589.68L361.22,594.43M356.46,594.43L361.22,589.68M362.33,596.78H368.93M365.63,593.48V600.08M363.25,594.41L368.00,599.16M363.25,599.16L368.00,594.41M369.11,596.91H375.71M372.41,593.61V600.21M370.04,594.53L374.79,599.28M370.04,599.28L374.79,594.53M375.90,596.92H382.50M379.20,593.62V600.22M376.82,594.54L381.57,599.29M376.82,599.29L381.57,594.54M382.68,596.92H389.28M385.98,593.62V600.22M383.61,594.55L388.36,599.30M383.61,599.30L388.36,594.55M389.47,596.93H396.07M392.77,593.63V600.23M390.39,594.56L395.15,599.31M390.39,599.31L395.15,594.56M396.26,596.94H402.86M399.56,593.64V600.24M397.18,594.57L401.93,599.32M397.18,599.32L401.93,594.57M403.04,596.95H409.64M406.34,593.65V600.25M403.97,594.57L408.72,599.33M403.97,599.33L408.72,594.57M409.83,596.96H416.43M413.13,593.66V600.26M410.75,594.58L415.50,599.33M410.75,599.33L415.50,594.58M416.61,596.97H423.21M419.91,593.67V600.27M417.54,594.59L422.29,599.34M417.54,599.34L422.29,594.59M423.40,596.97H430.00M426.70,593.67V600.27M424.32,594.60L429.08,599.35M424.32,599.35L429.08,594.60M430.19,596.98H436.79M433.49,593.68V600.28M431.11,594.61L435.86,599.36M431.11,599.36L435.86,594.61M436.97,596.99H443.57M440.27,593.69V600.29M437.90,594.62L442.65,599.37M437.90,599.37L442.65,594.62M443.76,597.00H450.36M447.06,593.70V600.30M444.68,594.62L449.43,599.38M444.68,599.38L449.43,594.62M450.54,597.01H457.14M453.84,593.71V600.31M451.47,594.63L456.22,599.38M451.47,599.38L456.22,594.63M457.33,597.02H463.93M460.63,593.72V600.32M458.25,594.64L463.01,599.39M458.25,599.39L463.01,594.64M464.12,597.02H470.72M467.42,593.72V600.32M465.04,594.65L469.79,599.40M465.04,599.40L469.79,594.65M470.90,597.03H477.50M474.20,593.73V600.33M471.83,594.66L476.58,599.41M471.83,599.41L476.58,594.66M477.69,597.04H484.29M480.99,593.74V600.34M478.61,594.66L483.36,599.42M478.61,599.42L483.36,594.66M484.47,597.05H491.07M487.77,593.75V600.35M485.40,594.67L490.15,599.43M485.40,599.43L490.15,594.67M491.26,597.06H497.86M494.56,593.76V600.36M492.18,594.68L496.94,599.43M492.18,599.43L496.94,594.68M498.05,597.07H504.65M501.35,593.77V600.37M498.97,594.69L503.72,599.44M498.97,599.44L503.72,594.69M504.83,597.07H511.43M508.13,593.77V600.37M505.76,594.70L510.51,599.45M505.76,599.45L510.51,594.70M511.62,597.08H518.22M514.92,593.78V600.38M512.54,594.71L517.29,599.46M512.54,599.46L517.29,594.71M518.40,597.09H525.00M521.70,593.79V600.39M519.33,594.71L524.08,599.47M519.33,599.47L524.08,594.71M525.19,597.10H531.79M528.49,593.80V600.40M526.11,594.72L530.87,599.48M526.11,599.48L530.87,594.72M531.98,597.11H538.58M535.28,593.81V600.41M532.90,594.73L537.65,599.48M532.90,599.48L537.65,594.73M538.76,597.12H545.36M542.06,593.82V600.42M539.69,594.74L544.44,599.49M539.69,599.49L544.44,594.74M545.55,597.12H552.15M548.85,593.82V600.42M546.47,594.75L551.22,599.50M546.47,599.50L551.22,594.75M552.33,597.13H558.93M555.63,593.83V600.43M553.26,594.76L558.01,599.51M553.26,599.51L558.01,594.76M559.12,597.14H565.72M562.42,593.84V600.44M560.04,594.76L564.80,599.52M560.04,599.52L564.80,594.76M565.91,597.15H572.51M569.21,593.85V600.45M566.83,594.77L571.58,599.52M566.83,599.52L571.58,594.77M572.69,597.16H579.29M575.99,593.86V600.46M573.62,594.78L578.37,599.53M573.62,599.53L578.37,594.78M579.48,597.17H586.08M582.78,593.87V600.47M580.40,594.79L585.15,599.54M580.40,599.54L585.15,594.79M586.26,597.17H592.86M589.56,593.87V600.47M587.19,594.80L591.94,599.55M587.19,599.55L591.94,594.80M593.05,597.18H599.65M596.35,593.88V600.48M593.97,594.81L598.73,599.56M593.97,599.56L598.73,594.81M599.84,597.19H606.44M603.14,593.89V600.49M600.76,594.81L605.51,599.57M600.76,599.57L605.51,594.81" stroke="#d9592a" stroke-width="0.9" fill="none"/>
<polyline points="88.0,572.6 93.3,572.6 98.5,572.6 103.8,572.6 109.1,572.6 114.3,572.6 119.6,572.6 124.8,572.6 130.1,572.6 135.4,572.6 140.6,572.6 145.9,572.6 151.2,572.6 156.4,572.6 161.7,572.6 167.0,572.6 172.2,569.6 177.5,570.2 182.8,572.6 188.0,574.7 193.3,578.1 198.5,583.8 203.8,596.9 209.1,608.0 214.3,612.1 219.6,619.8 224.9,626.9 230.1,633.4 235.4,638.0 240.7,636.4 245.9,636.4 251.2,634.4 256.4,626.9 261.7,628.5 267.0,628.3 272.2,624.9 277.5,624.7 282.8,624.3 288.0,626.3 293.3,628.7 298.6,629.9 303.8,631.7 309.1,645.1 314.4,650.2 319.6,650.2 324.9,650.2 330.1,650.2 335.4,650.2 340.7,650.1 345.9,649.6 351.2,649.0 356.5,648.5 361.7,648.5 367.0,648.1 372.3,647.1 377.5,646.5 382.8,645.9 388.0,645.1 393.3,644.1 398.6,643.1 403.8,642.1 409.1,641.1 414.4,640.2 419.6,639.0 424.9,638.0 430.2,637.0 435.4,636.4 440.7,635.8 446.0,635.4 451.2,635.2 456.5,635.1 461.7,635.1 467.0,635.0 472.3,635.0 477.5,634.9 482.8,634.8 488.1,634.8 493.3,634.7 498.6,634.7 503.9,634.6 509.1,634.5 514.4,634.5 519.6,634.4 524.9,634.4 530.2,634.3 535.4,634.2 540.7,634.2 546.0,634.1 551.2,634.1 556.5,634.0 561.8,633.9 567.0,633.9 572.3,633.8 577.6,633.8 582.8,633.7 588.1,633.6 593.3,633.6 598.6,633.5 603.9,633.5 609.1,633.4" fill="none" stroke="#e9ac2b" stroke-width="1"/>
<path d="M88.00,569.30 L90.60,572.60 L88.00,575.90 L85.40,572.60ZM93.26,569.30 L95.86,572.60 L93.26,575.90 L90.66,572.60ZM98.53,569.30 L101.13,572.60 L98.53,575.90 L95.93,572.60ZM103.79,569.30 L106.39,572.60 L103.79,575.90 L101.19,572.60ZM109.06,569.30 L111.66,572.60 L109.06,575.90 L106.46,572.60ZM114.32,569.30 L116.92,572.60 L114.32,575.90 L111.72,572.60ZM119.58,569.30 L122.18,572.60 L119.58,575.90 L116.98,572.60ZM124.85,569.30 L127.45,572.60 L124.85,575.90 L122.25,572.60ZM130.11,569.30 L132.71,572.60 L130.11,575.90 L127.51,572.60ZM135.38,569.30 L137.98,572.60 L135.38,575.90 L132.78,572.60ZM140.64,569.30 L143.24,572.60 L140.64,575.90 L138.04,572.60ZM145.90,569.30 L148.50,572.60 L145.90,575.90 L143.30,572.60ZM151.17,569.30 L153.77,572.60 L151.17,575.90 L148.57,572.60ZM156.43,569.30 L159.03,572.60 L156.43,575.90 L153.83,572.60ZM161.70,569.30 L164.30,572.60 L161.70,575.90 L159.10,572.60ZM166.96,569.30 L169.56,572.60 L166.96,575.90 L164.36,572.60ZM172.22,566.30 L174.82,569.60 L172.22,572.90 L169.62,569.60ZM177.49,566.90 L180.09,570.20 L177.49,573.50 L174.89,570.20ZM182.75,569.30 L185.35,572.60 L182.75,575.90 L180.15,572.60ZM188.02,571.40 L190.62,574.70 L188.02,578.00 L185.42,574.70ZM193.28,574.80 L195.88,578.10 L193.28,581.40 L190.68,578.10ZM198.54,580.50 L201.14,583.80 L198.54,587.10 L195.94,583.80ZM203.81,593.60 L206.41,596.90 L203.81,600.20 L201.21,596.90ZM209.07,604.70 L211.67,608.00 L209.07,611.30 L206.47,608.00ZM214.34,608.80 L216.94,612.10 L214.34,615.40 L211.74,612.10ZM219.60,616.50 L222.20,619.80 L219.60,623.10 L217.00,619.80ZM224.86,623.60 L227.46,626.90 L224.86,630.20 L222.26,626.90ZM230.13,630.10 L232.73,633.40 L230.13,636.70 L227.53,633.40ZM235.39,634.70 L237.99,638.00 L235.39,641.30 L232.79,638.00ZM240.66,633.10 L243.26,636.40 L240.66,639.70 L238.06,636.40ZM245.92,633.10 L248.52,636.40 L245.92,639.70 L243.32,636.40ZM251.18,631.10 L253.78,634.40 L251.18,637.70 L248.58,634.40ZM256.45,623.60 L259.05,626.90 L256.45,630.20 L253.85,626.90ZM261.71,625.20 L264.31,628.50 L261.71,631.80 L259.11,628.50ZM266.98,625.00 L269.58,628.30 L266.98,631.60 L264.38,628.30ZM272.24,621.60 L274.84,624.90 L272.24,628.20 L269.64,624.90ZM277.50,621.40 L280.10,624.70 L277.50,628.00 L274.90,624.70ZM282.77,621.00 L285.37,624.30 L282.77,627.60 L280.17,624.30ZM288.03,623.00 L290.63,626.30 L288.03,629.60 L285.43,626.30ZM293.30,625.40 L295.90,628.70 L293.30,632.00 L290.70,628.70ZM298.56,626.60 L301.16,629.90 L298.56,633.20 L295.96,629.90ZM303.82,628.40 L306.42,631.70 L303.82,635.00 L301.22,631.70ZM309.09,641.80 L311.69,645.10 L309.09,648.40 L306.49,645.10ZM314.35,646.90 L316.95,650.20 L314.35,653.50 L311.75,650.20ZM319.62,646.90 L322.22,650.20 L319.62,653.50 L317.02,650.20ZM324.88,646.90 L327.48,650.20 L324.88,653.50 L322.28,650.20ZM330.14,646.90 L332.74,650.20 L330.14,653.50 L327.54,650.20ZM335.41,646.90 L338.01,650.20 L335.41,653.50 L332.81,650.20ZM340.67,646.80 L343.27,650.10 L340.67,653.40 L338.07,650.10ZM345.94,646.30 L348.54,649.60 L345.94,652.90 L343.34,649.60ZM351.20,645.70 L353.80,649.00 L351.20,652.30 L348.60,649.00ZM356.46,645.20 L359.06,648.50 L356.46,651.80 L353.86,648.50ZM361.73,645.20 L364.33,648.50 L361.73,651.80 L359.13,648.50ZM366.99,644.80 L369.59,648.10 L366.99,651.40 L364.39,648.10ZM372.26,643.80 L374.86,647.10 L372.26,650.40 L369.66,647.10ZM377.52,643.20 L380.12,646.50 L377.52,649.80 L374.92,646.50ZM382.78,642.60 L385.38,645.90 L382.78,649.20 L380.18,645.90ZM388.05,641.80 L390.65,645.10 L388.05,648.40 L385.45,645.10ZM393.31,640.80 L395.91,644.10 L393.31,647.40 L390.71,644.10ZM398.58,639.80 L401.18,643.10 L398.58,646.40 L395.98,643.10ZM403.84,638.80 L406.44,642.10 L403.84,645.40 L401.24,642.10ZM409.10,637.80 L411.70,641.10 L409.10,644.40 L406.50,641.10ZM414.37,636.90 L416.97,640.20 L414.37,643.50 L411.77,640.20ZM419.63,635.70 L422.23,639.00 L419.63,642.30 L417.03,639.00ZM424.90,634.70 L427.50,638.00 L424.90,641.30 L422.30,638.00ZM430.16,633.70 L432.76,637.00 L430.16,640.30 L427.56,637.00ZM435.42,633.10 L438.02,636.40 L435.42,639.70 L432.82,636.40ZM440.69,632.50 L443.29,635.80 L440.69,639.10 L438.09,635.80ZM445.95,632.10 L448.55,635.40 L445.95,638.70 L443.35,635.40ZM451.22,631.90 L453.82,635.20 L451.22,638.50 L448.62,635.20ZM456.48,631.84 L459.08,635.14 L456.48,638.44 L453.88,635.14ZM461.74,631.78 L464.34,635.08 L461.74,638.38 L459.14,635.08ZM467.01,631.72 L469.61,635.02 L467.01,638.32 L464.41,635.02ZM472.27,631.66 L474.87,634.96 L472.27,638.26 L469.67,634.96ZM477.54,631.60 L480.14,634.90 L477.54,638.20 L474.94,634.90ZM482.80,631.54 L485.40,634.84 L482.80,638.14 L480.20,634.84ZM488.06,631.48 L490.66,634.78 L488.06,638.08 L485.46,634.78ZM493.33,631.42 L495.93,634.72 L493.33,638.02 L490.73,634.72ZM498.59,631.36 L501.19,634.66 L498.59,637.96 L495.99,634.66ZM503.86,631.30 L506.46,634.60 L503.86,637.90 L501.26,634.60ZM509.12,631.24 L511.72,634.54 L509.12,637.84 L506.52,634.54ZM514.38,631.18 L516.98,634.48 L514.38,637.78 L511.78,634.48ZM519.65,631.12 L522.25,634.42 L519.65,637.72 L517.05,634.42ZM524.91,631.06 L527.51,634.36 L524.91,637.66 L522.31,634.36ZM530.18,631.00 L532.78,634.30 L530.18,637.60 L527.58,634.30ZM535.44,630.94 L538.04,634.24 L535.44,637.54 L532.84,634.24ZM540.70,630.88 L543.30,634.18 L540.70,637.48 L538.10,634.18ZM545.97,630.82 L548.57,634.12 L545.97,637.42 L543.37,634.12ZM551.23,630.76 L553.83,634.06 L551.23,637.36 L548.63,634.06ZM556.50,630.70 L559.10,634.00 L556.50,637.30 L553.90,634.00ZM561.76,630.64 L564.36,633.94 L561.76,637.24 L559.16,633.94ZM567.02,630.58 L569.62,633.88 L567.02,637.18 L564.42,633.88ZM572.29,630.52 L574.89,633.82 L572.29,637.12 L569.69,633.82ZM577.55,630.46 L580.15,633.76 L577.55,637.06 L574.95,633.76ZM582.82,630.40 L585.42,633.70 L582.82,637.00 L580.22,633.70ZM588.08,630.34 L590.68,633.64 L588.08,636.94 L585.48,633.64ZM593.34,630.28 L595.94,633.58 L593.34,636.88 L590.74,633.58ZM598.61,630.22 L601.21,633.52 L598.61,636.82 L596.01,633.52ZM603.87,630.16 L606.47,633.46 L603.87,636.76 L601.27,633.46ZM609.14,630.10 L611.74,633.40 L609.14,636.70 L606.54,633.40Z" fill="#e9ac2b"/>
<polyline points="88.0,501.1 93.3,500.7 98.5,500.2 103.8,499.6 109.1,499.6 114.3,498.8 119.6,498.0 124.8,498.0 130.1,498.4 135.4,498.4 140.6,498.4 145.9,498.0 151.2,498.0 156.4,497.3 161.7,497.3 167.0,493.6 172.2,495.0 177.5,513.6 182.8,527.1 188.0,557.4 193.3,623.2 198.5,612.1 203.8,633.4 209.1,559.9 214.3,540.9 219.6,540.6 224.9,559.5 230.1,585.8 235.4,576.3 240.7,544.3 245.9,549.8 251.2,570.0 256.4,519.5 261.7,539.2 267.0,556.4 272.2,533.6 277.5,581.1 282.8,594.3 288.0,593.9 293.3,587.2 298.6,601.4 303.8,614.5 309.1,617.2 314.4,602.0 319.6,571.0 324.9,594.9 330.1,574.3 335.4,563.5 340.7,554.4 345.9,539.6 351.2,528.1 356.5,521.0 361.7,559.5 367.0,605.4 372.3,622.6 377.5,626.7 382.8,632.0 388.0,640.0 393.3,637.0 398.6,634.4 403.8,636.8 409.1,637.0 414.4,637.8 419.6,635.4 424.9,630.3 430.2,630.3 435.4,626.9 440.7,623.8 446.0,620.8 451.2,621.0 456.5,622.8 461.7,620.2 467.0,619.2 472.3,619.2 477.5,617.8 482.8,616.6 488.1,616.8 493.3,615.1 498.6,613.7 503.9,615.1 509.1,613.5 514.4,613.1 519.6,612.1 524.9,614.5 530.2,611.7 535.4,609.1 540.7,613.5 546.0,608.7 551.2,609.5 556.5,609.7 561.8,609.1 567.0,608.5 572.3,607.4 577.6,605.0 582.8,602.6 588.1,603.6 593.3,601.6 598.6,600.0 603.9,600.4 609.1,601.4" fill="none" stroke="#0a6fba" stroke-width="1"/>
<g fill="#0a6fba"><circle cx="88.0" cy="501.1" r="2.7"/><circle cx="93.3" cy="500.7" r="2.7"/><circle cx="98.5" cy="500.2" r="2.7"/><circle cx="103.8" cy="499.6" r="2.7"/><circle cx="109.1" cy="499.6" r="2.7"/><circle cx="114.3" cy="498.8" r="2.7"/><circle cx="119.6" cy="498.0" r="2.7"/><circle cx="124.8" cy="498.0" r="2.7"/><circle cx="130.1" cy="498.4" r="2.7"/><circle cx="135.4" cy="498.4" r="2.7"/><circle cx="140.6" cy="498.4" r="2.7"/><circle cx="145.9" cy="498.0" r="2.7"/><circle cx="151.2" cy="498.0" r="2.7"/><circle cx="156.4" cy="497.3" r="2.7"/><circle cx="161.7" cy="497.3" r="2.7"/><circle cx="167.0" cy="493.6" r="2.7"/><circle cx="172.2" cy="495.0" r="2.7"/><circle cx="177.5" cy="513.6" r="2.7"/><circle cx="182.8" cy="527.1" r="2.7"/><circle cx="188.0" cy="557.4" r="2.7"/><circle cx="193.3" cy="623.2" r="2.7"/><circle cx="198.5" cy="612.1" r="2.7"/><circle cx="203.8" cy="633.4" r="2.7"/><circle cx="209.1" cy="559.9" r="2.7"/><circle cx="214.3" cy="540.9" r="2.7"/><circle cx="219.6" cy="540.6" r="2.7"/><circle cx="224.9" cy="559.5" r="2.7"/><circle cx="230.1" cy="585.8" r="2.7"/><circle cx="235.4" cy="576.3" r="2.7"/><circle cx="240.7" cy="544.3" r="2.7"/><circle cx="245.9" cy="549.8" r="2.7"/><circle cx="251.2" cy="570.0" r="2.7"/><circle cx="256.4" cy="519.5" r="2.7"/><circle cx="261.7" cy="539.2" r="2.7"/><circle cx="267.0" cy="556.4" r="2.7"/><circle cx="272.2" cy="533.6" r="2.7"/><circle cx="277.5" cy="581.1" r="2.7"/><circle cx="282.8" cy="594.3" r="2.7"/><circle cx="288.0" cy="593.9" r="2.7"/><circle cx="293.3" cy="587.2" r="2.7"/><circle cx="298.6" cy="601.4" r="2.7"/><circle cx="303.8" cy="614.5" r="2.7"/><circle cx="309.1" cy="617.2" r="2.7"/><circle cx="314.4" cy="602.0" r="2.7"/><circle cx="319.6" cy="571.0" r="2.7"/><circle cx="324.9" cy="594.9" r="2.7"/><circle cx="330.1" cy="574.3" r="2.7"/><circle cx="335.4" cy="563.5" r="2.7"/><circle cx="340.7" cy="554.4" r="2.7"/><circle cx="345.9" cy="539.6" r="2.7"/><circle cx="351.2" cy="528.1" r="2.7"/><circle cx="356.5" cy="521.0" r="2.7"/><circle cx="361.7" cy="559.5" r="2.7"/><circle cx="367.0" cy="605.4" r="2.7"/><circle cx="372.3" cy="622.6" r="2.7"/><circle cx="377.5" cy="626.7" r="2.7"/><circle cx="382.8" cy="632.0" r="2.7"/><circle cx="388.0" cy="640.0" r="2.7"/><circle cx="393.3" cy="637.0" r="2.7"/><circle cx="398.6" cy="634.4" r="2.7"/><circle cx="403.8" cy="636.8" r="2.7"/><circle cx="409.1" cy="637.0" r="2.7"/><circle cx="414.4" cy="637.8" r="2.7"/><circle cx="419.6" cy="635.4" r="2.7"/><circle cx="424.9" cy="630.3" r="2.7"/><circle cx="430.2" cy="630.3" r="2.7"/><circle cx="435.4" cy="626.9" r="2.7"/><circle cx="440.7" cy="623.8" r="2.7"/><circle cx="446.0" cy="620.8" r="2.7"/><circle cx="451.2" cy="621.0" r="2.7"/><circle cx="456.5" cy="622.8" r="2.7"/><circle cx="461.7" cy="620.2" r="2.7"/><circle cx="467.0" cy="619.2" r="2.7"/><circle cx="472.3" cy="619.2" r="2.7"/><circle cx="477.5" cy="617.8" r="2.7"/><circle cx="482.8" cy="616.6" r="2.7"/><circle cx="488.1" cy="616.8" r="2.7"/><circle cx="493.3" cy="615.1" r="2.7"/><circle cx="498.6" cy="613.7" r="2.7"/><circle cx="503.9" cy="615.1" r="2.7"/><circle cx="509.1" cy="613.5" r="2.7"/><circle cx="514.4" cy="613.1" r="2.7"/><circle cx="519.6" cy="612.1" r="2.7"/><circle cx="524.9" cy="614.5" r="2.7"/><circle cx="530.2" cy="611.7" r="2.7"/><circle cx="535.4" cy="609.1" r="2.7"/><circle cx="540.7" cy="613.5" r="2.7"/><circle cx="546.0" cy="608.7" r="2.7"/><circle cx="551.2" cy="609.5" r="2.7"/><circle cx="556.5" cy="609.7" r="2.7"/><circle cx="561.8" cy="609.1" r="2.7"/><circle cx="567.0" cy="608.5" r="2.7"/><circle cx="572.3" cy="607.4" r="2.7"/><circle cx="577.6" cy="605.0" r="2.7"/><circle cx="582.8" cy="602.6" r="2.7"/><circle cx="588.1" cy="603.6" r="2.7"/><circle cx="593.3" cy="601.6" r="2.7"/><circle cx="598.6" cy="600.0" r="2.7"/><circle cx="603.9" cy="600.4" r="2.7"/><circle cx="609.1" cy="601.4" r="2.7"/></g>
<polyline points="86.5,645.5 91.5,645.5 96.6,645.4 101.6,645.4 106.7,645.4 111.7,645.3 116.8,645.3 121.8,645.3 126.9,645.2 131.9,645.2 137.0,645.2 142.0,645.1 147.1,645.1 152.1,645.1 157.2,645.0 162.2,645.0 167.3,644.4 172.3,643.9 177.4,643.2 182.4,642.6 187.5,641.6 192.5,637.7 197.6,630.4 202.6,619.0 207.7,602.1 212.7,583.7 217.8,575.3 222.8,560.9 227.9,549.8 232.9,537.6 238.0,530.3 243.0,525.7 248.1,514.8 253.1,507.1 258.2,502.9 263.2,497.9 268.3,492.7 273.3,488.7 278.4,485.4 283.4,481.3 288.5,476.9 293.5,473.8 298.6,474.9 303.6,479.6 308.7,483.6 313.7,488.9 318.8,494.4 323.8,499.0 328.9,502.7 333.9,504.0 339.0,502.6 344.0,499.0 349.1,495.2 354.1,491.4 359.2,489.4 364.2,491.3 369.3,495.6 374.3,499.8 379.4,503.8 384.4,507.7 389.5,511.8 394.5,515.6 399.6,519.2 404.6,522.5 409.7,525.6 414.7,528.7 419.8,531.1 424.8,533.3 429.9,535.4 434.9,537.6 440.0,539.8 445.0,542.1 450.1,544.4 455.1,546.8 460.2,549.3 465.2,551.6 470.3,553.6 475.3,555.0 480.4,556.0 485.4,557.3 490.5,558.9 495.5,560.1 500.6,561.1 505.6,561.9 510.7,562.6 515.7,563.5 520.8,564.5 525.8,565.3 530.9,565.9 535.9,567.0 541.0,568.3 546.0,569.5 551.1,570.7 556.1,571.8 561.2,572.8 566.2,573.6 571.3,574.5 576.3,575.1 581.4,575.6 586.4,576.1 591.5,576.6 596.5,577.2 601.6,577.9 606.6,579.0" fill="none" stroke="#000000" stroke-width="1"/>
<path d="M83.40,643.77 L89.60,643.77 L86.50,648.97ZM88.45,643.73 L94.65,643.73 L91.55,648.93ZM93.50,643.70 L99.70,643.70 L96.60,648.90ZM98.55,643.67 L104.75,643.67 L101.65,648.87ZM103.60,643.63 L109.80,643.63 L106.70,648.83ZM108.65,643.60 L114.85,643.60 L111.75,648.80ZM113.70,643.57 L119.90,643.57 L116.80,648.77ZM118.75,643.53 L124.95,643.53 L121.85,648.73ZM123.80,643.50 L130.00,643.50 L126.90,648.70ZM128.85,643.47 L135.05,643.47 L131.95,648.67ZM133.90,643.43 L140.10,643.43 L137.00,648.63ZM138.95,643.40 L145.15,643.40 L142.05,648.60ZM144.00,643.37 L150.20,643.37 L147.10,648.57ZM149.05,643.33 L155.25,643.33 L152.15,648.53ZM154.10,643.30 L160.30,643.30 L157.20,648.50ZM159.15,643.24 L165.35,643.24 L162.25,648.44ZM164.20,642.68 L170.40,642.68 L167.30,647.88ZM169.25,642.12 L175.45,642.12 L172.35,647.32ZM174.30,641.45 L180.50,641.45 L177.40,646.65ZM179.35,640.85 L185.55,640.85 L182.45,646.05ZM184.40,639.91 L190.60,639.91 L187.50,645.11ZM189.45,635.93 L195.65,635.93 L192.55,641.13ZM194.50,628.64 L200.70,628.64 L197.60,633.84ZM199.55,617.25 L205.75,617.25 L202.65,622.45ZM204.60,600.32 L210.80,600.32 L207.70,605.52ZM209.65,582.01 L215.85,582.01 L212.75,587.21ZM214.70,573.59 L220.90,573.59 L217.80,578.79ZM219.75,559.20 L225.95,559.20 L222.85,564.40ZM224.80,548.10 L231.00,548.10 L227.90,553.30ZM229.85,535.87 L236.05,535.87 L232.95,541.07ZM234.90,528.55 L241.10,528.55 L238.00,533.75ZM239.95,523.94 L246.15,523.94 L243.05,529.14ZM245.00,513.11 L251.20,513.11 L248.10,518.31ZM250.05,505.40 L256.25,505.40 L253.15,510.60ZM255.10,501.17 L261.30,501.17 L258.20,506.37ZM260.15,496.12 L266.35,496.12 L263.25,501.32ZM265.20,491.01 L271.40,491.01 L268.30,496.21ZM270.25,486.95 L276.45,486.95 L273.35,492.15ZM275.30,483.70 L281.50,483.70 L278.40,488.90ZM280.35,479.56 L286.55,479.56 L283.45,484.76ZM285.40,475.16 L291.60,475.16 L288.50,480.36ZM290.45,472.07 L296.65,472.07 L293.55,477.27ZM295.50,473.17 L301.70,473.17 L298.60,478.37ZM300.55,477.85 L306.75,477.85 L303.65,483.05ZM305.60,481.90 L311.80,481.90 L308.70,487.10ZM310.65,487.12 L316.85,487.12 L313.75,492.32ZM315.70,492.65 L321.90,492.65 L318.80,497.85ZM320.75,497.28 L326.95,497.28 L323.85,502.48ZM325.80,501.00 L332.00,501.00 L328.90,506.20ZM330.85,502.27 L337.05,502.27 L333.95,507.47ZM335.90,500.82 L342.10,500.82 L339.00,506.02ZM340.95,497.25 L347.15,497.25 L344.05,502.45ZM346.00,493.45 L352.20,493.45 L349.10,498.65ZM351.05,489.62 L357.25,489.62 L354.15,494.82ZM356.10,487.70 L362.30,487.70 L359.20,492.90ZM361.15,489.60 L367.35,489.60 L364.25,494.80ZM366.20,493.85 L372.40,493.85 L369.30,499.05ZM371.25,498.04 L377.45,498.04 L374.35,503.24ZM376.30,502.09 L382.50,502.09 L379.40,507.29ZM381.35,506.00 L387.55,506.00 L384.45,511.20ZM386.40,510.04 L392.60,510.04 L389.50,515.24ZM391.45,513.90 L397.65,513.90 L394.55,519.10ZM396.50,517.47 L402.70,517.47 L399.60,522.67ZM401.55,520.77 L407.75,520.77 L404.65,525.97ZM406.60,523.88 L412.80,523.88 L409.70,529.08ZM411.65,526.93 L417.85,526.93 L414.75,532.13ZM416.70,529.37 L422.90,529.37 L419.80,534.57ZM421.75,531.54 L427.95,531.54 L424.85,536.74ZM426.80,533.70 L433.00,533.70 L429.90,538.90ZM431.85,535.87 L438.05,535.87 L434.95,541.07ZM436.90,538.04 L443.10,538.04 L440.00,543.24ZM441.95,540.33 L448.15,540.33 L445.05,545.53ZM447.00,542.65 L453.20,542.65 L450.10,547.85ZM452.05,545.09 L458.25,545.09 L455.15,550.29ZM457.10,547.62 L463.30,547.62 L460.20,552.82ZM462.15,549.83 L468.35,549.83 L465.25,555.03ZM467.20,551.83 L473.40,551.83 L470.30,557.03ZM472.25,553.25 L478.45,553.25 L475.35,558.45ZM477.30,554.25 L483.50,554.25 L480.40,559.45ZM482.35,555.57 L488.55,555.57 L485.45,560.77ZM487.40,557.12 L493.60,557.12 L490.50,562.32ZM492.45,558.35 L498.65,558.35 L495.55,563.55ZM497.50,559.34 L503.70,559.34 L500.60,564.54ZM502.55,560.16 L508.75,560.16 L505.65,565.36ZM507.60,560.86 L513.80,560.86 L510.70,566.06ZM512.65,561.73 L518.85,561.73 L515.75,566.93ZM517.70,562.73 L523.90,562.73 L520.80,567.93ZM522.75,563.53 L528.95,563.53 L525.85,568.73ZM527.80,564.18 L534.00,564.18 L530.90,569.38ZM532.85,565.23 L539.05,565.23 L535.95,570.43ZM537.90,566.57 L544.10,566.57 L541.00,571.77ZM542.95,567.80 L549.15,567.80 L546.05,573.00ZM548.00,568.98 L554.20,568.98 L551.10,574.18ZM553.05,570.03 L559.25,570.03 L556.15,575.23ZM558.10,571.03 L564.30,571.03 L561.20,576.23ZM563.15,571.91 L569.35,571.91 L566.25,577.11ZM568.20,572.76 L574.40,572.76 L571.30,577.96ZM573.25,573.35 L579.45,573.35 L576.35,578.55ZM578.30,573.85 L584.50,573.85 L581.40,579.05ZM583.35,574.34 L589.55,574.34 L586.45,579.54ZM588.40,574.84 L594.60,574.84 L591.50,580.04ZM593.45,575.43 L599.65,575.43 L596.55,580.63ZM598.50,576.13 L604.70,576.13 L601.60,581.33ZM603.55,577.29 L609.75,577.29 L606.65,582.49Z" fill="#000000"/>
<polyline points="88.0,633.4 93.3,633.3 98.5,633.2 103.8,633.1 109.1,633.0 114.3,632.9 119.6,632.8 124.8,632.7 130.1,632.6 135.4,632.5 140.6,632.4 145.9,632.3 151.2,632.2 156.4,632.1 161.7,632.0 167.0,597.0 172.2,525.7 177.5,494.4 182.8,470.9 188.0,420.0 193.3,417.6 198.5,417.7 203.8,417.8 209.1,417.9 214.3,418.0 219.6,418.1 224.9,418.2 230.1,418.3 235.4,418.4 240.7,418.5 245.9,418.6 251.2,418.7 256.4,418.8 261.7,418.8 267.0,418.9 272.2,419.0 277.5,419.1 282.8,419.1 288.0,419.2 293.3,419.2 298.6,419.3 303.8,419.3 309.1,419.4 314.4,419.4 319.6,419.5 324.9,419.5 330.1,419.6 335.4,419.7 340.7,419.7 345.9,419.8 351.2,419.9 356.5,420.6 361.7,420.9 367.0,420.4 372.3,420.2 377.5,420.1 382.8,420.1 388.0,420.1 393.3,420.0 398.6,420.0 403.8,419.9 409.1,419.9 414.4,419.9 419.6,419.8 424.9,419.8 430.2,419.7 435.4,419.7 440.7,419.7 446.0,419.6 451.2,419.6 456.5,419.6 461.7,419.6 467.0,419.6 472.3,419.6 477.5,419.6 482.8,419.6 488.1,419.6 493.3,419.5 498.6,419.5 503.9,419.5 509.1,419.5 514.4,419.5 519.6,419.5 524.9,419.5 530.2,419.5 535.4,419.5 540.7,419.5 546.0,419.5 551.2,419.5 556.5,419.5 561.8,419.5 567.0,419.5 572.3,419.4 577.6,419.4 582.8,419.4 588.1,419.4 593.3,419.4 598.6,419.4 603.9,419.4 609.1,419.4" fill="none" stroke="#7b2c8c" stroke-width="1"/>
<path d="M84.80,635.20 L91.20,635.20 L88.00,629.80ZM90.06,635.10 L96.46,635.10 L93.26,629.70ZM95.33,635.00 L101.73,635.00 L98.53,629.60ZM100.59,634.90 L106.99,634.90 L103.79,629.50ZM105.86,634.80 L112.26,634.80 L109.06,629.40ZM111.12,634.70 L117.52,634.70 L114.32,629.30ZM116.38,634.60 L122.78,634.60 L119.58,629.20ZM121.65,634.50 L128.05,634.50 L124.85,629.10ZM126.91,634.40 L133.31,634.40 L130.11,629.00ZM132.18,634.30 L138.58,634.30 L135.38,628.90ZM137.44,634.20 L143.84,634.20 L140.64,628.80ZM142.70,634.10 L149.10,634.10 L145.90,628.70ZM147.97,634.00 L154.37,634.00 L151.17,628.60ZM153.23,633.90 L159.63,633.90 L156.43,628.50ZM158.50,633.80 L164.90,633.80 L161.70,628.40ZM163.76,598.80 L170.16,598.80 L166.96,593.40ZM169.02,527.50 L175.42,527.50 L172.22,522.10ZM174.29,496.20 L180.69,496.20 L177.49,490.80ZM179.55,472.70 L185.95,472.70 L182.75,467.30ZM184.82,421.80 L191.22,421.80 L188.02,416.40ZM190.08,419.40 L196.48,419.40 L193.28,414.00ZM195.34,419.50 L201.74,419.50 L198.54,414.10ZM200.61,419.59 L207.01,419.59 L203.81,414.19ZM205.87,419.69 L212.27,419.69 L209.07,414.29ZM211.14,419.78 L217.54,419.78 L214.34,414.38ZM216.40,419.88 L222.80,419.88 L219.60,414.48ZM221.66,419.98 L228.06,419.98 L224.86,414.58ZM226.93,420.07 L233.33,420.07 L230.13,414.67ZM232.19,420.17 L238.59,420.17 L235.39,414.77ZM237.46,420.26 L243.86,420.26 L240.66,414.86ZM242.72,420.36 L249.12,420.36 L245.92,414.96ZM247.98,420.46 L254.38,420.46 L251.18,415.06ZM253.25,420.55 L259.65,420.55 L256.45,415.15ZM258.51,420.65 L264.91,420.65 L261.71,415.25ZM263.78,420.74 L270.18,420.74 L266.98,415.34ZM269.04,420.82 L275.44,420.82 L272.24,415.42ZM274.30,420.88 L280.70,420.88 L277.50,415.48ZM279.57,420.93 L285.97,420.93 L282.77,415.53ZM284.83,420.98 L291.23,420.98 L288.03,415.58ZM290.10,421.03 L296.50,421.03 L293.30,415.63ZM295.36,421.09 L301.76,421.09 L298.56,415.69ZM300.62,421.14 L307.02,421.14 L303.82,415.74ZM305.89,421.19 L312.29,421.19 L309.09,415.79ZM311.15,421.24 L317.55,421.24 L314.35,415.84ZM316.42,421.30 L322.82,421.30 L319.62,415.90ZM321.68,421.35 L328.08,421.35 L324.88,415.95ZM326.94,421.40 L333.34,421.40 L330.14,416.00ZM332.21,421.45 L338.61,421.45 L335.41,416.05ZM337.47,421.51 L343.87,421.51 L340.67,416.11ZM342.74,421.56 L349.14,421.56 L345.94,416.16ZM348.00,421.74 L354.40,421.74 L351.20,416.34ZM353.26,422.38 L359.66,422.38 L356.46,416.98ZM358.53,422.66 L364.93,422.66 L361.73,417.26ZM363.79,422.24 L370.19,422.24 L366.99,416.84ZM369.06,421.98 L375.46,421.98 L372.26,416.58ZM374.32,421.94 L380.72,421.94 L377.52,416.54ZM379.58,421.90 L385.98,421.90 L382.78,416.50ZM384.85,421.86 L391.25,421.86 L388.05,416.46ZM390.11,421.83 L396.51,421.83 L393.31,416.43ZM395.38,421.79 L401.78,421.79 L398.58,416.39ZM400.64,421.75 L407.04,421.75 L403.84,416.35ZM405.90,421.71 L412.30,421.71 L409.10,416.31ZM411.17,421.67 L417.57,421.67 L414.37,416.27ZM416.43,421.63 L422.83,421.63 L419.63,416.23ZM421.70,421.59 L428.10,421.59 L424.90,416.19ZM426.96,421.55 L433.36,421.55 L430.16,416.15ZM432.22,421.51 L438.62,421.51 L435.42,416.11ZM437.49,421.47 L443.89,421.47 L440.69,416.07ZM442.75,421.43 L449.15,421.43 L445.95,416.03ZM448.02,421.40 L454.42,421.40 L451.22,416.00ZM453.28,421.39 L459.68,421.39 L456.48,415.99ZM458.54,421.39 L464.94,421.39 L461.74,415.99ZM463.81,421.38 L470.21,421.38 L467.01,415.98ZM469.07,421.37 L475.47,421.37 L472.27,415.97ZM474.34,421.37 L480.74,421.37 L477.54,415.97ZM479.60,421.36 L486.00,421.36 L482.80,415.96ZM484.86,421.35 L491.26,421.35 L488.06,415.95ZM490.13,421.35 L496.53,421.35 L493.33,415.95ZM495.39,421.34 L501.79,421.34 L498.59,415.94ZM500.66,421.33 L507.06,421.33 L503.86,415.93ZM505.92,421.33 L512.32,421.33 L509.12,415.93ZM511.18,421.32 L517.58,421.32 L514.38,415.92ZM516.45,421.31 L522.85,421.31 L519.65,415.91ZM521.71,421.31 L528.11,421.31 L524.91,415.91ZM526.98,421.30 L533.38,421.30 L530.18,415.90ZM532.24,421.29 L538.64,421.29 L535.44,415.89ZM537.50,421.29 L543.90,421.29 L540.70,415.89ZM542.77,421.28 L549.17,421.28 L545.97,415.88ZM548.03,421.27 L554.43,421.27 L551.23,415.87ZM553.30,421.27 L559.70,421.27 L556.50,415.87ZM558.56,421.26 L564.96,421.26 L561.76,415.86ZM563.82,421.25 L570.22,421.25 L567.02,415.85ZM569.09,421.25 L575.49,421.25 L572.29,415.85ZM574.35,421.24 L580.75,421.24 L577.55,415.84ZM579.62,421.24 L586.02,421.24 L582.82,415.84ZM584.88,421.23 L591.28,421.23 L588.08,415.83ZM590.14,421.22 L596.54,421.22 L593.34,415.82ZM595.41,421.22 L601.81,421.22 L598.61,415.82ZM600.67,421.21 L607.07,421.21 L603.87,415.81ZM605.94,421.20 L612.34,421.20 L609.14,415.80Z" fill="#7b2c8c"/>
<polyline points="88.0,439.2 93.3,439.2 98.5,439.2 103.8,439.2 109.1,439.2 114.3,439.2 119.6,439.2 124.8,439.2 130.1,439.3 135.4,439.3 140.6,439.3 145.9,439.3 151.2,439.3 156.4,439.3 161.7,439.3 167.0,439.3 172.2,439.3 177.5,439.4 182.8,439.4 188.0,439.5 193.3,439.5 198.5,439.6 203.8,439.6 209.1,440.0 214.3,440.3 219.6,440.6 224.9,440.9 230.1,441.2 235.4,441.5 240.7,441.8 245.9,442.2 251.2,442.5 256.4,442.8 261.7,443.2 267.0,443.8 272.2,444.4 277.5,444.7 282.8,445.0 288.0,445.2 293.3,445.4 298.6,445.8 303.8,446.3 309.1,447.5 314.4,449.3 319.6,451.7 324.9,452.5 330.1,459.7 335.4,469.1 340.7,512.1 345.9,587.2 351.2,641.0 356.5,657.6 361.7,659.7 367.0,659.7 372.3,659.7 377.5,659.7 382.8,659.7 388.0,659.7 393.3,659.7 398.6,659.7 403.8,659.7 409.1,659.7 414.4,659.7 419.6,659.7 424.9,659.7 430.2,659.7 435.4,659.7 440.7,659.7 446.0,659.7 451.2,659.7 456.5,659.7 461.7,659.7 467.0,659.7 472.3,659.7 477.5,659.7 482.8,659.7 488.1,659.7 493.3,659.7 498.6,659.7 503.9,659.7 509.1,659.7 514.4,659.7 519.6,659.7 524.9,659.7 530.2,659.7 535.4,659.7 540.7,659.7 546.0,659.7 551.2,659.7 556.5,659.7 561.8,659.7 567.0,659.7 572.3,659.7 577.6,659.7 582.8,659.7 588.1,659.7 593.3,659.7 598.6,659.7 603.9,659.7 609.1,659.7" fill="none" stroke="#67a33a" stroke-width="1"/>
<path d="M88.00,435.10 L88.96,437.87 L91.90,437.93 L89.56,439.71 L90.41,442.52 L88.00,440.84 L85.59,442.52 L86.44,439.71 L84.10,437.93 L87.04,437.87ZM93.26,435.11 L94.23,437.88 L97.16,437.94 L94.82,439.71 L95.67,442.52 L93.26,440.85 L90.85,442.52 L91.70,439.71 L89.36,437.94 L92.30,437.88ZM98.53,435.11 L99.49,437.89 L102.43,437.95 L100.09,439.72 L100.94,442.53 L98.53,440.85 L96.12,442.53 L96.97,439.72 L94.63,437.95 L97.56,437.89ZM103.79,435.12 L104.76,437.89 L107.69,437.95 L105.35,439.73 L106.20,442.54 L103.79,440.86 L101.38,442.54 L102.23,439.73 L99.89,437.95 L102.83,437.89ZM109.06,435.13 L110.02,437.90 L112.96,437.96 L110.62,439.73 L111.47,442.54 L109.06,440.87 L106.65,442.54 L107.50,439.73 L105.16,437.96 L108.09,437.90ZM114.32,435.13 L115.28,437.90 L118.22,437.96 L115.88,439.74 L116.73,442.55 L114.32,440.87 L111.91,442.55 L112.76,439.74 L110.42,437.96 L113.36,437.90ZM119.58,435.14 L120.55,437.91 L123.48,437.97 L121.14,439.74 L121.99,442.55 L119.58,440.88 L117.17,442.55 L118.02,439.74 L115.68,437.97 L118.62,437.91ZM124.85,435.14 L125.81,437.92 L128.75,437.98 L126.41,439.75 L127.26,442.56 L124.85,440.88 L122.44,442.56 L123.29,439.75 L120.95,437.98 L123.88,437.92ZM130.11,435.15 L131.08,437.92 L134.01,437.98 L131.67,439.76 L132.52,442.57 L130.11,440.89 L127.70,442.57 L128.55,439.76 L126.21,437.98 L129.15,437.92ZM135.38,435.16 L136.34,437.93 L139.28,437.99 L136.94,439.76 L137.79,442.57 L135.38,440.90 L132.97,442.57 L133.82,439.76 L131.48,437.99 L134.41,437.93ZM140.64,435.16 L141.60,437.94 L144.54,438.00 L142.20,439.77 L143.05,442.58 L140.64,440.90 L138.23,442.58 L139.08,439.77 L136.74,438.00 L139.68,437.94ZM145.90,435.17 L146.87,437.94 L149.80,438.00 L147.46,439.78 L148.31,442.59 L145.90,440.91 L143.49,442.59 L144.34,439.78 L142.00,438.00 L144.94,437.94ZM151.17,435.18 L152.13,437.95 L155.07,438.01 L152.73,439.78 L153.58,442.59 L151.17,440.92 L148.76,442.59 L149.61,439.78 L147.27,438.01 L150.20,437.95ZM156.43,435.18 L157.40,437.95 L160.33,438.01 L157.99,439.79 L158.84,442.60 L156.43,440.92 L154.02,442.60 L154.87,439.79 L152.53,438.01 L155.47,437.95ZM161.70,435.19 L162.66,437.96 L165.60,438.02 L163.26,439.79 L164.11,442.60 L161.70,440.93 L159.29,442.60 L160.14,439.79 L157.80,438.02 L160.73,437.96ZM166.96,435.19 L167.92,437.97 L170.86,438.03 L168.52,439.80 L169.37,442.61 L166.96,440.93 L164.55,442.61 L165.40,439.80 L163.06,438.03 L166.00,437.97ZM172.22,435.20 L173.19,437.98 L176.12,438.04 L173.78,439.81 L174.63,442.62 L172.22,440.94 L169.81,442.62 L170.66,439.81 L168.32,438.04 L171.26,437.98ZM177.49,435.25 L178.45,438.03 L181.39,438.09 L179.05,439.86 L179.90,442.67 L177.49,440.99 L175.08,442.67 L175.93,439.86 L173.59,438.09 L176.52,438.03ZM182.75,435.30 L183.72,438.08 L186.65,438.14 L184.31,439.91 L185.16,442.72 L182.75,441.04 L180.34,442.72 L181.19,439.91 L178.85,438.14 L181.79,438.08ZM188.02,435.35 L188.98,438.13 L191.92,438.19 L189.58,439.96 L190.43,442.77 L188.02,441.09 L185.61,442.77 L186.46,439.96 L184.12,438.19 L187.05,438.13ZM193.28,435.41 L194.24,438.18 L197.18,438.24 L194.84,440.01 L195.69,442.82 L193.28,441.15 L190.87,442.82 L191.72,440.01 L189.38,438.24 L192.32,438.18ZM198.54,435.46 L199.51,438.23 L202.44,438.29 L200.10,440.06 L200.95,442.87 L198.54,441.20 L196.13,442.87 L196.98,440.06 L194.64,438.29 L197.58,438.23ZM203.81,435.55 L204.77,438.32 L207.71,438.38 L205.37,440.15 L206.22,442.97 L203.81,441.29 L201.40,442.97 L202.25,440.15 L199.91,438.38 L202.84,438.32ZM209.07,435.86 L210.04,438.64 L212.97,438.70 L210.63,440.47 L211.48,443.28 L209.07,441.60 L206.66,443.28 L207.51,440.47 L205.17,438.70 L208.11,438.64ZM214.34,436.18 L215.30,438.95 L218.24,439.01 L215.90,440.78 L216.75,443.59 L214.34,441.92 L211.93,443.59 L212.78,440.78 L210.44,439.01 L213.37,438.95ZM219.60,436.49 L220.56,439.26 L223.50,439.32 L221.16,441.10 L222.01,443.91 L219.60,442.23 L217.19,443.91 L218.04,441.10 L215.70,439.32 L218.64,439.26ZM224.86,436.80 L225.83,439.58 L228.76,439.64 L226.42,441.41 L227.27,444.22 L224.86,442.54 L222.45,444.22 L223.30,441.41 L220.96,439.64 L223.90,439.58ZM230.13,437.12 L231.09,439.89 L234.03,439.95 L231.69,441.72 L232.54,444.54 L230.13,442.86 L227.72,444.54 L228.57,441.72 L226.23,439.95 L229.16,439.89ZM235.39,437.43 L236.36,440.21 L239.29,440.27 L236.95,442.04 L237.80,444.85 L235.39,443.17 L232.98,444.85 L233.83,442.04 L231.49,440.27 L234.43,440.21ZM240.66,437.75 L241.62,440.52 L244.56,440.58 L242.22,442.35 L243.07,445.16 L240.66,443.49 L238.25,445.16 L239.10,442.35 L236.76,440.58 L239.69,440.52ZM245.92,438.06 L246.88,440.83 L249.82,440.89 L247.48,442.67 L248.33,445.48 L245.92,443.80 L243.51,445.48 L244.36,442.67 L242.02,440.89 L244.96,440.83ZM251.18,438.37 L252.15,441.15 L255.08,441.21 L252.74,442.98 L253.59,445.79 L251.18,444.11 L248.77,445.79 L249.62,442.98 L247.28,441.21 L250.22,441.15ZM256.45,438.69 L257.41,441.46 L260.35,441.52 L258.01,443.29 L258.86,446.11 L256.45,444.43 L254.04,446.11 L254.89,443.29 L252.55,441.52 L255.48,441.46ZM261.71,439.11 L262.68,441.88 L265.61,441.94 L263.27,443.72 L264.12,446.53 L261.71,444.85 L259.30,446.53 L260.15,443.72 L257.81,441.94 L260.75,441.88ZM266.98,439.75 L267.94,442.52 L270.88,442.58 L268.54,444.36 L269.39,447.17 L266.98,445.49 L264.57,447.17 L265.42,444.36 L263.08,442.58 L266.01,442.52ZM272.24,440.34 L273.20,443.11 L276.14,443.17 L273.80,444.95 L274.65,447.76 L272.24,446.08 L269.83,447.76 L270.68,444.95 L268.34,443.17 L271.28,443.11ZM277.50,440.61 L278.47,443.39 L281.40,443.45 L279.06,445.22 L279.91,448.03 L277.50,446.35 L275.09,448.03 L275.94,445.22 L273.60,443.45 L276.54,443.39ZM282.77,440.89 L283.73,443.66 L286.67,443.72 L284.33,445.49 L285.18,448.30 L282.77,446.63 L280.36,448.30 L281.21,445.49 L278.87,443.72 L281.80,443.66ZM288.03,441.12 L289.00,443.89 L291.93,443.95 L289.59,445.72 L290.44,448.53 L288.03,446.86 L285.62,448.53 L286.47,445.72 L284.13,443.95 L287.07,443.89ZM293.30,441.34 L294.26,444.12 L297.20,444.18 L294.86,445.95 L295.71,448.76 L293.30,447.08 L290.89,448.76 L291.74,445.95 L289.40,444.18 L292.33,444.12ZM298.56,441.73 L299.52,444.50 L302.46,444.56 L300.12,446.34 L300.97,449.15 L298.56,447.47 L296.15,449.15 L297.00,446.34 L294.66,444.56 L297.60,444.50ZM303.82,442.17 L304.79,444.94 L307.72,445.00 L305.38,446.78 L306.23,449.59 L303.82,447.91 L301.41,449.59 L302.26,446.78 L299.92,445.00 L302.86,444.94ZM309.09,443.43 L310.05,446.20 L312.99,446.26 L310.65,448.03 L311.50,450.85 L309.09,449.17 L306.68,450.85 L307.53,448.03 L305.19,446.26 L308.12,446.20ZM314.35,445.16 L315.32,447.94 L318.25,448.00 L315.91,449.77 L316.76,452.58 L314.35,450.90 L311.94,452.58 L312.79,449.77 L310.45,448.00 L313.39,447.94ZM319.62,447.60 L320.58,450.38 L323.52,450.44 L321.18,452.21 L322.03,455.02 L319.62,453.34 L317.21,455.02 L318.06,452.21 L315.72,450.44 L318.65,450.38ZM324.88,448.40 L325.84,451.17 L328.78,451.23 L326.44,453.00 L327.29,455.81 L324.88,454.14 L322.47,455.81 L323.32,453.00 L320.98,451.23 L323.92,451.17ZM330.14,455.58 L331.11,458.35 L334.04,458.41 L331.70,460.18 L332.55,463.00 L330.14,461.32 L327.73,463.00 L328.58,460.18 L326.24,458.41 L329.18,458.35ZM335.41,464.97 L336.37,467.74 L339.31,467.80 L336.97,469.57 L337.82,472.38 L335.41,470.71 L333.00,472.38 L333.85,469.57 L331.51,467.80 L334.44,467.74ZM340.67,507.97 L341.64,510.74 L344.57,510.80 L342.23,512.58 L343.08,515.39 L340.67,513.71 L338.26,515.39 L339.11,512.58 L336.77,510.80 L339.71,510.74ZM345.94,583.07 L346.90,585.84 L349.84,585.90 L347.50,587.67 L348.35,590.49 L345.94,588.81 L343.53,590.49 L344.38,587.67 L342.04,585.90 L344.97,585.84ZM351.20,636.90 L352.16,639.67 L355.10,639.73 L352.76,641.51 L353.61,644.32 L351.20,642.64 L348.79,644.32 L349.64,641.51 L347.30,639.73 L350.24,639.67ZM356.46,653.49 L357.43,656.26 L360.36,656.32 L358.02,658.09 L358.87,660.90 L356.46,659.23 L354.05,660.90 L354.90,658.09 L352.56,656.32 L355.50,656.26ZM361.73,655.60 L362.69,658.37 L365.63,658.43 L363.29,660.21 L364.14,663.02 L361.73,661.34 L359.32,663.02 L360.17,660.21 L357.83,658.43 L360.76,658.37ZM366.99,655.60 L367.96,658.37 L370.89,658.43 L368.55,660.21 L369.40,663.02 L366.99,661.34 L364.58,663.02 L365.43,660.21 L363.09,658.43 L366.03,658.37ZM372.26,655.60 L373.22,658.37 L376.16,658.43 L373.82,660.21 L374.67,663.02 L372.26,661.34 L369.85,663.02 L370.70,660.21 L368.36,658.43 L371.29,658.37ZM377.52,655.60 L378.48,658.37 L381.42,658.43 L379.08,660.21 L379.93,663.02 L377.52,661.34 L375.11,663.02 L375.96,660.21 L373.62,658.43 L376.56,658.37ZM382.78,655.60 L383.75,658.37 L386.68,658.43 L384.34,660.21 L385.19,663.02 L382.78,661.34 L380.37,663.02 L381.22,660.21 L378.88,658.43 L381.82,658.37ZM388.05,655.60 L389.01,658.37 L391.95,658.43 L389.61,660.21 L390.46,663.02 L388.05,661.34 L385.64,663.02 L386.49,660.21 L384.15,658.43 L387.08,658.37ZM393.31,655.60 L394.28,658.37 L397.21,658.43 L394.87,660.21 L395.72,663.02 L393.31,661.34 L390.90,663.02 L391.75,660.21 L389.41,658.43 L392.35,658.37ZM398.58,655.60 L399.54,658.37 L402.48,658.43 L400.14,660.21 L400.99,663.02 L398.58,661.34 L396.17,663.02 L397.02,660.21 L394.68,658.43 L397.61,658.37ZM403.84,655.60 L404.80,658.37 L407.74,658.43 L405.40,660.21 L406.25,663.02 L403.84,661.34 L401.43,663.02 L402.28,660.21 L399.94,658.43 L402.88,658.37ZM409.10,655.60 L410.07,658.37 L413.00,658.43 L410.66,660.21 L411.51,663.02 L409.10,661.34 L406.69,663.02 L407.54,660.21 L405.20,658.43 L408.14,658.37ZM414.37,655.60 L415.33,658.37 L418.27,658.43 L415.93,660.21 L416.78,663.02 L414.37,661.34 L411.96,663.02 L412.81,660.21 L410.47,658.43 L413.40,658.37ZM419.63,655.60 L420.60,658.37 L423.53,658.43 L421.19,660.21 L422.04,663.02 L419.63,661.34 L417.22,663.02 L418.07,660.21 L415.73,658.43 L418.67,658.37ZM424.90,655.60 L425.86,658.37 L428.80,658.43 L426.46,660.21 L427.31,663.02 L424.90,661.34 L422.49,663.02 L423.34,660.21 L421.00,658.43 L423.93,658.37ZM430.16,655.60 L431.12,658.37 L434.06,658.43 L431.72,660.21 L432.57,663.02 L430.16,661.34 L427.75,663.02 L428.60,660.21 L426.26,658.43 L429.20,658.37ZM435.42,655.60 L436.39,658.37 L439.32,658.43 L436.98,660.21 L437.83,663.02 L435.42,661.34 L433.01,663.02 L433.86,660.21 L431.52,658.43 L434.46,658.37ZM440.69,655.60 L441.65,658.37 L444.59,658.43 L442.25,660.21 L443.10,663.02 L440.69,661.34 L438.28,663.02 L439.13,660.21 L436.79,658.43 L439.72,658.37ZM445.95,655.60 L446.92,658.37 L449.85,658.43 L447.51,660.21 L448.36,663.02 L445.95,661.34 L443.54,663.02 L444.39,660.21 L442.05,658.43 L444.99,658.37ZM451.22,655.60 L452.18,658.37 L455.12,658.43 L452.78,660.21 L453.63,663.02 L451.22,661.34 L448.81,663.02 L449.66,660.21 L447.32,658.43 L450.25,658.37ZM456.48,655.60 L457.44,658.37 L460.38,658.43 L458.04,660.21 L458.89,663.02 L456.48,661.34 L454.07,663.02 L454.92,660.21 L452.58,658.43 L455.52,658.37ZM461.74,655.60 L462.71,658.37 L465.64,658.43 L463.30,660.21 L464.15,663.02 L461.74,661.34 L459.33,663.02 L460.18,660.21 L457.84,658.43 L460.78,658.37ZM467.01,655.60 L467.97,658.37 L470.91,658.43 L468.57,660.21 L469.42,663.02 L467.01,661.34 L464.60,663.02 L465.45,660.21 L463.11,658.43 L466.04,658.37ZM472.27,655.60 L473.24,658.37 L476.17,658.43 L473.83,660.21 L474.68,663.02 L472.27,661.34 L469.86,663.02 L470.71,660.21 L468.37,658.43 L471.31,658.37ZM477.54,655.60 L478.50,658.37 L481.44,658.43 L479.10,660.21 L479.95,663.02 L477.54,661.34 L475.13,663.02 L475.98,660.21 L473.64,658.43 L476.57,658.37ZM482.80,655.60 L483.76,658.37 L486.70,658.43 L484.36,660.21 L485.21,663.02 L482.80,661.34 L480.39,663.02 L481.24,660.21 L478.90,658.43 L481.84,658.37ZM488.06,655.60 L489.03,658.37 L491.96,658.43 L489.62,660.21 L490.47,663.02 L488.06,661.34 L485.65,663.02 L486.50,660.21 L484.16,658.43 L487.10,658.37ZM493.33,655.60 L494.29,658.37 L497.23,658.43 L494.89,660.21 L495.74,663.02 L493.33,661.34 L490.92,663.02 L491.77,660.21 L489.43,658.43 L492.36,658.37ZM498.59,655.60 L499.56,658.37 L502.49,658.43 L500.15,660.21 L501.00,663.02 L498.59,661.34 L496.18,663.02 L497.03,660.21 L494.69,658.43 L497.63,658.37ZM503.86,655.60 L504.82,658.37 L507.76,658.43 L505.42,660.21 L506.27,663.02 L503.86,661.34 L501.45,663.02 L502.30,660.21 L499.96,658.43 L502.89,658.37ZM509.12,655.60 L510.08,658.37 L513.02,658.43 L510.68,660.21 L511.53,663.02 L509.12,661.34 L506.71,663.02 L507.56,660.21 L505.22,658.43 L508.16,658.37ZM514.38,655.60 L515.35,658.37 L518.28,658.43 L515.94,660.21 L516.79,663.02 L514.38,661.34 L511.97,663.02 L512.82,660.21 L510.48,658.43 L513.42,658.37ZM519.65,655.60 L520.61,658.37 L523.55,658.43 L521.21,660.21 L522.06,663.02 L519.65,661.34 L517.24,663.02 L518.09,660.21 L515.75,658.43 L518.68,658.37ZM524.91,655.60 L525.88,658.37 L528.81,658.43 L526.47,660.21 L527.32,663.02 L524.91,661.34 L522.50,663.02 L523.35,660.21 L521.01,658.43 L523.95,658.37ZM530.18,655.60 L531.14,658.37 L534.08,658.43 L531.74,660.21 L532.59,663.02 L530.18,661.34 L527.77,663.02 L528.62,660.21 L526.28,658.43 L529.21,658.37ZM535.44,655.60 L536.40,658.37 L539.34,658.43 L537.00,660.21 L537.85,663.02 L535.44,661.34 L533.03,663.02 L533.88,660.21 L531.54,658.43 L534.48,658.37ZM540.70,655.60 L541.67,658.37 L544.60,658.43 L542.26,660.21 L543.11,663.02 L540.70,661.34 L538.29,663.02 L539.14,660.21 L536.80,658.43 L539.74,658.37ZM545.97,655.60 L546.93,658.37 L549.87,658.43 L547.53,660.21 L548.38,663.02 L545.97,661.34 L543.56,663.02 L544.41,660.21 L542.07,658.43 L545.00,658.37ZM551.23,655.60 L552.20,658.37 L555.13,658.43 L552.79,660.21 L553.64,663.02 L551.23,661.34 L548.82,663.02 L549.67,660.21 L547.33,658.43 L550.27,658.37ZM556.50,655.60 L557.46,658.37 L560.40,658.43 L558.06,660.21 L558.91,663.02 L556.50,661.34 L554.09,663.02 L554.94,660.21 L552.60,658.43 L555.53,658.37ZM561.76,655.60 L562.72,658.37 L565.66,658.43 L563.32,660.21 L564.17,663.02 L561.76,661.34 L559.35,663.02 L560.20,660.21 L557.86,658.43 L560.80,658.37ZM567.02,655.60 L567.99,658.37 L570.92,658.43 L568.58,660.21 L569.43,663.02 L567.02,661.34 L564.61,663.02 L565.46,660.21 L563.12,658.43 L566.06,658.37ZM572.29,655.60 L573.25,658.37 L576.19,658.43 L573.85,660.21 L574.70,663.02 L572.29,661.34 L569.88,663.02 L570.73,660.21 L568.39,658.43 L571.32,658.37ZM577.55,655.60 L578.52,658.37 L581.45,658.43 L579.11,660.21 L579.96,663.02 L577.55,661.34 L575.14,663.02 L575.99,660.21 L573.65,658.43 L576.59,658.37ZM582.82,655.60 L583.78,658.37 L586.72,658.43 L584.38,660.21 L585.23,663.02 L582.82,661.34 L580.41,663.02 L581.26,660.21 L578.92,658.43 L581.85,658.37ZM588.08,655.60 L589.04,658.37 L591.98,658.43 L589.64,660.21 L590.49,663.02 L588.08,661.34 L585.67,663.02 L586.52,660.21 L584.18,658.43 L587.12,658.37ZM593.34,655.60 L594.31,658.37 L597.24,658.43 L594.90,660.21 L595.75,663.02 L593.34,661.34 L590.93,663.02 L591.78,660.21 L589.44,658.43 L592.38,658.37ZM598.61,655.60 L599.57,658.37 L602.51,658.43 L600.17,660.21 L601.02,663.02 L598.61,661.34 L596.20,663.02 L597.05,660.21 L594.71,658.43 L597.64,658.37ZM603.87,655.60 L604.84,658.37 L607.77,658.43 L605.43,660.21 L606.28,663.02 L603.87,661.34 L601.46,663.02 L602.31,660.21 L599.97,658.43 L602.91,658.37ZM609.14,655.60 L610.10,658.37 L613.04,658.43 L610.70,660.21 L611.55,663.02 L609.14,661.34 L606.73,663.02 L607.58,660.21 L605.24,658.43 L608.17,658.37Z" fill="#67a33a"/>
</g>
<rect x="84.5" y="394.0" width="526.0" height="269.0" fill="none" stroke="#222" stroke-width="1.2"/>
<line x1="84.5" y1="663.0" x2="84.5" y2="658.0" stroke="#262626" stroke-width="1"/>
<line x1="84.5" y1="394.0" x2="84.5" y2="399.0" stroke="#262626" stroke-width="1"/>
<text x="84.5" y="677.5" text-anchor="middle" class="ax">50</text>
<line x1="172.2" y1="663.0" x2="172.2" y2="658.0" stroke="#262626" stroke-width="1"/>
<line x1="172.2" y1="394.0" x2="172.2" y2="399.0" stroke="#262626" stroke-width="1"/>
<text x="172.2" y="677.5" text-anchor="middle" class="ax">60</text>
<line x1="259.8" y1="663.0" x2="259.8" y2="658.0" stroke="#262626" stroke-width="1"/>
<line x1="259.8" y1="394.0" x2="259.8" y2="399.0" stroke="#262626" stroke-width="1"/>
<text x="259.8" y="677.5" text-anchor="middle" class="ax">70</text>
<line x1="347.5" y1="663.0" x2="347.5" y2="658.0" stroke="#262626" stroke-width="1"/>
<line x1="347.5" y1="394.0" x2="347.5" y2="399.0" stroke="#262626" stroke-width="1"/>
<text x="347.5" y="677.5" text-anchor="middle" class="ax">80</text>
<line x1="435.2" y1="663.0" x2="435.2" y2="658.0" stroke="#262626" stroke-width="1"/>
<line x1="435.2" y1="394.0" x2="435.2" y2="399.0" stroke="#262626" stroke-width="1"/>
<text x="435.2" y="677.5" text-anchor="middle" class="ax">90</text>
<line x1="522.8" y1="663.0" x2="522.8" y2="658.0" stroke="#262626" stroke-width="1"/>
<line x1="522.8" y1="394.0" x2="522.8" y2="399.0" stroke="#262626" stroke-width="1"/>
<text x="522.8" y="677.5" text-anchor="middle" class="ax">100</text>
<line x1="610.5" y1="663.0" x2="610.5" y2="658.0" stroke="#262626" stroke-width="1"/>
<line x1="610.5" y1="394.0" x2="610.5" y2="399.0" stroke="#262626" stroke-width="1"/>
<text x="610.5" y="677.5" text-anchor="middle" class="ax">110</text>
<line x1="84.5" y1="663.0" x2="89.5" y2="663.0" stroke="#262626" stroke-width="1"/>
<text x="78.5" y="667.5" text-anchor="end" class="ax">0</text>
<line x1="84.5" y1="595.8" x2="89.5" y2="595.8" stroke="#262626" stroke-width="1"/>
<text x="78.5" y="600.2" text-anchor="end" class="ax">100</text>
<line x1="84.5" y1="528.5" x2="89.5" y2="528.5" stroke="#262626" stroke-width="1"/>
<text x="78.5" y="533.0" text-anchor="end" class="ax">200</text>
<line x1="84.5" y1="461.2" x2="89.5" y2="461.2" stroke="#262626" stroke-width="1"/>
<text x="78.5" y="465.8" text-anchor="end" class="ax">300</text>
<line x1="84.5" y1="394.0" x2="89.5" y2="394.0" stroke="#262626" stroke-width="1"/>
<text x="78.5" y="398.5" text-anchor="end" class="ax">400</text>
<line x1="605.5" y1="663.0" x2="610.5" y2="663.0" stroke="#262626" stroke-width="1"/>
<text x="615.5" y="667.5" text-anchor="start" class="ax">0</text>
<line x1="605.5" y1="609.2" x2="610.5" y2="609.2" stroke="#262626" stroke-width="1"/>
<text x="615.5" y="613.7" text-anchor="start" class="ax">1</text>
<line x1="605.5" y1="555.4" x2="610.5" y2="555.4" stroke="#262626" stroke-width="1"/>
<text x="615.5" y="559.9" text-anchor="start" class="ax">2</text>
<line x1="605.5" y1="501.6" x2="610.5" y2="501.6" stroke="#262626" stroke-width="1"/>
<text x="615.5" y="506.1" text-anchor="start" class="ax">3</text>
<line x1="605.5" y1="447.8" x2="610.5" y2="447.8" stroke="#262626" stroke-width="1"/>
<text x="615.5" y="452.3" text-anchor="start" class="ax">4</text>
<line x1="605.5" y1="394.0" x2="610.5" y2="394.0" stroke="#262626" stroke-width="1"/>
<text x="615.5" y="398.5" text-anchor="start" class="ax">5</text>
<rect x="484.6" y="426.6" width="109.6" height="122.8" fill="#fff" stroke="#cdcdcd" stroke-width="1.2"/>
<text x="500.6" y="438.9" class="lg">S1 voltage</text>
<line x1="486.3" y1="435.2" x2="495.5" y2="435.2" stroke="#67a33a" stroke-width="0.6"/>
<path d="M490.80,432.00 L491.55,434.16 L493.84,434.21 L492.02,435.60 L492.68,437.79 L490.80,436.48 L488.92,437.79 L489.58,435.60 L487.76,434.21 L490.05,434.16Z" fill="#67a33a"/>
<text x="500.6" y="454.1" class="lg">S2 gas</text>
<line x1="486.3" y1="450.4" x2="495.5" y2="450.4" stroke="#7b2c8c" stroke-width="0.6"/>
<path d="M488.50,451.75 L493.10,451.75 L490.80,447.75Z" fill="#7b2c8c"/>
<text x="500.6" y="469.3" class="lg">S3 smoke</text>
<line x1="486.3" y1="465.6" x2="495.5" y2="465.6" stroke="#0a6fba" stroke-width="0.6"/>
<circle cx="490.8" cy="465.6" r="2.1" fill="#0a6fba"/>
<text x="500.6" y="484.6" class="lg">S4 creep distance</text>
<line x1="486.3" y1="480.9" x2="495.5" y2="480.9" stroke="#e9ac2b" stroke-width="0.6"/>
<path d="M490.80,478.36 L492.80,480.86 L490.80,483.36 L488.80,480.86Z" fill="#e9ac2b"/>
<text x="500.6" y="499.8" class="lg">S5 temperature</text>
<line x1="486.3" y1="496.1" x2="495.5" y2="496.1" stroke="#000" stroke-width="0.6"/>
<path d="M488.50,494.75 L493.10,494.75 L490.80,498.75Z" fill="#000"/>
<text x="500.6" y="515.0" class="lg">S6 pressure</text>
<line x1="486.3" y1="511.3" x2="495.5" y2="511.3" stroke="#d9592a" stroke-width="0.6"/>
<path d="M488.20,511.30H493.40M490.80,508.70V513.90M488.93,509.43L492.67,513.17M488.93,513.17L492.67,509.43" stroke="#d9592a" stroke-width="0.7" fill="none"/>
<text x="500.6" y="530.2" class="lg">heat plate temp.</text>
<line x1="486.3" y1="526.5" x2="495.5" y2="526.5" stroke="#444" stroke-width="0.7"/>
<text x="500.6" y="545.4" class="lg">visible venting</text>
<line x1="486.3" y1="541.7" x2="496" y2="541.7" stroke="#b8405a" stroke-width="1" stroke-dasharray="3,2.4"/>
<text transform="translate(48.6,528) rotate(-90)" text-anchor="middle" class="at">Temperature <tspan font-style="italic">T</tspan> [°C] / pressure <tspan font-style="italic">p</tspan> [kPa]</text>
<text transform="translate(639.8,528.2) rotate(-90)" text-anchor="middle" class="at">Sensor / cell voltage <tspan font-style="italic">V</tspan><tspan font-size="7.6px" dy="2.3">sens / cell</tspan><tspan dy="-2.3"> [V]</tspan></text>
<text x="347.2" y="692.4" text-anchor="middle" class="at">Time <tspan font-style="italic">t</tspan> [s]</text>
<line x1="0" y1="0.5" x2="685" y2="0.5" stroke="#1c1c1c" stroke-width="1"/>
<line x1="0.5" y1="0" x2="0.5" y2="707" stroke="#1c1c1c" stroke-width="1.2"/>
<line x1="684.3" y1="0" x2="684.3" y2="707" stroke="#1c1c1c" stroke-width="1.4"/>
</svg>
</body></html>
